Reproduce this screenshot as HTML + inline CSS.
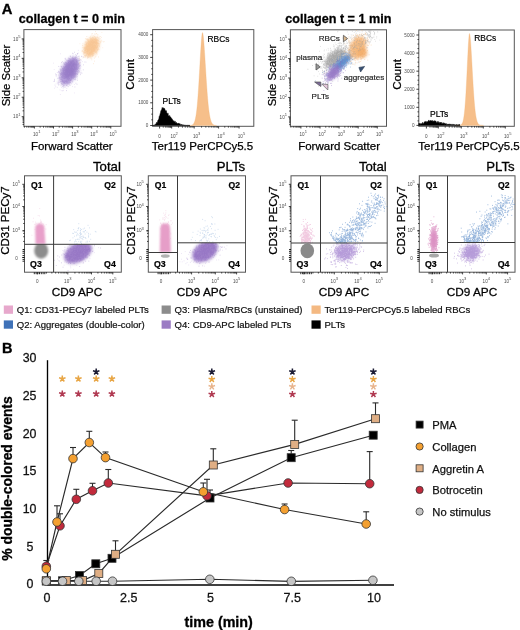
<!DOCTYPE html><html><head><meta charset="utf-8"><style>html,body{margin:0;padding:0;background:#fff;width:520px;height:630px;overflow:hidden}svg{display:block;filter:blur(0.3px);font-family:"Liberation Sans",sans-serif}</style></head><body>
<svg width="520" height="630" viewBox="0 0 520 630">
<defs>
<filter id="b0_4" x="-50%" y="-50%" width="200%" height="200%"><feGaussianBlur stdDeviation="0.4"/></filter>
<filter id="b0_5" x="-50%" y="-50%" width="200%" height="200%"><feGaussianBlur stdDeviation="0.5"/></filter>
<filter id="b0_6" x="-50%" y="-50%" width="200%" height="200%"><feGaussianBlur stdDeviation="0.6"/></filter>
<filter id="b0_7" x="-50%" y="-50%" width="200%" height="200%"><feGaussianBlur stdDeviation="0.7"/></filter>
<filter id="b0_8" x="-50%" y="-50%" width="200%" height="200%"><feGaussianBlur stdDeviation="0.8"/></filter>
<filter id="b0_9" x="-50%" y="-50%" width="200%" height="200%"><feGaussianBlur stdDeviation="0.9"/></filter>
<filter id="b1_0" x="-50%" y="-50%" width="200%" height="200%"><feGaussianBlur stdDeviation="1.0"/></filter>
<filter id="b1_1" x="-50%" y="-50%" width="200%" height="200%"><feGaussianBlur stdDeviation="1.1"/></filter>
<filter id="b1_2" x="-50%" y="-50%" width="200%" height="200%"><feGaussianBlur stdDeviation="1.2"/></filter>
<filter id="b1_3" x="-50%" y="-50%" width="200%" height="200%"><feGaussianBlur stdDeviation="1.3"/></filter>
<filter id="b1_4" x="-50%" y="-50%" width="200%" height="200%"><feGaussianBlur stdDeviation="1.4"/></filter>
<filter id="b1_5" x="-50%" y="-50%" width="200%" height="200%"><feGaussianBlur stdDeviation="1.5"/></filter>
<filter id="b1_6" x="-50%" y="-50%" width="200%" height="200%"><feGaussianBlur stdDeviation="1.6"/></filter>
<filter id="b1_7" x="-50%" y="-50%" width="200%" height="200%"><feGaussianBlur stdDeviation="1.7"/></filter>
<filter id="b1_8" x="-50%" y="-50%" width="200%" height="200%"><feGaussianBlur stdDeviation="1.8"/></filter>
<filter id="b1_9" x="-50%" y="-50%" width="200%" height="200%"><feGaussianBlur stdDeviation="1.9"/></filter>
<filter id="b2_0" x="-50%" y="-50%" width="200%" height="200%"><feGaussianBlur stdDeviation="2.0"/></filter>
<filter id="b2_1" x="-50%" y="-50%" width="200%" height="200%"><feGaussianBlur stdDeviation="2.1"/></filter>
<filter id="b2_2" x="-50%" y="-50%" width="200%" height="200%"><feGaussianBlur stdDeviation="2.2"/></filter>
<filter id="b2_3" x="-50%" y="-50%" width="200%" height="200%"><feGaussianBlur stdDeviation="2.3"/></filter>
<filter id="b2_4" x="-50%" y="-50%" width="200%" height="200%"><feGaussianBlur stdDeviation="2.4"/></filter>
<filter id="b2_5" x="-50%" y="-50%" width="200%" height="200%"><feGaussianBlur stdDeviation="2.5"/></filter>
<filter id="b2_6" x="-50%" y="-50%" width="200%" height="200%"><feGaussianBlur stdDeviation="2.6"/></filter>
<filter id="b2_7" x="-50%" y="-50%" width="200%" height="200%"><feGaussianBlur stdDeviation="2.7"/></filter>
<filter id="b2_8" x="-50%" y="-50%" width="200%" height="200%"><feGaussianBlur stdDeviation="2.8"/></filter>
<filter id="b2_9" x="-50%" y="-50%" width="200%" height="200%"><feGaussianBlur stdDeviation="2.9"/></filter>
<filter id="b3_0" x="-50%" y="-50%" width="200%" height="200%"><feGaussianBlur stdDeviation="3.0"/></filter>
<filter id="b3_1" x="-50%" y="-50%" width="200%" height="200%"><feGaussianBlur stdDeviation="3.1"/></filter>
<filter id="b3_2" x="-50%" y="-50%" width="200%" height="200%"><feGaussianBlur stdDeviation="3.2"/></filter>
<filter id="b3_3" x="-50%" y="-50%" width="200%" height="200%"><feGaussianBlur stdDeviation="3.3"/></filter>
<filter id="b3_4" x="-50%" y="-50%" width="200%" height="200%"><feGaussianBlur stdDeviation="3.4"/></filter>
<filter id="b3_5" x="-50%" y="-50%" width="200%" height="200%"><feGaussianBlur stdDeviation="3.5"/></filter>
<filter id="b3_6" x="-50%" y="-50%" width="200%" height="200%"><feGaussianBlur stdDeviation="3.6"/></filter>
<filter id="b3_7" x="-50%" y="-50%" width="200%" height="200%"><feGaussianBlur stdDeviation="3.7"/></filter>
<filter id="b3_8" x="-50%" y="-50%" width="200%" height="200%"><feGaussianBlur stdDeviation="3.8"/></filter>
<filter id="b3_9" x="-50%" y="-50%" width="200%" height="200%"><feGaussianBlur stdDeviation="3.9"/></filter>
<filter id="b4_0" x="-50%" y="-50%" width="200%" height="200%"><feGaussianBlur stdDeviation="4.0"/></filter>
</defs>
<rect width="520" height="630" fill="#fff"/>
<text x="1.8" y="13.6" font-size="14.8" font-weight="bold" text-anchor="start" fill="#000" stroke="#000" stroke-width="0.33">A</text>
<text x="18.8" y="23" font-size="12.6" font-weight="bold" text-anchor="start" fill="#000" stroke="#000" stroke-width="0.28">collagen t = 0 min</text>
<text x="285.3" y="23" font-size="12.6" font-weight="bold" text-anchor="start" fill="#000" stroke="#000" stroke-width="0.28">collagen t = 1 min</text>
<rect x="23.9" y="29.6" width="97.1" height="96.7" fill="none" stroke="#555" stroke-width="1"/>
<path d="M22.6 124.44h1.3M22.6 122.56h1.3M22.6 121.01h1.3M22.6 119.71h1.3M22.6 118.58h1.3M22.6 117.59h1.3M21.7 116.7h2.2M22.6 110.84h1.3M22.6 107.42h1.3M22.6 104.99h1.3M22.6 103.11h1.3M22.6 101.56h1.3M22.6 100.26h1.3M22.6 99.13h1.3M22.6 98.14h1.3M21.7 97.25h2.2M22.6 91.39h1.3M22.6 87.97h1.3M22.6 85.54h1.3M22.6 83.66h1.3M22.6 82.11h1.3M22.6 80.81h1.3M22.6 79.68h1.3M22.6 78.69h1.3M21.7 77.8h2.2M22.6 71.94h1.3M22.6 68.52h1.3M22.6 66.09h1.3M22.6 64.21h1.3M22.6 62.66h1.3M22.6 61.36h1.3M22.6 60.23h1.3M22.6 59.24h1.3M21.7 58.35h2.2M22.6 52.49h1.3M22.6 49.07h1.3M22.6 46.64h1.3M22.6 44.76h1.3M22.6 43.21h1.3M22.6 41.91h1.3M22.6 40.78h1.3M22.6 39.79h1.3M21.7 38.9h2.2" stroke="#111" stroke-width="0.8"/>
<text x="20.5" y="40.6" font-size="4.6" fill="#4a4a4a" text-anchor="end">10<tspan dy="-2.6" font-size="4.05">5</tspan></text>
<text x="20.5" y="60.05" font-size="4.6" fill="#4a4a4a" text-anchor="end">10<tspan dy="-2.6" font-size="4.05">4</tspan></text>
<text x="20.5" y="79.5" font-size="4.6" fill="#4a4a4a" text-anchor="end">10<tspan dy="-2.6" font-size="4.05">3</tspan></text>
<text x="20.5" y="98.95" font-size="4.6" fill="#4a4a4a" text-anchor="end">10<tspan dy="-2.6" font-size="4.05">2</tspan></text>
<text x="20.5" y="118.4" font-size="4.6" fill="#4a4a4a" text-anchor="end">10<tspan dy="-2.6" font-size="4.05">1</tspan></text>
<path d="M24.41 126.3v1.3M26.8 126.3v1.3M28.65 126.3v1.3M30.16 126.3v1.3M31.44 126.3v1.3M32.55 126.3v1.3M33.53 126.3v1.3M34.4 126.3v2.2M40.15 126.3v1.3M43.51 126.3v1.3M45.9 126.3v1.3M47.75 126.3v1.3M49.26 126.3v1.3M50.54 126.3v1.3M51.65 126.3v1.3M52.63 126.3v1.3M53.5 126.3v2.2M59.25 126.3v1.3M62.61 126.3v1.3M65 126.3v1.3M66.85 126.3v1.3M68.36 126.3v1.3M69.64 126.3v1.3M70.75 126.3v1.3M71.73 126.3v1.3M72.6 126.3v2.2M78.35 126.3v1.3M81.71 126.3v1.3M84.1 126.3v1.3M85.95 126.3v1.3M87.46 126.3v1.3M88.74 126.3v1.3M89.85 126.3v1.3M90.83 126.3v1.3M91.7 126.3v2.2M97.45 126.3v1.3M100.81 126.3v1.3M103.2 126.3v1.3M105.05 126.3v1.3M106.56 126.3v1.3M107.84 126.3v1.3M108.95 126.3v1.3M109.93 126.3v1.3M110.8 126.3v2.2" stroke="#111" stroke-width="0.8"/>
<text x="36.7" y="135.9" font-size="4.6" fill="#4a4a4a" text-anchor="middle">10<tspan dy="-2.6" font-size="4.05">1</tspan></text>
<text x="55.8" y="135.9" font-size="4.6" fill="#4a4a4a" text-anchor="middle">10<tspan dy="-2.6" font-size="4.05">2</tspan></text>
<text x="74.9" y="135.9" font-size="4.6" fill="#4a4a4a" text-anchor="middle">10<tspan dy="-2.6" font-size="4.05">3</tspan></text>
<text x="94" y="135.9" font-size="4.6" fill="#4a4a4a" text-anchor="middle">10<tspan dy="-2.6" font-size="4.05">4</tspan></text>
<text x="113.1" y="135.9" font-size="4.6" fill="#4a4a4a" text-anchor="middle">10<tspan dy="-2.6" font-size="4.05">5</tspan></text>
<text x="10.3" y="75.5" font-size="11.3" text-anchor="middle" fill="#000" stroke="#000" stroke-width="0.25" transform="rotate(-90 10.3 75.5)">Side Scatter</text>
<text x="71.8" y="150.3" font-size="11.5" text-anchor="middle" fill="#000" stroke="#000" stroke-width="0.25">Forward Scatter</text>
<path d="M53.43 63.15h.01M68.19 67.04h.01M74.89 76.68h.01M65.83 79.12h.01M61.71 72.26h.01M60.5 77.64h.01M75.35 73.19h.01M76.15 59.33h.01M67.58 75.54h.01M66.52 76.45h.01M71.84 66.69h.01M75.05 69.73h.01M72.69 71.38h.01M66.49 79.88h.01M64.22 68.75h.01M75.07 65.98h.01M60.22 81.43h.01M72.9 77.75h.01M54.88 85.02h.01M63.17 82.26h.01M61.39 87.54h.01M61.92 69.92h.01M72.46 86.54h.01M77.91 72.08h.01M67.9 68.47h.01M72.5 74.54h.01M60.34 94.53h.01M54.22 69.54h.01M70.53 72.04h.01M69.69 69.83h.01M63.2 84.95h.01M62.08 72.7h.01M63.88 79.15h.01M65.07 77.84h.01M80.02 64.33h.01M67.61 79.06h.01M69.33 71.28h.01M80.94 66.74h.01M64.2 74.91h.01M67.09 71.07h.01M61 65.63h.01M77.54 74.21h.01M68.9 84.34h.01M74.37 72.53h.01M78.76 60.4h.01M63.26 85.17h.01M74.33 63.8h.01M68.78 69.32h.01M65.68 76.27h.01M78.54 53.15h.01M80.32 67.79h.01M66.99 83.12h.01M69.54 70.19h.01M69.16 64.42h.01M65.53 71.17h.01M80.42 68.73h.01M71.71 72.82h.01M72.76 65.17h.01M74.09 57.24h.01M61.06 74.4h.01M70.06 69.01h.01M71.79 77.27h.01M68.12 68.91h.01M63.17 81.12h.01M65.87 75.67h.01M69.18 73.03h.01M65.57 59.08h.01M73.36 60.14h.01M59.47 80.84h.01M70.39 80.27h.01M68.53 63.33h.01M63.62 90.3h.01M75.01 78.84h.01M67.52 71.12h.01M72.04 58.25h.01M73.47 65.27h.01M68.06 73.94h.01M62.97 71.92h.01M70.68 74.36h.01M86.14 62.17h.01M66.35 74.22h.01M67.17 73.24h.01M65.88 65.31h.01M70.55 72.85h.01M62.47 69.77h.01M59.14 78.34h.01M75.78 74.19h.01M63.08 72.8h.01M79.96 63.13h.01M79.9 68.81h.01M70.68 71.84h.01M75.17 66.33h.01M77.66 78.76h.01M73.14 61.07h.01M66.54 69.62h.01M65.37 62.49h.01M64.05 82.7h.01M78.33 71.45h.01M66.84 88.49h.01M55.92 87.02h.01M63.94 71.67h.01M63.06 77.87h.01M71.66 70.23h.01M78.33 50.33h.01M66.91 78.99h.01M68.23 77.32h.01M68.92 68.43h.01M71.46 66.47h.01M69.75 73.08h.01M68.18 72.65h.01M75.07 65.9h.01M81.03 70.84h.01M67.89 81.72h.01M69.43 71.85h.01M61.32 66.62h.01M66.8 81.41h.01M61.02 63.97h.01M58.77 75.31h.01M77.99 64.32h.01M73.84 70.97h.01M69.15 69.84h.01M58.46 72.19h.01M67.14 71.17h.01M57.39 87.32h.01M67.69 82.7h.01M82.25 73.18h.01M61.24 90.65h.01M69.36 61.51h.01M56.06 83.87h.01M72.54 64.06h.01M64.92 78.17h.01M67.22 61.22h.01M70.65 70.1h.01M57.07 82.04h.01M80.47 62.45h.01M81.07 60.6h.01M74.57 74.21h.01M65.96 72.32h.01M71.34 73.68h.01M64.57 79.45h.01M72.39 60.19h.01M65.44 75.06h.01M62.85 68.33h.01M58.88 74.65h.01M70.68 78.54h.01M62.95 82.02h.01M76.08 60.22h.01M73.78 74.8h.01M65.17 58.14h.01M65.68 68.99h.01M67.32 77.66h.01M70.01 74.88h.01M65.18 75.13h.01M74.62 73.41h.01M68.89 74.88h.01M62.19 70.77h.01M58.86 81.15h.01M69.94 80.19h.01M79.04 57.25h.01M57.17 72.45h.01M71.54 83.72h.01M73.94 69.41h.01M82.31 61.59h.01M61.23 83.14h.01M67.12 72.16h.01M61.16 73.96h.01M74.32 92.94h.01M71.85 63.97h.01M77.24 75.04h.01M66.61 68.8h.01M67.01 78.16h.01M63.23 62.88h.01M65.24 74.92h.01M73.74 74.66h.01M58.45 77.94h.01M69.47 84.52h.01M77.02 59.81h.01M62.12 73.04h.01M68.3 67.17h.01M67.08 70.2h.01M67.32 74.85h.01M64.62 74.27h.01M68.17 63.34h.01M66.67 72.98h.01M63.76 69.89h.01M63.22 67.69h.01M74.42 60.31h.01M76.85 67.01h.01M63.62 63.87h.01M67.05 76.07h.01M60.23 81.85h.01M68.83 60.11h.01M77.96 64.37h.01M66.32 71.02h.01M79.28 69.74h.01M69.07 62.1h.01M75.05 64.46h.01M72.42 62.17h.01M63.78 73.28h.01M79.05 58.8h.01M63.27 81.83h.01M76.26 64.71h.01M71.43 66.45h.01M67.96 60.53h.01M77.23 53.87h.01M76.26 57.78h.01M69.22 83.6h.01M57.62 83.99h.01M72.89 63.56h.01M56.54 75.97h.01M72.67 72.68h.01M67.83 60.85h.01M53.36 81.42h.01M59.96 89.82h.01M76.1 71.34h.01M62.16 66.93h.01M63.04 70.59h.01M65.99 68.86h.01M60.14 76.01h.01M64.74 85.52h.01M64.78 70.55h.01M61.67 77.99h.01M65.18 87.18h.01M67.98 64.63h.01M71.37 72.6h.01M66.48 65h.01M59.17 76.97h.01M57.54 72.49h.01M74.32 84.47h.01M64.03 78.2h.01M71.56 69.83h.01M65.91 77.96h.01M71.85 68.19h.01M71.24 68.07h.01M87.81 57.4h.01M58.26 81.01h.01M65.69 59.26h.01M64.11 69.36h.01M62.84 67.91h.01M66.84 85.83h.01M71.54 77.11h.01M68.01 62h.01M62.27 68.39h.01M68.1 69.42h.01M75.1 76.97h.01M60.62 53.82h.01M72.01 72.46h.01M54.54 88.18h.01M71.61 79.73h.01M55.54 86.1h.01" stroke="#c8b4e4" stroke-width="1" stroke-linecap="round" opacity="0.35"/>
<ellipse cx="69.5" cy="71" rx="15" ry="8.3" fill="#ac94d6" opacity="0.9" transform="rotate(-64 69.5 71)" filter="url(#b1_6)"/>
<ellipse cx="70.5" cy="69" rx="10" ry="5.5" fill="#9a7ec8" opacity="0.7" transform="rotate(-64 70.5 69)" filter="url(#b1_8)"/>
<path d="M63.4 70.41h.01M65.34 81.54h.01M64.28 76.61h.01M72.66 60.98h.01M65.62 62.26h.01M64.82 72.07h.01M66.56 76.83h.01M66.63 85.4h.01M71.94 75.48h.01M69.1 71.06h.01M68.51 71.22h.01M66.06 70.1h.01M67.33 79.3h.01M68.35 70.99h.01M71.66 72.38h.01M80.36 65.53h.01M75.52 58.36h.01M63.4 69.17h.01M63.73 74.58h.01M63.78 68.75h.01M62.98 72.89h.01M71.99 78.41h.01M70.16 71.81h.01M60.33 75.23h.01M73.96 68.12h.01M73.92 74.02h.01M68.96 68.65h.01M66.35 70.99h.01M65.84 75.28h.01M67.46 77.91h.01M71.14 73.78h.01M72.16 76.88h.01M74.85 71.66h.01M73.96 73.21h.01M70.16 82.69h.01M72.22 71.77h.01M59.31 77.23h.01M66.98 74.91h.01M69.72 73.56h.01M61.23 84.28h.01M73.24 72.06h.01M68.64 69.32h.01M65.49 70.36h.01M73.56 76.52h.01M70.79 74.74h.01M67.12 77.99h.01M72.11 74.52h.01M71.69 76.68h.01M71.09 71.01h.01M56.26 74.59h.01M67.72 68.17h.01M68.25 69.19h.01M65.32 70.14h.01M68.81 74.33h.01M75.82 69.47h.01M62.2 81.33h.01M66.73 65.81h.01M77.95 73.1h.01M68.73 68.26h.01M66.11 66.15h.01M68.25 75.84h.01M70.25 73.53h.01M68.93 65.41h.01M73.9 69.55h.01M68.34 68.71h.01M61.04 79.51h.01M71.94 67.7h.01M76.25 64.54h.01M70.43 63.03h.01M71.52 70.03h.01M64.03 81.33h.01M83.26 69.85h.01M66.34 70.69h.01M66.4 90.62h.01M70.54 68.36h.01M64.12 80.83h.01M67.96 81.07h.01M70.79 76.93h.01M78.47 64.75h.01M69.52 74.1h.01M68.12 68.07h.01M73.22 58.23h.01M76.66 61.19h.01M71.35 72.77h.01M73.98 75.2h.01M66.93 80.27h.01M71.22 77.63h.01M76.62 70.93h.01M71.42 68.64h.01M64.25 67.52h.01M68.32 62.12h.01M61.53 73.56h.01M75.32 74.31h.01M68.71 64.51h.01M76.07 69.33h.01M75.23 64.86h.01M77.28 71.48h.01M72.27 74.93h.01M70.3 68.37h.01M65.45 77.39h.01M64.43 82.21h.01M72.07 67.41h.01M67.32 70.39h.01M70.39 68.86h.01M69.99 85.41h.01M61.87 70.33h.01M68.5 75.52h.01M63.23 75.16h.01M62.79 86.55h.01M71.57 74.8h.01M72.23 64.85h.01M73.67 69.85h.01M61.52 72.12h.01M73.63 73.14h.01M69.71 64.79h.01M62.77 90.75h.01M69.78 72.18h.01M61.53 62.58h.01M68.89 65.01h.01M75.92 59.94h.01M79.1 66.21h.01M71.61 69.42h.01M71.47 69.44h.01M66.75 63.09h.01M73.13 77.27h.01M76.19 74.6h.01M72.59 64.94h.01M75.11 57.4h.01M62.86 69.09h.01M72.68 72.95h.01M80.35 74.64h.01M76.62 63.27h.01M74.17 73.53h.01M76.38 62.09h.01M62.6 75.7h.01M73.93 74.72h.01M64.19 70.06h.01M71.29 65.31h.01M73.99 64.47h.01M67.87 82.8h.01M68.06 77.93h.01M72.07 69.44h.01M64.46 74.04h.01M59.63 78.89h.01M73.15 64.11h.01M68.44 66.36h.01M66.18 65.27h.01M63.16 71.87h.01M71.03 63.16h.01M61.72 69.21h.01M68.02 61.13h.01M60.33 74.13h.01M67.38 77.09h.01M71.71 70.37h.01M74.77 79.43h.01M66.07 63.69h.01M67.79 68h.01M69.91 78.9h.01M68.92 70.11h.01M67.11 72.77h.01M78.96 67.97h.01M66.14 74.64h.01M63.69 71.83h.01M68.51 60.41h.01M78.13 56.53h.01M77.22 58.09h.01M64.53 68.05h.01M66.5 67.71h.01M76.56 61.65h.01M71.27 72.9h.01M63.86 76.4h.01M72.23 71.36h.01M73.14 69.01h.01M60.04 73.31h.01M62.91 81.52h.01M66.34 81.45h.01M69.52 65.46h.01M58.93 72.17h.01M67.97 71.43h.01M73.04 70.95h.01M77.5 69.74h.01M60.13 69.22h.01M81 72.45h.01M62.32 74.92h.01M71.92 75.2h.01M70.79 80.18h.01M76.93 65.18h.01M69.98 71.46h.01M62.69 73.85h.01M70.71 74.53h.01M66.07 71.18h.01M62.28 61.63h.01M74.93 86.96h.01M68.76 79.3h.01M75.12 76.9h.01M74.38 52.25h.01M78.18 67.26h.01M75.14 74.68h.01M77.71 69.06h.01M76.18 57.09h.01M64.19 70.36h.01M67.63 73.14h.01M65.17 58.77h.01M64.7 64.54h.01M72.05 66.64h.01M64.09 72.6h.01M75.21 57.73h.01M74.71 59.28h.01M78.65 70.74h.01M76.65 68.78h.01M62.67 84.58h.01M76.16 68.93h.01M65.92 70.87h.01M69.65 67.45h.01M75.18 68.08h.01M63.69 71.01h.01M62.89 81.88h.01M65.72 66.09h.01M67.51 76.21h.01M74.58 76.23h.01M64.67 73.69h.01M69.23 73.72h.01M58.52 84.92h.01M69.16 60.68h.01M65.67 67.02h.01M78.65 66.19h.01M84.93 62h.01M71.4 71.74h.01M60.87 81.83h.01M69.22 78.32h.01M64.27 78.52h.01M70.88 75.86h.01M70.86 71h.01M63.97 85.01h.01M72.92 69.81h.01M62.35 80.11h.01M68.95 68.25h.01M62.64 68.57h.01M66.8 72.3h.01M63.89 68.87h.01M67.18 74.37h.01M63.87 73.37h.01M64.35 82.53h.01M71.11 72.03h.01M70.21 55.94h.01M72.94 56.15h.01M70.28 60.35h.01M74.64 67.62h.01M73.72 78.7h.01M77.46 62.84h.01M68 70.74h.01M74.8 74.16h.01M62.83 70.18h.01M75.46 73.14h.01M65.59 72.73h.01M58.73 66.45h.01M75.94 83.19h.01M74.23 76.42h.01M73.1 53.73h.01M69.91 71.78h.01M67.91 72.21h.01M71.64 67.6h.01M66.23 63.5h.01M63.27 77.25h.01M70.59 73.26h.01M73.36 65.22h.01M74.91 71.39h.01M70.2 70.32h.01M83.48 64.85h.01M64.57 74.25h.01M70.75 70.92h.01M60.56 70.98h.01M69.67 58.65h.01M68.1 86.6h.01M63.74 73.78h.01M69.76 75.54h.01M71.45 66.41h.01M67.55 64.99h.01M72.77 60.95h.01M62.38 80.66h.01M70.13 65.04h.01M71.38 74.36h.01M69.77 76.69h.01M69.09 66.3h.01M63.05 75.53h.01M63.74 85.52h.01M67.91 73.31h.01M68.46 82.99h.01M77.39 80.26h.01M73.9 70.05h.01M70.39 68.83h.01M74.07 59.99h.01M65.61 70.77h.01M61.04 79.67h.01M63.23 74.25h.01M64.98 76.47h.01M63.88 78.42h.01M73.74 69.43h.01M65.87 74.61h.01M62.25 83.97h.01M67.19 64.06h.01M75.34 74.78h.01M72.59 69.53h.01M76.6 73.58h.01M74.58 68.21h.01M75.25 73.49h.01M72.63 62.21h.01M73.6 69.46h.01M81 73.34h.01M66.23 65.98h.01M69.15 82.98h.01M75.37 75.24h.01M70.24 73.52h.01M73.07 71.01h.01M69.86 82.51h.01M72.34 58.75h.01M71.42 71.06h.01M62.17 77.53h.01M61.27 81.25h.01M66.19 71.73h.01M68.65 71.34h.01M67.7 76.12h.01M71.55 71.23h.01M61.91 72.65h.01M78.96 71.01h.01M71.59 78.06h.01M72.18 72.63h.01M71.33 63.73h.01M77.61 53.5h.01M68.31 78.83h.01M69.56 74.91h.01M60.24 73.49h.01M74.94 67.11h.01M77.01 84.24h.01M60.76 70.78h.01M73.25 73.08h.01M67.71 78.29h.01M65.92 77.24h.01M73.25 76.8h.01M58.01 82.92h.01M65.38 81.05h.01M73.81 76.55h.01M69.22 69.63h.01M67.27 71.46h.01M64.11 83.18h.01M66.25 73.29h.01M78.12 68.54h.01M67.81 65.54h.01M72.63 73.18h.01M61.73 74.61h.01M74.17 68.01h.01M67.19 74.7h.01M55.63 73.99h.01M66.84 76.4h.01M70.12 59.22h.01M68.5 68.67h.01M79.28 66.1h.01M63.59 72.12h.01M68.47 62.67h.01M73.11 77.78h.01M69.43 72.28h.01M83.66 57.16h.01M73.28 66.44h.01M64.43 72.71h.01M68.96 71.45h.01M75.34 71.13h.01M77.13 64.62h.01M67.9 74.3h.01M63.96 82.83h.01M68.14 72.67h.01M67.31 69.8h.01M77.36 73.92h.01M73.86 62.14h.01M66.15 66.72h.01M70.32 64.62h.01M68.7 79.8h.01M74.84 66.36h.01M75.86 56.61h.01M69.45 64.52h.01M70.43 69.34h.01M63.51 66.79h.01M70.32 56.49h.01M69.55 78.76h.01M67.27 70.84h.01M72.47 68.61h.01M76.67 68.29h.01M70.58 75.18h.01M70.59 68.97h.01M76.85 76.9h.01M72.49 71.45h.01M67.69 71.22h.01M68.59 80.08h.01M71.01 71.91h.01M69.06 63.47h.01M66.6 77.66h.01M68.07 72.31h.01M64.05 62.8h.01M65.31 77.89h.01M69 69.23h.01M64.31 77.32h.01M66.85 60.24h.01M75.73 54.74h.01M75.99 57.29h.01M69.17 72.67h.01M67.53 63.86h.01M72.35 71.38h.01M65.12 68.01h.01M73.72 60.14h.01M70.23 82.36h.01M70.28 62.58h.01M67.36 70.36h.01M78.3 63.54h.01M68.63 69.01h.01M66.14 74.97h.01M71.27 69.55h.01M75.99 68.02h.01M61.07 66.59h.01M67.89 66.14h.01M63.88 72.61h.01M58.28 83.33h.01M69.15 63.32h.01M68.55 64.7h.01M71.15 70.57h.01M66.28 68.86h.01M73.38 64.25h.01M69.55 74.84h.01M64.35 74.39h.01M69.39 72.52h.01M79.74 66.07h.01M66.19 80.96h.01M70.95 61.76h.01M67.15 75.19h.01M62.34 76.69h.01M74.69 63.02h.01M72.51 73.28h.01M62.06 78.22h.01M67.51 73.02h.01M76.85 66.82h.01M71.5 62.03h.01M68.82 74.23h.01M66.89 66.33h.01M68.69 64.65h.01M65.4 74.38h.01M78.88 72.61h.01M67.85 70.46h.01M65.74 73.64h.01M65.76 73.28h.01M69.1 70.24h.01M72.07 72.01h.01M68.36 75.16h.01M75.87 77.66h.01M73.97 63.89h.01M75.67 72.22h.01M73.45 65.54h.01M75.74 64.01h.01M65.99 64.37h.01M76.49 55.46h.01M66.53 76.44h.01M71.24 65.1h.01M60.33 69.18h.01M78.93 60.11h.01M73.63 58.82h.01M61.42 83.37h.01M65.35 77.06h.01M70.82 66.1h.01M73.63 66.43h.01M67.12 63.69h.01M65.75 69.76h.01M72.09 68.47h.01M72.2 66.87h.01M67.82 70.83h.01M70.71 63.02h.01M58.92 84.69h.01M71.36 66.62h.01M70.56 80.14h.01M68.66 62.59h.01M74.5 75.35h.01M69.76 78.55h.01M69.02 67.65h.01M69.46 78.59h.01M60.97 74.45h.01M57.81 78.38h.01M64.54 68.81h.01M69.59 66.9h.01M71.64 63.5h.01M67.09 71.01h.01M73.32 64.12h.01M61.5 66.95h.01M71.06 72.54h.01M66.03 64.52h.01M70.49 62.65h.01M66.82 72.54h.01M64.33 70.51h.01M63.8 69.56h.01M65.97 68.59h.01M66.49 77.05h.01M75.11 65.16h.01M70.31 74.74h.01M67.27 66.05h.01M63.8 75.11h.01M67.2 66.89h.01M72.49 69.19h.01M60.43 70.08h.01M80.82 59.66h.01M68.89 67.61h.01M72.38 57.58h.01M73.93 65.16h.01M71.22 77.37h.01M69.54 74.21h.01M74.91 70h.01M70.21 70.84h.01M74.3 72.93h.01M73.26 75.22h.01M63.18 83.01h.01M74.19 75.17h.01M62.83 86.26h.01M71.05 68.65h.01M63.63 74.2h.01M66.06 75.29h.01M71.71 73.91h.01M65.44 66.75h.01M67.24 81.85h.01M65.07 83.43h.01M67.04 78.7h.01M54.46 80.7h.01M65.93 77.33h.01M77.18 61.47h.01M63.15 76.72h.01M71.98 66.78h.01M56.01 75.87h.01M73.02 70.22h.01M65.95 71.94h.01M72.59 73.01h.01M64.41 63.77h.01M77.89 60.44h.01M69.25 69.25h.01M72.96 71.65h.01M62.81 75.86h.01M69.08 65.93h.01M77.16 76.79h.01M69.1 63.86h.01M66.69 69.99h.01M74.18 58.76h.01M59.12 82.48h.01M73.02 75.19h.01M78.91 68.23h.01M65.69 72.07h.01M60.38 73.16h.01M73.05 74.95h.01M69.15 82.34h.01M72.99 71.71h.01M81.89 56.68h.01M69.99 61.68h.01M65.22 78.17h.01M61.4 74.34h.01M62.82 71.12h.01M76.51 66.04h.01M64.26 75.3h.01M75.84 79.85h.01M72.69 65.17h.01M69.93 63.99h.01M71.28 74.99h.01M72.62 81.85h.01M66.24 82.34h.01M62.61 73.47h.01M63.57 86.72h.01M77.16 68.48h.01M65.57 74.34h.01M68.16 66.33h.01M79.48 60.28h.01M73.88 63.35h.01M61.55 76.73h.01M70.92 64.44h.01M70.45 61.8h.01M68.16 76.58h.01M66.78 77.63h.01M73.48 73.86h.01M66.91 83.1h.01M68.43 58.21h.01M63.13 87.96h.01M69.25 80.11h.01M70.33 73.66h.01M72.64 74.43h.01M67.97 68.87h.01M66.8 67.42h.01M72.31 74.15h.01M69.22 61.37h.01M54.31 81.45h.01M73.37 72.89h.01M64.42 74.48h.01M68.78 69.54h.01M64.95 66.94h.01M61.5 74.71h.01M63.03 73.19h.01M70.74 64.99h.01M72.04 69.33h.01M58.59 71.35h.01M79.05 58.63h.01M72.63 53.26h.01M60.67 78.9h.01M73.05 70.21h.01M77.47 53.95h.01M66.28 62.89h.01M77.19 72.91h.01M65.57 70.82h.01M68.65 75.1h.01M69.56 72.8h.01M73.02 77.31h.01M70.23 65.14h.01M72 75.54h.01M65.25 72.61h.01M69.78 81.17h.01M66.46 69.93h.01M65.19 76.36h.01M76.06 75.71h.01M74.12 64.56h.01M71.12 68.74h.01M79.62 71.73h.01M72.03 69.26h.01M66.61 69.1h.01M71.85 73.21h.01M64.03 70.9h.01M76.26 67.96h.01M70.49 80.53h.01M71.75 60.91h.01M67.24 69.61h.01M67.7 76.37h.01M67.95 74.32h.01M63.58 73.76h.01M72.17 70.97h.01M59.43 72.08h.01M71.62 62.5h.01M65.41 75.53h.01M61 85.82h.01M68.26 76.49h.01M58.26 82.28h.01M71.59 72.35h.01M72.3 63.53h.01M69.18 65.44h.01M59.94 77.5h.01M62.53 73.96h.01M76.71 59.67h.01M66.91 67.08h.01M69.76 71.09h.01M76.98 65.84h.01M81.46 56.37h.01M79.65 65.13h.01M68.84 69.51h.01M66.57 66.61h.01M75.38 68.72h.01M68.65 75.7h.01M70.26 80.21h.01M69.71 70.67h.01M70.9 79.59h.01M72.49 72.97h.01M72.52 71.67h.01M79.1 56.15h.01M68.2 77.47h.01M69.98 72.25h.01M69.81 72.52h.01M74.68 69.88h.01M71.01 63h.01M74.44 77.5h.01M66.4 76.34h.01M67.83 83.87h.01M66.11 77.08h.01M70.33 66.93h.01M77.32 74.43h.01M64.99 77.28h.01M63.45 71.16h.01M66.91 69.47h.01M69.96 67.02h.01M75.68 78.97h.01M69.46 73.07h.01M67.05 84.98h.01M61.93 76.92h.01M76.15 60.74h.01M64.84 86.99h.01M75.19 76.59h.01M67.59 68.24h.01M70.55 74.63h.01M67.99 77h.01M65.44 69.53h.01M69.41 71h.01M68.24 71.07h.01M54.55 79.38h.01M71.28 73.1h.01M68.73 77.76h.01M66.04 73.88h.01M65.19 67.01h.01M77.19 69.41h.01M73.45 65.44h.01M71.71 76.22h.01M77.86 67.37h.01M71.39 62.13h.01M76.3 64.83h.01M73.16 61.19h.01M68.78 71.87h.01M68.6 72.02h.01M72.21 65.44h.01" stroke="#8466ba" stroke-width="1" stroke-linecap="round" opacity="0.3"/>
<path d="M97.92 42.07h.01M94.88 47.75h.01M93.06 48.87h.01M92.54 49.51h.01M97.97 47.69h.01M88.88 52.19h.01M97.07 53.35h.01M87.76 45.55h.01M88.92 49.84h.01M85.96 45.15h.01M88.46 49.94h.01M99.17 36.25h.01M100.77 41.91h.01M90.28 43.15h.01M91.37 47.32h.01M96.39 33.54h.01M89.63 43.75h.01M86.76 45.32h.01M92.59 45.34h.01M85.83 42.02h.01M95.94 38.96h.01M91.53 47.15h.01M95 33.52h.01M85.17 50.29h.01M88.25 40.4h.01M95.71 56.3h.01M91.61 33.91h.01M96.44 51.8h.01M93.6 48.44h.01M92.76 40.93h.01M90.71 37.54h.01M92.27 55.42h.01M97.04 52.21h.01M84 53.43h.01M90.76 45.65h.01M95.18 49.53h.01M91.77 49.66h.01M97.1 54.68h.01M88.25 48.2h.01M91.42 52.36h.01M88.29 41.61h.01M103.73 42h.01M83.24 56.93h.01M82.83 43.61h.01M89.83 49.21h.01M92.38 43.87h.01M96.02 56.09h.01M89.8 47.23h.01M88.49 53.05h.01M95.73 44.02h.01M97.77 49.34h.01M90.8 47.83h.01M96.48 46.75h.01M92.75 49.39h.01M85.95 55.53h.01M93.49 43.66h.01M92.43 45.37h.01M87.6 46.21h.01M98.89 43.48h.01M89.74 37.33h.01M92.81 55.54h.01M92.88 53.32h.01M95.56 37.79h.01M92.65 37.3h.01M88.54 50.9h.01M89.92 54.77h.01M92.49 52.09h.01M91.16 50.44h.01M90.73 58.08h.01M89.48 45.79h.01M88.74 54.91h.01M82.13 51.18h.01M96.99 43.05h.01M90.13 51.27h.01M89.73 46.65h.01M97.68 45.46h.01M96.43 43.52h.01M79.91 43.78h.01M91.78 46.82h.01M83.66 49.14h.01M100.51 38.76h.01M102.75 47.79h.01M86.4 52.49h.01M91.79 47.11h.01M92.59 42.37h.01M94.19 44.85h.01M99.15 37.5h.01M100.27 41.35h.01M86.24 48.33h.01M97.18 50.41h.01M84.33 52.77h.01M93.26 46.05h.01M96.3 48.25h.01M101.9 32.52h.01M88.23 44.7h.01M82.89 57.94h.01M87.84 50.08h.01M91.63 46.25h.01M92.25 56.45h.01M84.15 49.69h.01M92.22 50h.01M94.78 46.13h.01M93.14 48.99h.01M90.73 53.05h.01M99.48 45.19h.01M91.8 51.05h.01M93.31 51.49h.01M89.7 56.1h.01M96.03 54.89h.01M86.19 39.69h.01M91.73 58.81h.01M90.31 46.94h.01M92.49 42.29h.01M86.77 47.42h.01M85.13 42.16h.01M86.88 52.82h.01M92.64 38.08h.01M96.5 41.48h.01M86.61 42.91h.01M91.9 59.89h.01M89.55 53.61h.01M93.35 40.84h.01M93.7 35.69h.01M89.37 43.82h.01M90.79 37.63h.01M87.71 49.55h.01M90.98 48.12h.01M90.83 46.67h.01M87.37 41.92h.01M86.14 55.44h.01M90.81 39.86h.01M95.87 39.57h.01M95.27 57.14h.01M90 56.07h.01M91.32 44.38h.01M83.5 47.83h.01M79.4 58.25h.01M87.44 39.17h.01M94.68 47.43h.01M87.25 48.38h.01M97.76 34.77h.01M89.55 45.04h.01M89.7 51.57h.01M97.08 48.99h.01M85.95 51.82h.01M88.04 50.82h.01M89.56 43.26h.01M93.22 51.85h.01M86.34 47.75h.01M91.98 35.16h.01" stroke="#f9d6b4" stroke-width="1" stroke-linecap="round" opacity="0.4"/>
<ellipse cx="91.5" cy="47" rx="11" ry="7.2" fill="#f9cc9e" opacity="0.95" transform="rotate(-64 91.5 47)" filter="url(#b1_5)"/>
<path d="M90.02 54.77h.01M90.06 54.92h.01M88.89 42.85h.01M96.71 33.82h.01M89.53 52.13h.01M96.24 43.49h.01M90.13 44.8h.01M85.29 50.71h.01M93.9 49.86h.01M94.32 49.8h.01M90.97 50.97h.01M94.29 36.55h.01M88.15 57.03h.01M92.75 45.28h.01M94.86 46.61h.01M86.29 48h.01M92.22 46.43h.01M93.13 42.42h.01M88.48 44.59h.01M93.17 45.26h.01M93.28 43.63h.01M85.35 56.43h.01M96.27 40.28h.01M92.66 33.62h.01M93.7 42.07h.01M95.26 42.63h.01M88.97 54.38h.01M94.5 49.19h.01M85.87 49.22h.01M85.48 47.66h.01M94.56 42.58h.01M90.95 51.65h.01M97.66 50.8h.01M88.78 57.35h.01M88.45 46.48h.01M94.18 47.76h.01M87.22 49.22h.01M85.22 48.34h.01M104.02 41.56h.01M89.58 53.47h.01M91.15 53.26h.01M91.27 51.84h.01M99.93 43.77h.01M97.44 37.03h.01M96.02 47.17h.01M86.63 49.01h.01M86.21 47.04h.01M98.43 43.86h.01M93.81 53.7h.01M96.56 40.58h.01M95.61 40.33h.01M92.18 46.9h.01M90.95 42.78h.01M98.01 45.59h.01M97.26 40.3h.01M90.51 52.95h.01M95.5 41.72h.01M93.8 50.42h.01M91.19 51.55h.01M94.03 47.6h.01M87.41 46.32h.01M90.68 52.64h.01M94.33 58.16h.01M87.64 50.88h.01M94.61 39.63h.01M98.96 38.63h.01M95.99 45.21h.01M96.27 42.07h.01M85.31 47.14h.01M92.85 48.13h.01M88.56 43.84h.01M86.37 51.12h.01M90.79 52.71h.01M90.83 46.08h.01M93.2 49.79h.01M98.56 56.95h.01M94.81 46.25h.01M93.07 49.38h.01M91.23 40.62h.01M89.52 46.07h.01M87.53 46.9h.01M90.18 45.58h.01M87.75 46.22h.01M87.87 49.32h.01M89.89 48.68h.01M90.25 41.8h.01M88.72 41.69h.01M90.44 38.61h.01M88.81 56.05h.01M90.73 49.03h.01M93.64 50.58h.01M95.11 47.71h.01M89.37 48.73h.01M92.31 50.54h.01M88.99 40.98h.01M98.91 49.52h.01M92.34 54.55h.01M94.06 40.08h.01M90.35 40.34h.01M91.28 50.4h.01M87.79 40.1h.01M87.35 49.47h.01M96.5 42.55h.01M91.21 48.19h.01M88.06 50.24h.01M93.51 50.26h.01M86.48 49.24h.01M92.83 46.47h.01M90.4 45.39h.01M89 45.56h.01M91.57 50.44h.01M79.64 63.62h.01M97.54 49.38h.01M85.14 55.5h.01M98.17 48.76h.01M90.88 39.78h.01M94.01 46.55h.01M86.9 47.14h.01M86.97 45.89h.01M91.67 47.9h.01M92.25 50.72h.01M86.2 47.99h.01M92.89 53.33h.01M91.93 39.94h.01M91.86 47.27h.01M94.97 42.84h.01M92.71 49.12h.01M86.18 43.96h.01M96.04 50.25h.01M94.33 45.55h.01M92.19 42.28h.01M88.95 44.29h.01M84.7 47.81h.01M85.46 48.83h.01M97.17 39.61h.01M89.78 47.88h.01M87.34 46.75h.01M93.42 38.97h.01M98.9 43.95h.01M91.78 43.87h.01M88.75 48.1h.01M101.3 37.38h.01M93.86 45.75h.01M92.95 44.36h.01M89.23 46.94h.01M83.35 51.68h.01M84.7 51.85h.01M91.01 44.27h.01M91.77 44.74h.01M92.01 48.72h.01M90.36 53.61h.01M88.71 54.46h.01M91.38 48.95h.01M84.91 52.7h.01M87.08 39.34h.01M92.69 40.53h.01M95.41 31.59h.01M91.62 41.69h.01M89.23 49.52h.01M85.6 49.46h.01M79.78 62.41h.01M89.76 49.79h.01M91.43 48.05h.01M91.83 41.24h.01M94.5 44.72h.01M92.25 43.76h.01M88.9 44.42h.01M93.22 43.79h.01M100.74 42.65h.01M86.87 51.26h.01M93.96 51h.01M92.36 55.92h.01M99.98 41.23h.01M92.11 39.36h.01M99.47 46.29h.01M88.97 53.1h.01M91.14 45.77h.01M90.23 47.82h.01M93.53 47.5h.01M91.2 48.01h.01M92.21 44.17h.01M94.47 50.86h.01M91.35 41.7h.01M88.89 44.25h.01M93.22 49.63h.01M93.38 48.6h.01M93.78 50.81h.01M90.19 41.38h.01M94.15 49.95h.01M93.68 46.26h.01M95.94 51.57h.01M84.1 52.48h.01M94.35 42.85h.01M88.1 51.82h.01M88.28 41.27h.01M90.33 43.86h.01M90.95 56.87h.01M87.79 50.97h.01M88.05 48.46h.01M92.17 52.35h.01M91.67 54.32h.01M96.3 44.81h.01M88.51 47.01h.01M92.25 45.01h.01M93.61 50.66h.01M90.23 44.51h.01M87.4 49.6h.01M93.97 48.37h.01M97.68 46.45h.01M88.09 45.06h.01M82.46 45.39h.01M84.45 50.21h.01M88.81 44.66h.01M91.91 45.09h.01M92.76 49.2h.01M89.2 50.58h.01M90.67 43.27h.01M97.95 34.96h.01M87.83 47.06h.01M92.17 45.27h.01M90.45 44.18h.01M93.5 63.68h.01M94.29 47.61h.01M87.24 49.25h.01M91.79 38.67h.01M89.55 47.6h.01M84.6 48.39h.01M88.74 46.99h.01M89.65 45.08h.01M92.85 51.09h.01M90.07 46.62h.01M85.82 52.52h.01M86.86 46.12h.01M89.77 41.41h.01M96.04 37.17h.01M92.55 43.19h.01M95.62 47.35h.01M92.43 40.21h.01M97.19 43.54h.01M96.3 39.16h.01M94.1 41.64h.01M85.08 44.59h.01M88.18 43.8h.01M94.2 47.22h.01M96.5 47.59h.01M92.61 46.32h.01M91.94 52h.01M85.18 56.79h.01M88.75 49.77h.01M84.59 56.03h.01M94.64 48.12h.01M92.56 47.49h.01M86.74 54.93h.01M92.16 43.11h.01M95.29 43.54h.01M92.72 47.01h.01M92.98 37.52h.01M101.26 40.31h.01M89.38 53.34h.01M94.03 41.89h.01M97.08 47.02h.01M95.64 46.46h.01M93.48 42.25h.01M91.4 51.35h.01M86.8 48.33h.01M87.55 50.13h.01M82.77 47.36h.01M94.99 49.31h.01M82.2 51.35h.01M91.06 53.18h.01M90.35 42.91h.01M88.34 45.89h.01M91.83 44.82h.01M87.76 56.74h.01M91.48 51.79h.01M95.57 52.39h.01M92.67 47.37h.01M92.78 51.21h.01M91.92 41.49h.01M93.54 48.35h.01M92.01 47.14h.01M90.12 46.24h.01M92.91 43.36h.01M90.17 49.24h.01M94.79 41.74h.01M93.84 45.32h.01M90.32 45.48h.01M89.34 45.69h.01M95.04 45.54h.01M88.76 39.45h.01M91.89 41.4h.01M97.15 47.46h.01M85.34 38.63h.01M89.67 45.38h.01M96.62 41.83h.01M86.39 44.67h.01M94.44 61.13h.01M86.82 36.53h.01M96.15 48.61h.01M93.44 55.11h.01M93.82 49.35h.01M88.69 51.04h.01M97.66 37.15h.01M89.96 43.2h.01M90.19 55.96h.01M89.39 42.63h.01M89.7 48.56h.01M99.17 39.01h.01M85.56 50.54h.01M84.97 57.56h.01M92.16 46.92h.01M86.56 46.72h.01M94.05 50.79h.01M87.38 58.09h.01M87.9 42.63h.01M95.39 38.66h.01M84.53 55.28h.01M92.31 40.23h.01M90.36 49.93h.01M94.99 34.33h.01M95.5 46.28h.01M88.89 46.88h.01M97.17 43h.01M92.63 44.33h.01M92.69 51.2h.01M91.56 42.68h.01M88.72 48.77h.01M83.67 54.12h.01M98.16 37.82h.01M93.52 50.13h.01M96.51 53.17h.01M96.26 47.25h.01M88.5 55.08h.01M87.59 53.38h.01M91.48 50.05h.01M90.16 49.53h.01M96.15 48.83h.01M97.09 42.86h.01M87.8 48.1h.01M90.59 43.54h.01M97.13 46.06h.01M89.83 52.82h.01M91.34 45.53h.01M92.85 53.43h.01M92.88 41.16h.01M91.74 44.33h.01M90.13 46.23h.01M82.28 50.7h.01M94.42 47.71h.01M85.96 48.99h.01M91.46 42.66h.01M88.94 46.48h.01M91.76 52.1h.01M93.52 42.32h.01M93.29 43.46h.01M84.94 47.43h.01M94.03 41.13h.01M86.27 46.27h.01M91.69 48.99h.01M92.92 46.93h.01M89.63 50.69h.01M96.68 52.23h.01M92.73 48.58h.01M97.01 40.32h.01M95.55 39.8h.01M90.29 47.99h.01M98.33 40.48h.01M94.76 48.86h.01M88.44 43.18h.01M96.85 44.2h.01M93.77 46.32h.01M100.26 36.49h.01M93.51 46.49h.01M84.81 51.07h.01M91.06 38.8h.01M96.08 51.76h.01M91.54 48.88h.01M79.96 59.68h.01M94.98 42.57h.01M92.37 42.41h.01M87.79 40.3h.01M86.86 38.75h.01M90.68 36.25h.01M92.22 47.63h.01M93.61 42.29h.01M88.95 50.31h.01M91.52 49.17h.01M95.88 42.67h.01M86.02 41.93h.01M87.36 53.14h.01M89.84 43.98h.01M87.29 46.07h.01M87.85 50.23h.01M92.17 44.67h.01M89.71 48.6h.01M83.27 52.6h.01M87.34 51.77h.01M101.93 41.26h.01M84.62 52.92h.01M86.88 43.38h.01" stroke="#f4b478" stroke-width="1" stroke-linecap="round" opacity="0.3"/>
<rect x="152.6" y="29.6" width="101.2" height="96.7" fill="none" stroke="#555" stroke-width="1"/>
<text x="148.4" y="127.1" font-size="4.6" fill="#4a4a4a" text-anchor="end">0</text>
<text x="148.4" y="104.4" font-size="4.6" fill="#4a4a4a" text-anchor="end">1000</text>
<text x="148.4" y="81.7" font-size="4.6" fill="#4a4a4a" text-anchor="end">2000</text>
<text x="148.4" y="59" font-size="4.6" fill="#4a4a4a" text-anchor="end">3000</text>
<text x="148.4" y="36.3" font-size="4.6" fill="#4a4a4a" text-anchor="end">4000</text>
<path d="M150.2 125.5h2.4M151.3 119.83h1.3M151.3 114.15h1.3M151.3 108.47h1.3M150.2 102.8h2.4M151.3 97.12h1.3M151.3 91.45h1.3M151.3 85.78h1.3M150.2 80.1h2.4M151.3 74.42h1.3M151.3 68.75h1.3M151.3 63.07h1.3M150.2 57.4h2.4M151.3 51.73h1.3M151.3 46.05h1.3M151.3 40.38h1.3M150.2 34.7h2.4" stroke="#111" stroke-width="0.8"/>
<path d="M159.6 126.3v2.2M171.7 126.3v2.2M194.2 126.3v2.2M218.6 126.3v2.2M239.1 126.3v2.2M163.24 126.3v1.3M165.37 126.3v1.3M166.88 126.3v1.3M168.06 126.3v1.3M169.02 126.3v1.3M169.83 126.3v1.3M170.53 126.3v1.3M171.15 126.3v1.3M178.47 126.3v1.3M182.44 126.3v1.3M185.25 126.3v1.3M187.43 126.3v1.3M189.21 126.3v1.3M190.71 126.3v1.3M192.02 126.3v1.3M193.17 126.3v1.3M201.55 126.3v1.3M205.84 126.3v1.3M208.89 126.3v1.3M211.25 126.3v1.3M213.19 126.3v1.3M214.82 126.3v1.3M216.24 126.3v1.3M217.48 126.3v1.3M224.77 126.3v1.3M228.38 126.3v1.3M230.94 126.3v1.3M232.93 126.3v1.3M234.55 126.3v1.3M235.92 126.3v1.3M237.11 126.3v1.3M238.16 126.3v1.3" stroke="#111" stroke-width="0.8"/>
<text x="159.6" y="137.9" font-size="4.6" fill="#4a4a4a" text-anchor="middle">0</text>
<text x="170.4" y="137.9" font-size="4.6" fill="#4a4a4a" text-anchor="start">10<tspan dy="-2.6" font-size="4.05">2</tspan></text>
<text x="192.9" y="137.9" font-size="4.6" fill="#4a4a4a" text-anchor="start">10<tspan dy="-2.6" font-size="4.05">3</tspan></text>
<text x="217.3" y="137.9" font-size="4.6" fill="#4a4a4a" text-anchor="start">10<tspan dy="-2.6" font-size="4.05">4</tspan></text>
<text x="237.8" y="137.9" font-size="4.6" fill="#4a4a4a" text-anchor="start">10<tspan dy="-2.6" font-size="4.05">5</tspan></text>
<text x="134.2" y="74.5" font-size="11.5" text-anchor="middle" fill="#000" stroke="#000" stroke-width="0.25" transform="rotate(-90 134.2 74.5)">Count</text>
<text x="202.5" y="150.3" font-size="11.5" text-anchor="middle" fill="#000" stroke="#000" stroke-width="0.25">Ter119 PerCPCy5.5</text>
<path d="M188.5 125.5L188.5 125.49L188.73 125.48L188.97 125.48L189.2 125.47L189.43 125.46L189.67 125.45L189.9 125.44L190.13 125.42L190.37 125.4L190.6 125.38L190.83 125.35L191.07 125.31L191.3 125.26L191.53 125.2L191.77 125.12L192 125.04L192.23 124.93L192.47 124.79L192.7 124.64L192.93 124.45L193.17 124.22L193.4 123.95L193.63 123.63L193.87 123.26L194.1 122.82L194.33 122.3L194.57 121.71L194.8 121.02L195.03 120.22L195.27 119.31L195.5 118.27L195.73 117.09L195.97 115.76L196.2 114.26L196.43 112.59L196.67 110.73L196.9 108.67L197.13 106.42L197.37 103.95L197.6 101.26L197.83 98.36L198.07 95.25L198.3 91.93L198.53 88.42L198.77 84.73L199 80.87L199.23 76.88L199.47 72.79L199.7 68.63L199.93 64.43L200.17 60.26L200.4 56.15L200.63 52.17L200.87 48.37L201.1 44.81L201.33 41.57L201.57 38.7L201.8 36.28L202.03 34.39L202.27 33.12L202.5 32.6L202.73 33.04L202.97 34.11L203.2 35.71L203.43 37.77L203.67 40.21L203.9 43L204.13 46.07L204.37 49.38L204.6 52.88L204.83 56.52L205.07 60.26L205.3 64.05L205.53 67.86L205.77 71.66L206 75.41L206.23 79.08L206.47 82.64L206.7 86.09L206.93 89.4L207.17 92.55L207.4 95.54L207.63 98.36L207.87 101.01L208.1 103.47L208.33 105.76L208.57 107.88L208.8 109.82L209.03 111.6L209.27 113.22L209.5 114.69L209.73 116.01L209.97 117.2L210.2 118.27L210.43 119.22L210.67 120.06L210.9 120.81L211.13 121.47L211.37 122.04L211.6 122.55L211.83 122.99L212.07 123.37L212.3 123.7L212.53 123.98L212.77 124.22L213 124.43L213.23 124.6L213.47 124.75L213.7 124.88L213.93 124.99L214.17 125.08L214.4 125.15L214.63 125.22L214.87 125.27L215.1 125.31L215.33 125.35L215.57 125.38L215.8 125.4L216.03 125.42L216.27 125.44L216.5 125.45L216.5 125.5Z" fill="#f6bf8a" stroke="#f2b070" stroke-width="0.3"/>
<path d="M152.6 125.5L152.6 125.42L153.02 125.41L153.43 125.3L153.85 125.26L154.26 125.25L154.68 124.81L155.09 124.55L155.51 123.89L155.92 124.56L156.34 122.74L156.76 122.29L157.17 122.77L157.59 121.43L158 120.12L158.42 119.7L158.83 118.94L159.25 116.02L159.66 116.14L160.08 114.03L160.5 112.8L160.91 110.51L161.33 110.13L161.74 109.48L162.16 107.55L162.57 108.48L162.99 107.5L163.4 108.75L163.82 107.91L164.24 108.32L164.65 108.6L165.07 109.86L165.48 110.97L165.9 110.63L166.31 110.6L166.73 112.51L167.14 113.75L167.56 113.99L167.98 112.95L168.39 115.58L168.81 116.06L169.22 116.53L169.64 115.35L170.05 117.01L170.47 116.86L170.88 117.34L171.3 118.43L171.72 118.24L172.13 119.29L172.55 119.54L172.96 120.46L173.38 121.52L173.79 120.59L174.21 121.66L174.62 121.96L175.04 120.94L175.46 122.37L175.87 123.21L176.29 122.3L176.7 122.74L177.12 124.02L177.53 123.58L177.95 123.21L178.36 124.03L178.78 122.95L179.2 123.47L179.61 124.07L180.03 123.66L180.44 124.87L180.86 124.73L181.27 124.13L181.69 124.61L182.1 124.97L182.52 124.73L182.94 124.7L183.35 124.86L183.77 125.21L184.18 125.25L184.6 125.11L185.01 125.3L185.43 125.3L185.84 125.15L186.26 125.24L186.68 125.36L187.09 125.2L187.51 125.33L187.92 125.26L188.34 125.33L188.75 125.34L189.17 125.39L189.58 125.37L190 125.43L190 125.5Z" fill="#000" stroke="#000" stroke-width="0.5"/>
<text x="207.5" y="41.5" font-size="8.4" text-anchor="start" fill="#000" stroke="#000" stroke-width="0.18">RBCs</text>
<text x="162.5" y="103.5" font-size="8.5" text-anchor="start" fill="#000" stroke="#000" stroke-width="0.19">PLTs</text>
<rect x="290.4" y="29.8" width="96.1" height="96.5" fill="none" stroke="#555" stroke-width="1"/>
<path d="M289.1 124.64h1.3M289.1 122.76h1.3M289.1 121.21h1.3M289.1 119.91h1.3M289.1 118.78h1.3M289.1 117.79h1.3M288.2 116.9h2.2M289.1 111.04h1.3M289.1 107.62h1.3M289.1 105.19h1.3M289.1 103.31h1.3M289.1 101.76h1.3M289.1 100.46h1.3M289.1 99.33h1.3M289.1 98.34h1.3M288.2 97.45h2.2M289.1 91.59h1.3M289.1 88.17h1.3M289.1 85.74h1.3M289.1 83.86h1.3M289.1 82.31h1.3M289.1 81.01h1.3M289.1 79.88h1.3M289.1 78.89h1.3M288.2 78h2.2M289.1 72.14h1.3M289.1 68.72h1.3M289.1 66.29h1.3M289.1 64.41h1.3M289.1 62.86h1.3M289.1 61.56h1.3M289.1 60.43h1.3M289.1 59.44h1.3M288.2 58.55h2.2M289.1 52.69h1.3M289.1 49.27h1.3M289.1 46.84h1.3M289.1 44.96h1.3M289.1 43.41h1.3M289.1 42.11h1.3M289.1 40.98h1.3M289.1 39.99h1.3M288.2 39.1h2.2" stroke="#111" stroke-width="0.8"/>
<text x="287" y="40.8" font-size="4.6" fill="#4a4a4a" text-anchor="end">10<tspan dy="-2.6" font-size="4.05">5</tspan></text>
<text x="287" y="60.25" font-size="4.6" fill="#4a4a4a" text-anchor="end">10<tspan dy="-2.6" font-size="4.05">4</tspan></text>
<text x="287" y="79.7" font-size="4.6" fill="#4a4a4a" text-anchor="end">10<tspan dy="-2.6" font-size="4.05">3</tspan></text>
<text x="287" y="99.15" font-size="4.6" fill="#4a4a4a" text-anchor="end">10<tspan dy="-2.6" font-size="4.05">2</tspan></text>
<text x="287" y="118.6" font-size="4.6" fill="#4a4a4a" text-anchor="end">10<tspan dy="-2.6" font-size="4.05">1</tspan></text>
<path d="M290.91 126.3v1.3M293.3 126.3v1.3M295.15 126.3v1.3M296.66 126.3v1.3M297.94 126.3v1.3M299.05 126.3v1.3M300.03 126.3v1.3M300.9 126.3v2.2M306.65 126.3v1.3M310.01 126.3v1.3M312.4 126.3v1.3M314.25 126.3v1.3M315.76 126.3v1.3M317.04 126.3v1.3M318.15 126.3v1.3M319.13 126.3v1.3M320 126.3v2.2M325.75 126.3v1.3M329.11 126.3v1.3M331.5 126.3v1.3M333.35 126.3v1.3M334.86 126.3v1.3M336.14 126.3v1.3M337.25 126.3v1.3M338.23 126.3v1.3M339.1 126.3v2.2M344.85 126.3v1.3M348.21 126.3v1.3M350.6 126.3v1.3M352.45 126.3v1.3M353.96 126.3v1.3M355.24 126.3v1.3M356.35 126.3v1.3M357.33 126.3v1.3M358.2 126.3v2.2M363.95 126.3v1.3M367.31 126.3v1.3M369.7 126.3v1.3M371.55 126.3v1.3M373.06 126.3v1.3M374.34 126.3v1.3M375.45 126.3v1.3M376.43 126.3v1.3M377.3 126.3v2.2" stroke="#111" stroke-width="0.8"/>
<text x="303.2" y="135.9" font-size="4.6" fill="#4a4a4a" text-anchor="middle">10<tspan dy="-2.6" font-size="4.05">1</tspan></text>
<text x="322.3" y="135.9" font-size="4.6" fill="#4a4a4a" text-anchor="middle">10<tspan dy="-2.6" font-size="4.05">2</tspan></text>
<text x="341.4" y="135.9" font-size="4.6" fill="#4a4a4a" text-anchor="middle">10<tspan dy="-2.6" font-size="4.05">3</tspan></text>
<text x="360.5" y="135.9" font-size="4.6" fill="#4a4a4a" text-anchor="middle">10<tspan dy="-2.6" font-size="4.05">4</tspan></text>
<text x="379.6" y="135.9" font-size="4.6" fill="#4a4a4a" text-anchor="middle">10<tspan dy="-2.6" font-size="4.05">5</tspan></text>
<text x="276.2" y="75.5" font-size="11.3" text-anchor="middle" fill="#000" stroke="#000" stroke-width="0.25" transform="rotate(-90 276.2 75.5)">Side Scatter</text>
<text x="339.1" y="150.3" font-size="11.5" text-anchor="middle" fill="#000" stroke="#000" stroke-width="0.25">Forward Scatter</text>
<path d="M342.73 51.38h.01M345.77 46.06h.01M332.87 72.57h.01M376.71 37.97h.01M332.42 40.84h.01M350.66 37.26h.01M318.63 86.39h.01M345.28 46.52h.01M334.53 46.09h.01M354.16 42.88h.01M345.76 48.45h.01M329.28 61.42h.01M355.62 37.44h.01M352.97 41.02h.01M351.03 41.24h.01M359.95 41.28h.01M356.25 33.99h.01M343.46 48.63h.01M326.19 63.41h.01M332.07 71.7h.01M364.69 37.93h.01M354.04 41.96h.01M348.68 51.89h.01M340.93 56.79h.01M350.11 55.67h.01M347.52 52.53h.01M348.22 63.42h.01M341.43 64.73h.01M346.28 45.32h.01M340.69 61.21h.01M329.78 66.48h.01M334.87 57.07h.01M348.28 34.32h.01M347.26 31.96h.01M343.58 54.21h.01M349.01 53.71h.01M344.38 57.62h.01M324.61 54.49h.01M366.91 42.1h.01M347.69 43.15h.01M336.67 60.21h.01M339.7 47.01h.01M354.28 37.5h.01M332.78 41.13h.01M322.46 59.47h.01M324.52 49.99h.01M348.23 51.36h.01M349.86 46.75h.01M347.67 56.03h.01M359.98 41.46h.01M355.56 36.11h.01M350.82 48.53h.01M343.68 47.56h.01M344.24 56.01h.01M353.74 45.97h.01M353.06 34.92h.01M345.82 49.38h.01M351.27 45.6h.01M339.33 51.7h.01M329.95 69.71h.01M338.97 69.93h.01M353.67 39.96h.01M349.48 43.39h.01M345.2 48.7h.01M354.7 38.54h.01M359.57 41.18h.01M339.39 59.63h.01M339.36 47.88h.01M345.13 46.59h.01M327.63 54.99h.01M354.64 49.24h.01M352.18 30.91h.01M337.21 53.3h.01M379.83 40.12h.01M341.33 53.33h.01M344.3 54.71h.01M341.18 51.68h.01M330.45 50.93h.01M350.46 45.45h.01M347.02 52.03h.01M354.61 45.53h.01M357.57 51.24h.01M346.64 58.22h.01M319.23 56.07h.01M339.6 45.56h.01M326.65 50h.01M362.37 45.95h.01M347.22 53.69h.01M370.34 36.44h.01M351.06 37.46h.01M351.17 34.82h.01M348.42 48.01h.01M348.23 48.37h.01M350.07 38.45h.01M357.97 41.13h.01M338.26 60.99h.01M352.58 46.11h.01M334.69 39.29h.01M340.46 51.25h.01M336.43 58.15h.01M324.47 63.73h.01M359.08 35.19h.01M342.84 45.55h.01M352.1 50.81h.01M369.49 30.4h.01M328.91 53.94h.01M356.45 35.54h.01M354.06 44.37h.01M346.02 40.27h.01M346 38.03h.01M343.29 48.41h.01M371.49 39.97h.01M354.08 44.6h.01M355.94 54.42h.01M361.17 36.2h.01M355.71 38.88h.01M345.2 37.48h.01M346.93 43.37h.01M374.74 39.51h.01M353.27 46.44h.01M346.99 54.95h.01M336.59 62.83h.01M340.39 53.52h.01M330.09 59.83h.01M346.99 49.5h.01M351.37 50.98h.01M319.54 73.96h.01M347.4 52.49h.01M354.4 44.03h.01M343.95 43.98h.01M331.12 58.52h.01M357.97 31.5h.01M340.04 62.8h.01M319.52 51.23h.01M329.62 60.08h.01M355.13 63.29h.01M356.73 37.8h.01M355.76 31.52h.01M347.76 47.68h.01M334.6 69.58h.01M335.54 55.97h.01M335.64 62.76h.01M343.07 52.4h.01M319.65 66.49h.01M360.09 66.2h.01M353.97 43.63h.01M340.71 48.58h.01M349.07 42.47h.01M334.08 61.91h.01M327.29 67.47h.01M339.81 60.92h.01M361.12 38.66h.01M352.64 31.31h.01M341.18 57.71h.01M359.81 35.69h.01M339.43 51.81h.01M349 41.78h.01M335.82 50.71h.01M355.51 41.47h.01M328.37 50.08h.01M332.69 60.07h.01M326.1 65.87h.01M343.64 41.12h.01M341.6 47.11h.01M340.27 46.08h.01M343.42 59.3h.01M337.85 52.54h.01M328.15 48.41h.01M359.83 34.58h.01M367.69 39.8h.01M346.82 42.97h.01M322.29 68.97h.01M333.33 51.62h.01M361.57 54.28h.01M349.17 54.85h.01M370.68 39.95h.01M320.96 56.98h.01M349.34 36.83h.01M341.25 62.52h.01M361.89 35.08h.01M342.88 49.36h.01M360.25 41.05h.01M330.92 49.85h.01M329.45 69.02h.01M330.2 61.72h.01M338.94 58.99h.01M328.38 57.03h.01M363.29 40.27h.01M359.9 32.1h.01M352.77 52.41h.01M336.01 67.06h.01M347.34 56.27h.01M338.04 60.03h.01M367.21 38.28h.01M337.57 31.77h.01M355.15 49.48h.01M338.46 52.67h.01M318.47 71.57h.01M333.45 56.51h.01M324.05 54.01h.01M347.64 43.15h.01M349.13 52.62h.01M340.37 66.21h.01M337.11 50.63h.01M338.41 68.05h.01M328.9 54.74h.01M350.88 63.83h.01M335.85 57.6h.01M335.45 49.61h.01M356.36 49.87h.01M375.5 41.21h.01M314.98 60.71h.01M351.47 58.79h.01M344.34 48.01h.01M350.28 59.08h.01M340.85 49.86h.01M333.64 44.86h.01M360.62 42.26h.01M342.76 59.98h.01M352.33 62.89h.01M352.43 59.51h.01M349.44 52.71h.01M341.69 50.48h.01M356.14 36.67h.01M343.61 48.46h.01M343.75 43.59h.01M343.13 49.02h.01M320.6 46.46h.01M334.65 59.67h.01M330.81 60.83h.01M358.64 62.14h.01M338.71 61.65h.01M328.71 58.46h.01M350.62 50.62h.01M346.75 37.74h.01M318.81 65.1h.01M351.62 57.58h.01M346.15 54.37h.01M354.22 32.35h.01M345.67 48.94h.01M341 61.56h.01M332.25 63.35h.01M340 46.29h.01M353.6 37.62h.01M331.08 61.72h.01M347.6 56.14h.01M346.61 41.38h.01M337.97 65.65h.01M340.35 45.37h.01M358.47 49.05h.01M347.13 50.49h.01M332.68 67.45h.01M357.99 55.35h.01M349.41 52.67h.01M354.31 49.62h.01M356.2 33.09h.01M355.58 35.56h.01M353.24 49.28h.01M355.77 55.21h.01M336.28 69.18h.01M353.18 64.18h.01M349.29 49.41h.01M340.5 55.32h.01M350.64 54.53h.01M334.03 58.74h.01M365.28 33.6h.01M344.05 59.54h.01M345.74 39.9h.01M344.07 55.28h.01M355.55 51.49h.01M341.6 43.52h.01M345.64 56.99h.01M339.84 39.91h.01M329.7 58.04h.01M359.13 49.43h.01M331.96 53.03h.01M352.45 44.77h.01M344.67 46h.01M346.1 51.88h.01M360.57 41.68h.01M327.87 53.54h.01M355.64 46.79h.01M338.57 47.96h.01M343.28 42.43h.01M345.99 49.29h.01M354.61 36.44h.01M327.82 83.78h.01M342.63 38.04h.01M328.16 69.72h.01M365.43 42.82h.01M310.04 59.73h.01M324.09 50.95h.01M325 70.62h.01M364.88 30.19h.01M329.39 65.61h.01M351.44 55.09h.01M336.22 53.55h.01M316.3 62.97h.01M328.72 38.47h.01M354.76 44.19h.01M338.53 46.81h.01M358.96 41.88h.01M341.15 55.07h.01M339.13 42.29h.01M347.27 63.54h.01M354.27 52.38h.01M374.09 34.8h.01M344.75 39.68h.01M345.85 45.72h.01M334.36 53.46h.01M333.09 55.62h.01M331.97 64.04h.01M333.76 60.82h.01M345.27 53.04h.01M337.11 51.67h.01M376.77 36.65h.01M314.11 75.8h.01M338.04 31.12h.01M351.79 39.01h.01M329.74 61.41h.01M340.53 62.07h.01M349.5 43.81h.01M365.75 31.57h.01M329.81 55.98h.01M326.71 70.2h.01M356.1 37.35h.01M362.81 30.72h.01M337.31 49.41h.01M317.74 76.24h.01M362.15 31.86h.01M335.12 42.83h.01M362.74 41.67h.01" stroke="#b8b8b8" stroke-width="1" stroke-linecap="round" opacity="0.45"/>
<ellipse cx="335" cy="58" rx="12" ry="6" fill="#a4a4a4" opacity="0.7" transform="rotate(-40 335 58)" filter="url(#b1_8)"/>
<path d="M331.22 63.31h.01M334.49 52.4h.01M337.74 56.03h.01M338.86 45.75h.01M340.88 50.38h.01M329.65 59.67h.01M335.25 60.63h.01M326.46 65.9h.01M346.01 47.64h.01M340.09 57.89h.01M345 50.39h.01M334.08 61.36h.01M322.73 72.07h.01M345.28 48.81h.01M334.78 56.43h.01M336.65 58.1h.01M334.2 56.27h.01M340.33 55.32h.01M341.41 58.17h.01M326.11 69.68h.01M341.4 50.41h.01M327.94 56.99h.01M331.52 60.39h.01M346.47 47.48h.01M344.07 55.92h.01M331.57 58.64h.01M321.55 67.96h.01M337.88 59.17h.01M337.37 53.28h.01M333.92 57.84h.01M330.69 70.31h.01M333.25 66.99h.01M327.84 67.04h.01M337.05 57.43h.01M338.04 50.15h.01M343.38 53.63h.01M329.98 62.27h.01M337.07 57.17h.01M337.37 53.06h.01M331.32 60.78h.01M333.38 58.15h.01M350.33 46.53h.01M339.96 61.04h.01M341.89 53.85h.01M327.63 55.3h.01M332.68 54.65h.01M318.99 62.93h.01M332.67 55.57h.01M344.53 52.67h.01M350.38 46.94h.01M341.59 49.1h.01M340.3 54.7h.01M333.3 55.23h.01M327.1 56.98h.01M330.16 54.48h.01M336.9 51.68h.01M333.11 66.74h.01M337.87 48.35h.01M331.28 67.35h.01M326.02 72.2h.01M327.43 63.15h.01M323.27 67.33h.01M323.84 63.91h.01M342.61 51.22h.01M335.18 61.02h.01M336.4 56.61h.01M345.41 54.2h.01M346.6 54.19h.01M332.27 61.81h.01M344.87 51.16h.01M337.36 55.43h.01M335.78 58.88h.01M335.06 51.88h.01M326.08 67.33h.01M329.97 63.02h.01M331.91 55.83h.01M344.59 60.9h.01M329.81 57.02h.01M331.76 55.92h.01M342.26 53.08h.01M339.63 43.75h.01M338.12 50.98h.01M339.7 45.84h.01M329.6 57.22h.01M332.41 59.21h.01M337.88 56.97h.01M335.62 62.96h.01M333.44 63.24h.01M349.29 51.9h.01M334.99 60.8h.01M327 61.99h.01M341.08 58.43h.01M346.27 45.72h.01M333.84 55.49h.01M347.28 55.39h.01M333.86 62.78h.01M332.04 61.35h.01M332.04 64.13h.01M336.13 61.35h.01M344.02 43.04h.01M326.65 64.23h.01M343.12 44.75h.01M328.22 64.04h.01M331.52 57.13h.01M344.11 57.15h.01M340.54 55.77h.01M334.72 53.71h.01M323.44 67.32h.01M334.24 52.03h.01M327.91 63.87h.01M353.97 44.64h.01M334.06 59.87h.01M331.2 50.83h.01M326.09 63.44h.01M332.86 62.16h.01M326.74 66.23h.01M344.6 55.7h.01M329.75 55.41h.01M340.08 56.18h.01M328.46 59.79h.01M331.9 61.32h.01M344.78 51.62h.01M329.92 65.55h.01M320.95 66.48h.01M338.13 56.04h.01M323.98 60.85h.01M328.2 56.05h.01M342.56 54.25h.01M329.07 62.39h.01M336.75 47.78h.01M327.97 59.16h.01M345.18 49.26h.01M347.98 54.92h.01M334.29 63.75h.01M335.43 61.5h.01M324.53 57.17h.01M335.98 56.37h.01M344 52.64h.01M325.89 67.4h.01M342.24 53.79h.01M325.12 64.77h.01M333.44 68.18h.01M326.32 72.69h.01M349.12 45.36h.01M332.74 54.48h.01M341.82 62.7h.01M328.77 60.04h.01M345.28 55.31h.01M325.26 75.84h.01M332.61 54.78h.01M350.81 45.94h.01M331.32 58.97h.01M336.29 59.3h.01M340.31 54.91h.01M334.26 68.48h.01M336.52 59.5h.01M341.45 52.23h.01M339.08 60.15h.01M336.71 54.84h.01M331.5 58.72h.01M342.78 62.85h.01M333.12 54.98h.01M343.62 47.91h.01M339.96 53.76h.01M330.45 55.99h.01M312.56 65.51h.01M342.5 56.91h.01M338.04 51.05h.01M327.14 61.47h.01M320.11 68.24h.01M324.45 61.42h.01M338.47 49.17h.01M327.92 64.47h.01M337.85 67.82h.01M338.26 58.8h.01M345.21 53.03h.01M330.85 53.31h.01M334.09 58.33h.01M328.02 57.37h.01M348.08 50.75h.01M341.61 50.95h.01M334.29 58.49h.01M324.99 65.63h.01M327.9 60.6h.01M334.93 49.81h.01M331.36 63.77h.01M337.44 48.42h.01M334.3 52.11h.01M336.1 55.21h.01M337.54 51.88h.01M338.96 55.74h.01M331.55 65.86h.01M333.24 60.47h.01M351.49 44.89h.01M326.58 64.88h.01M333.78 63.19h.01M337.45 46h.01M334.69 59.87h.01M326.85 59.66h.01M322.56 61.7h.01M338.56 54.73h.01M340.88 50.73h.01M346 51.51h.01M338.05 60.88h.01M336.07 44.65h.01M327.54 63.57h.01M341.04 62.85h.01M332.41 64.4h.01M339.77 61.25h.01M340.29 53.79h.01M338.53 47.23h.01M325.13 60.1h.01M345.42 52.67h.01M334.04 63.5h.01M325.9 61.51h.01M332.98 57.98h.01M325.44 67.08h.01M330.38 52.43h.01M335.95 55.07h.01M337.63 63.94h.01M344.16 61.41h.01M332.4 59.31h.01M339.59 63.41h.01M323.57 64.55h.01M333.06 55.09h.01M323.23 55.88h.01M334.21 63.35h.01M333.24 57.22h.01M342.18 63.88h.01M324.35 68.36h.01M324.56 67.44h.01M328.12 54.03h.01M341.98 59.67h.01M336.4 54.63h.01M340.59 52.16h.01M338.15 43.53h.01M340.66 57.79h.01M337.26 60.97h.01M326.18 61.93h.01M328.57 63.58h.01M332.64 61.73h.01M339.17 59.23h.01M336.64 56.87h.01M339.31 63.08h.01M333.18 57.97h.01M337.64 52.32h.01M335.09 55.19h.01M330.38 48.33h.01M334.91 53.57h.01M333.68 64.07h.01M328.43 64.6h.01M336.14 52.48h.01M338.63 56.49h.01M328.15 52.92h.01M331.26 59.36h.01M351.92 46.26h.01M331.42 64.36h.01M331.37 56.72h.01M339.04 59.09h.01M331.71 70.24h.01M334.57 55.85h.01M349.16 49.7h.01M337.29 47.66h.01M334.17 48.16h.01M340.52 56.29h.01M335.74 57.32h.01M341.98 52.9h.01M332.29 56.95h.01M331.19 59.38h.01M337.65 59.73h.01M345.53 57.86h.01M336.59 55.26h.01M335.27 48.88h.01M324.19 73.46h.01M344.64 52.79h.01M352.76 46.39h.01M344.54 50.68h.01M338.65 66.8h.01M329.21 62.98h.01M338.1 57.81h.01M323.3 57.87h.01M338.38 51.87h.01M329.48 58.78h.01M341.41 52.19h.01M345.15 51.03h.01M318.93 67.3h.01M341.34 61.46h.01M327.31 58.62h.01M323.99 64.62h.01M331.23 62.14h.01M330.14 55.27h.01M343.46 53.61h.01M326.01 68.58h.01M341.36 50.87h.01M353.69 52.02h.01M339.2 54.64h.01M339.36 55.55h.01M332.31 54.98h.01M322.46 59.51h.01M336.93 52.81h.01M336.69 54.64h.01M338.74 52.21h.01M354.56 45.34h.01M333.75 46.32h.01M334.89 51.9h.01M340.94 43.21h.01M329.05 69.74h.01M325.54 62.72h.01M330.96 58.44h.01M327.52 58.25h.01M341.97 56.59h.01M331.62 58.42h.01M347.44 48.46h.01M340.12 42.81h.01M343.19 56.98h.01M333.22 61.29h.01M340.54 55.97h.01M343.64 56.95h.01M327.02 63.42h.01M336.85 55.32h.01M341.59 55.96h.01M337.46 57.9h.01M345.07 48.01h.01M343.36 50.96h.01M327.88 61.08h.01M337.57 59.32h.01M331.52 65.55h.01M338.88 54.51h.01M333.73 68.63h.01M337.28 47.79h.01M336.95 54.89h.01M345.97 57.49h.01M332.79 57.4h.01M320.71 61.36h.01M350.64 51.92h.01M335.09 60.52h.01M341.29 46.22h.01M339.84 57.74h.01M336.89 50.81h.01M344.04 43.15h.01M336.83 55.42h.01M343.29 48.28h.01M321.81 63.07h.01M339.94 51.69h.01M330.62 56.17h.01M334.11 58.81h.01M334.88 57.73h.01M339.19 58.14h.01M345.13 46.87h.01M318.67 64.49h.01M331.78 53.55h.01M329.3 61.24h.01M346.87 55.83h.01M334.15 62.91h.01M336.37 53.24h.01M334.57 63.05h.01M336.49 50.43h.01M344.49 55.1h.01M331.15 58.98h.01M337.2 59.93h.01M326.69 67.99h.01M336.27 55.24h.01M341.63 53.91h.01M328.3 57.79h.01M342.41 51.15h.01M323.38 73.18h.01M332.68 81.16h.01M327.12 68.05h.01M331.76 60.93h.01M332.4 54.64h.01M337.07 61.57h.01M330.15 53.16h.01M337.8 51.21h.01M332.55 61.69h.01M323.06 61.46h.01M330.28 69.79h.01M352.26 48.99h.01M317.2 69.72h.01M332.23 57.17h.01M341.53 45.37h.01M334.6 50.76h.01M330.3 64.02h.01M336.5 59.76h.01M341.74 53.94h.01M343.9 51.69h.01M327.24 61.34h.01M341.05 54.57h.01M332.83 51.87h.01M342.52 51.49h.01M348.27 54.35h.01M335.93 63.91h.01M323.69 64.82h.01M336.75 54.54h.01M350.69 51.82h.01M344.22 59.39h.01M332.61 51.93h.01M350.34 42.66h.01M328.32 64.6h.01M344.25 56.38h.01M328.79 58.58h.01M336.88 59.55h.01M334.73 56.42h.01M351.46 56.4h.01M329.54 64.6h.01M330.85 60.54h.01M323.04 66.05h.01M340.97 58.29h.01M333.48 62.6h.01M335 52.09h.01M328.04 64.74h.01M328.95 55.82h.01M340.1 49.53h.01M330.34 54.89h.01M335.77 50.16h.01M336.75 52.69h.01M329.92 56.89h.01M325.49 68.51h.01M343.73 54.61h.01M335.44 56.14h.01M338.77 48.73h.01M323.08 71.98h.01M318.25 61.21h.01M315.13 64.32h.01M330.72 65.17h.01M343.76 53.85h.01M341.3 57.59h.01M334.09 57.4h.01M332.53 53.22h.01M338.81 51.89h.01M334.27 61.36h.01M335.64 53.21h.01M334.04 54.89h.01M316.21 66.22h.01M329.23 56.51h.01M346.43 52.6h.01M333.33 61.55h.01M330.9 55.12h.01M327.91 58.05h.01M330.09 58.94h.01M344.05 53.05h.01M330.02 55.82h.01M327.4 63.26h.01M307.9 69.26h.01M327.69 57.31h.01M322.41 70.54h.01M324.63 71.18h.01M337.38 49.7h.01M337.77 51.38h.01M323.73 71.41h.01M339.75 51.74h.01M336.65 53.54h.01M330.82 63.99h.01M340.45 54.22h.01M326.54 70.7h.01M328.63 67.28h.01M323.47 64.42h.01M326.92 63.93h.01M340.79 52.6h.01M322.19 61.41h.01M324.44 61.53h.01M330.84 66.36h.01M332.14 51.85h.01M335.11 62.89h.01M341.57 53.76h.01M329.63 61.56h.01M327.39 66.98h.01M332.64 62.25h.01M338.25 61.39h.01M327.42 62.04h.01M336.19 55.58h.01M346.74 46.63h.01M335.69 67.06h.01M337.58 60.57h.01M341.77 47.26h.01M329.5 60.65h.01M327.16 60.67h.01M327.31 64.31h.01M338.1 56.3h.01M344.26 62.03h.01M329.06 53.21h.01M337.73 60.88h.01M344.69 51.95h.01M338.94 50.8h.01M324.72 65.63h.01M333.41 56.52h.01M335.61 57.55h.01M342.31 56.94h.01M329.28 54.64h.01M333.67 65.79h.01M330.61 59.53h.01M326.34 72.94h.01M335.6 59.45h.01M333.78 65.28h.01M339.38 57.09h.01M330.43 67.33h.01M331.84 60.75h.01M325.8 61.17h.01M329.07 66.3h.01M341.34 56.21h.01M336.88 67.22h.01" stroke="#8a8a8a" stroke-width="1" stroke-linecap="round" opacity="0.4"/>
<ellipse cx="342" cy="63" rx="12" ry="3.8" fill="#6b94d0" opacity="0.9" transform="rotate(-42 342 63)" filter="url(#b1_3)"/>
<path d="M328.22 75.2h.01M339.68 63.57h.01M348.85 56.76h.01M331.24 68.42h.01M341.64 66.13h.01M359.16 53.97h.01M354.46 58.2h.01M338.27 71.17h.01M349.53 52.59h.01M352.56 59.21h.01M345.65 57.02h.01M344.24 60.79h.01M346.84 65.6h.01M333.95 66.21h.01M339.9 68.06h.01M347.23 59.35h.01M342.45 62.02h.01M352.55 50.2h.01M340.35 66.08h.01M324.84 76.7h.01M341.52 67.37h.01M345.95 64.05h.01M341.78 58h.01M341.31 61.72h.01M335.7 67.47h.01M349.61 51.7h.01M335.27 64.85h.01M346.74 59.07h.01M339.5 64.47h.01M330.7 66.95h.01M350.27 53.52h.01M325.98 79.38h.01M333.86 65.79h.01M342.99 58.63h.01M342.41 68.61h.01M349.32 61.37h.01M338.12 60.38h.01M336.27 63.07h.01M357.01 50.91h.01M338.13 61.99h.01M340.31 63.57h.01M333.75 68.73h.01M337.89 68.81h.01M341.46 53.96h.01M341.5 55.16h.01M339.57 60.57h.01M339.07 69.46h.01M346.16 58.67h.01M327.26 69.84h.01M340.5 66.21h.01M341.5 66.11h.01M335.75 67.7h.01M342.27 61.51h.01M338.23 68.05h.01M338.77 70.47h.01M354.23 52.56h.01M347.85 59.75h.01M349.83 55.77h.01M341.53 61.99h.01M346.64 55.37h.01M347.61 58.91h.01M349.46 55.15h.01M357.3 48.31h.01M342.14 66.37h.01M344.57 62.53h.01M343.21 65.19h.01M315.46 80.96h.01M333.64 72.64h.01M340.96 61.72h.01M344.66 57.56h.01M336.49 64.75h.01M351.81 58.73h.01M352.09 57.03h.01M337.85 64.04h.01M349.35 52.09h.01M353.7 52.51h.01M344.21 59.28h.01M338.51 72.39h.01M349.05 51.14h.01M337.45 60.2h.01M338.97 64.76h.01M342.78 62.34h.01M338.64 66.53h.01M350.57 58.12h.01M351.07 62.64h.01M349.5 54.95h.01M344.86 58.37h.01M333.39 64.12h.01M341.39 64.47h.01M349.45 59.5h.01M338.79 64.91h.01M363.74 47.87h.01M340.44 64.52h.01M340.92 69.68h.01M350.31 56.77h.01M345.02 56.3h.01M340.62 61.84h.01M337.59 61.2h.01M341.6 56.82h.01M348.09 58.52h.01M348.73 60.22h.01M343.64 68.88h.01M344.79 60.28h.01M347.2 57.42h.01M345.04 56.09h.01M323.21 83.64h.01M336.77 69.17h.01M335.7 66.43h.01M341.75 65.82h.01M344.25 63.09h.01M344.66 53.56h.01M347.52 60.83h.01M341.41 64.05h.01M341.42 62.05h.01M352.98 51.54h.01M341.18 70.33h.01M346.91 64.36h.01M355.89 57.37h.01M342.16 58.53h.01M327.11 73.94h.01M346.2 62.63h.01M337.15 62.82h.01M339.89 62.18h.01M345.65 52.92h.01M348.61 64.03h.01M342.23 66.8h.01M348.83 58.58h.01M345.32 60.83h.01M341.92 61.5h.01M343.27 60.36h.01M344.85 62.76h.01M338.4 63.56h.01M341.23 68.32h.01M341.25 61.82h.01M333.98 66.93h.01M336.01 73.28h.01M350.43 54.87h.01M341.44 65.6h.01M341.06 62.28h.01M336.88 59.13h.01M343.18 64h.01M339.63 60.06h.01M344.46 64.86h.01M333.71 64.62h.01M344.74 53.51h.01M337.95 67.81h.01M349.72 57.65h.01M329.37 74.78h.01M332.63 66.87h.01M350.3 58.87h.01M338.26 60.84h.01M336.64 66.07h.01M343.03 59.1h.01M334.3 68.51h.01M344.11 64.31h.01M326 75.02h.01M340.03 66.9h.01M338.95 68.36h.01M342.4 56.19h.01M345.67 55.3h.01M335.57 67.35h.01M351.65 52.08h.01M338.62 67.21h.01M324.63 71.36h.01M327.43 78.83h.01M353.69 55.28h.01M341.1 63.18h.01M335.08 64.02h.01M337.01 67.52h.01M333.69 68.46h.01M352.11 56.04h.01M341.28 63.33h.01M355.34 53.73h.01M339.86 63.3h.01M328.98 80.16h.01M343.33 53.12h.01M337.63 63.1h.01M341.33 65.45h.01M349.65 50.42h.01M341.62 66.12h.01M347.49 53.47h.01M342.14 63.22h.01M335.26 65.63h.01M344.57 59.03h.01M338.31 66.98h.01M350.02 55.39h.01M347.71 56.43h.01M346.45 67.1h.01M346.1 59.34h.01M343.96 57.58h.01M341.89 66.59h.01M349.52 59.32h.01M342.77 66.91h.01M349.47 63.01h.01M333.88 66.77h.01M344.67 64.59h.01M346.92 62.87h.01M336.73 67.75h.01M339.69 66.01h.01M332.82 59.95h.01M345.81 57.41h.01M340.56 71.04h.01M341.61 56.62h.01M351.22 52.68h.01M344.95 61.42h.01M332.33 73.87h.01M345.93 65.61h.01M345.7 53.03h.01M340.21 64.78h.01M351.07 58.07h.01M343.72 56.5h.01M344.79 60.34h.01M343.83 68.45h.01M341.09 68.78h.01M341.35 65.62h.01M337.58 57.13h.01M345.31 59.53h.01M345.6 61.22h.01M339.47 64.11h.01M342.38 62.41h.01M350.44 67.02h.01M330.8 72.27h.01M335.12 65.54h.01M337.19 68.25h.01M340.12 63.5h.01M339.66 63.94h.01M340.2 64.3h.01M337.7 69.79h.01M347.03 59.36h.01M341.7 58.75h.01M330.86 72.53h.01M343.07 63.82h.01M333.69 68.72h.01M355.64 55.05h.01M340.51 67.27h.01M337.61 63.22h.01M343.26 63.07h.01M344.48 68.24h.01M344.64 66.5h.01M352.35 53.47h.01M345.3 63.41h.01M346.43 56.47h.01M346.94 53.1h.01M336.63 69.92h.01M353.87 53.24h.01M347.68 59.82h.01M348.47 57.08h.01M336.95 68.77h.01M346.62 56.9h.01M345.77 61.39h.01M340.09 67.86h.01M357.28 49.02h.01M347.44 61.17h.01M337.2 60.65h.01M341.95 60.09h.01M350.92 60.41h.01M352.98 59.75h.01M346.49 59.91h.01M350.07 55.34h.01M349.58 51.39h.01M334.55 71.08h.01M340.34 67.43h.01M333.07 65.46h.01M343.83 63.46h.01M352.7 55.21h.01M347.33 59.87h.01M333.03 66.83h.01M341.18 65.78h.01M346.21 53.57h.01M341.37 69.18h.01M341.74 63.74h.01M341.99 58.62h.01M332.47 76.65h.01M349.51 60.59h.01M343.2 59.46h.01M350.07 64.04h.01M333.71 66.68h.01M337.58 68.16h.01M340.36 68.93h.01M339.56 56.65h.01M344.48 64.54h.01M342.87 61.98h.01M354.09 52.06h.01M348.85 52.78h.01M337.95 67.9h.01M335.68 64.51h.01M351.79 50.53h.01M339.17 63.86h.01M349.06 52.02h.01M355.77 56.52h.01M336.02 63.38h.01M338.92 62.93h.01M342.1 61.72h.01M336.36 68.09h.01M337.08 70.42h.01M340.98 67h.01M347.27 57.11h.01M338.42 64.78h.01M340.82 64.19h.01M340.56 67.39h.01M334.31 72.55h.01M351.09 52.87h.01M322.61 72.7h.01M341.77 71.28h.01M347.65 61.49h.01M333.29 71.83h.01M346.82 59.95h.01M349.53 54.25h.01M334.51 65.97h.01M342.91 60.93h.01M334.29 69.11h.01M344.35 58.53h.01M339.99 59.32h.01M342.99 60.93h.01M352.35 55.85h.01M344.35 59.02h.01M351.17 54.82h.01M342.49 54.76h.01M333.72 69.68h.01M343.65 61.06h.01M343.11 57.38h.01M329.22 67.99h.01M351.82 55.71h.01M341.07 60.79h.01M345.51 61.68h.01M335.35 67.41h.01M343.78 63.74h.01M343.5 60.37h.01M337.12 61.71h.01M342.51 62.22h.01M327.34 74.97h.01M352.47 56.05h.01M333.83 68.66h.01M326.8 75.21h.01M337.31 70.46h.01M338.73 70.34h.01M347.19 61.19h.01M337.96 70.55h.01M344.88 62.12h.01M337.15 70.27h.01M358.53 51.42h.01M346.53 60.44h.01M355.32 51.24h.01M335.6 69.3h.01M351.07 63.9h.01M335.75 68.68h.01M345.54 58.92h.01M345.97 58.05h.01M331.39 72.43h.01M334.97 70.25h.01M332.19 67.57h.01M328.34 67.83h.01M337.77 67.92h.01M332.68 65.34h.01M332.92 72.15h.01M343.02 62.61h.01M347.91 62.02h.01M336.44 74.3h.01M339.06 67.03h.01M341.11 61.71h.01M338.34 61.87h.01M335.92 65.49h.01M347.58 58.12h.01M343.88 53.51h.01M346.77 58.99h.01M340.67 64.15h.01M356.58 52.3h.01M353.1 51.75h.01M339.58 65.56h.01M339.9 62.12h.01M349.16 54.81h.01M333.41 64.06h.01M344.97 60.79h.01M345.28 65.88h.01M337.67 67.51h.01M341.21 65.09h.01M329.72 70.36h.01M341.12 69.19h.01M327.28 73.36h.01M358.82 50.88h.01M352.34 54.1h.01M348.48 53.55h.01M346.01 63.26h.01M348.77 56.97h.01M350.9 55.66h.01M349.7 57.77h.01M348.16 57.38h.01M335.24 67.66h.01M345.79 61.34h.01M337.71 65.33h.01M334.27 70.21h.01M333.16 68.45h.01M342.11 57.29h.01M347.82 55.22h.01M331.96 70.17h.01M353.74 52.49h.01M354.08 56.59h.01M336.32 61.75h.01M339.17 66.03h.01M337.39 58.81h.01M346.63 54.89h.01M338.51 64.23h.01M330.4 64.96h.01M340.84 57.05h.01M328.49 75.74h.01M343.1 62.3h.01M349.55 55.77h.01M342.55 59.48h.01M351.26 62.78h.01M345.01 59.69h.01M345.26 56.82h.01M346.12 65.61h.01M337.61 69.27h.01M339.8 63.58h.01M343.74 65.92h.01M350.71 55.74h.01M354.08 54.55h.01M345.25 60.96h.01M335.04 65.39h.01M338.94 69.42h.01M341.05 64.46h.01M349.4 52.54h.01M342.81 59.4h.01M343.42 65.32h.01M336.19 66.84h.01M347.99 57.78h.01M345.16 62.62h.01M341.9 63.57h.01M339.83 59.2h.01M354.47 54.17h.01M342.69 65.92h.01M354.92 54.64h.01M353.34 58.88h.01M343.03 63.44h.01M349.37 59.29h.01M344.15 67.05h.01M335.91 67.38h.01M343.46 68.23h.01M339.18 72.07h.01M346.89 61.55h.01M345.55 66.74h.01M347.39 61.35h.01M345.88 56.19h.01M323.26 84.16h.01M344.69 61.8h.01M330.72 74.71h.01M343.4 62.32h.01M338.68 71.11h.01M343.73 63.52h.01M349.83 53.33h.01M331.49 74.3h.01M344.64 63.37h.01M340.12 61.96h.01M328.53 73.49h.01M345.62 58.3h.01M341.09 61.53h.01M339.25 66.79h.01M339.08 69.46h.01M367.03 47.59h.01M341.6 67.86h.01M331.87 75.97h.01M337.92 70.98h.01M342.05 67.99h.01M338.72 64.53h.01M342.77 64.92h.01M335.6 69.98h.01M345.38 59.47h.01M337.91 64.97h.01M331.95 70.14h.01M336.04 67.35h.01M337.11 62.75h.01M348.65 58.98h.01M345.2 60.04h.01M339.94 65.26h.01M342.77 63.59h.01M344.8 63.21h.01M354.53 49.49h.01M337.67 66.5h.01M342.11 56.84h.01M342.7 54.01h.01M331.99 64.7h.01M346.14 65.06h.01M339.67 58.22h.01M339.74 66.81h.01M348.56 62.66h.01M348.02 55.85h.01M352.61 59.58h.01M344.18 68h.01M345.04 63.82h.01M362.17 53.78h.01M335.79 70.94h.01M342.12 60.15h.01M348.93 58.73h.01M342.18 61.18h.01M343.95 56.34h.01M340.77 59.31h.01M351.38 63.28h.01M349.57 54.16h.01M340.48 64.3h.01M342.09 60.44h.01" stroke="#4a7ec4" stroke-width="1" stroke-linecap="round" opacity="0.45"/>
<ellipse cx="333.5" cy="73" rx="8" ry="4.6" fill="#a488d0" opacity="0.95" transform="rotate(-48 333.5 73)" filter="url(#b1_5)"/>
<path d="M330.07 68.74h.01M338.06 78.96h.01M332.27 75.13h.01M327.89 77.65h.01M329.44 80.67h.01M328.72 74.61h.01M338.45 75h.01M338.19 60.36h.01M334.64 65.42h.01M340.5 64.48h.01M333.64 69.1h.01M336.5 76.29h.01M324.39 75.37h.01M331.78 71.31h.01M325.46 82.95h.01M333.64 75.41h.01M342.42 67.75h.01M335.64 72.13h.01M343.26 72.53h.01M330.85 73.55h.01M328.4 79.36h.01M333.62 76.81h.01M331.17 73.94h.01M337.65 66.84h.01M340.34 63.04h.01M329.01 74.76h.01M329.39 72.02h.01M331.61 72.29h.01M328.43 71.07h.01M329.41 79.17h.01M330.11 69h.01M339.85 75.6h.01M339.08 74.71h.01M331.28 80.54h.01M332.55 72.86h.01M325.13 79.3h.01M340.07 71.33h.01M329.84 77.73h.01M333.73 75.21h.01M330 73.25h.01M333.69 77.66h.01M327.36 75.8h.01M326.66 80.89h.01M336.36 61.36h.01M332.98 70.24h.01M335.76 72.66h.01M340.86 62.45h.01M332.04 72.26h.01M337.59 71.98h.01M333.42 72.51h.01M341.21 70.12h.01M329.79 65.37h.01M336.11 72.57h.01M333.68 74.97h.01M330.97 68.21h.01M335.1 64.79h.01M327.25 83.88h.01M330.46 71.05h.01M330.32 73.25h.01M333.72 75.36h.01M324.79 80.85h.01M337.57 70.5h.01M328.06 74.66h.01M333.3 74.39h.01M334.05 77.3h.01M327.57 80.88h.01M326.52 70.05h.01M327.65 82.34h.01M329.86 77.07h.01M330.09 72.21h.01M336.79 75.73h.01M329.6 68.78h.01M337.39 77.35h.01M340.59 61.86h.01M338.98 74.15h.01M328.5 78.09h.01M327.9 72.63h.01M331.09 75.87h.01M333.58 74.24h.01M332.37 76.58h.01M332.58 78.81h.01M338 63.47h.01M334.85 73.59h.01M333.9 75.81h.01M331.85 73.28h.01M330.42 71.71h.01M336.83 64.49h.01M337.2 72.2h.01M339.91 69.43h.01M319.02 84.87h.01M331.65 68.42h.01M340.69 70.65h.01M337.75 60.62h.01M334 72.94h.01M324.71 78.67h.01M331.72 66.36h.01M331.4 75.66h.01M325.86 80.31h.01M334.43 78.55h.01M343.13 72.86h.01M337.89 66.96h.01M338.83 71.69h.01M331.78 79.62h.01M342.38 60.38h.01M326.77 76.09h.01M337.01 76.5h.01M326.85 78.38h.01M338.74 66.79h.01M334.62 70.11h.01M336.77 68.47h.01M332.45 71.02h.01M335.02 74.61h.01M337.19 74.61h.01M325.06 80.33h.01M334.25 65.33h.01M337.31 68.74h.01M328.43 71.28h.01M331.96 71.4h.01M337.64 73.99h.01M345.33 70.65h.01M336.15 71.57h.01M331.18 70.24h.01M333.33 76.63h.01M322.18 74.61h.01M329.5 73.87h.01M337.43 75.62h.01M334.29 75.4h.01M330.58 69.41h.01M332.6 65.82h.01M337.31 72.57h.01M334.54 71.35h.01M334.78 68.49h.01M335.27 72.73h.01M332.06 71.59h.01M330.89 66.49h.01M328.53 82.1h.01M337.05 65.71h.01M326 76.29h.01M333.76 66.1h.01M334.2 73.15h.01M336.1 66.01h.01M335.18 73.84h.01M329.14 76.31h.01M340.43 70.18h.01M333.39 71.02h.01M332.49 70.74h.01M329.23 68.1h.01M334.99 65.85h.01M338.55 70.55h.01M341.72 78.14h.01M324.38 76.9h.01M329.49 72.24h.01M334.8 72.9h.01M341.91 65.66h.01M333.52 69.49h.01M333.39 73.23h.01M334.58 63.89h.01M332.43 72.51h.01M335.6 74.69h.01M338.08 75.42h.01M327.17 78.96h.01M336.82 67.82h.01M336.37 71.71h.01M335.07 76.26h.01M330.15 78.77h.01M332.67 70.09h.01M340.05 67.16h.01M333.31 77.56h.01M327.64 75.85h.01M332.12 67.92h.01M328.39 80.84h.01M325.54 83.32h.01M334.1 76.68h.01M331.04 75.9h.01M330.96 72.5h.01M330.35 74.16h.01M332.5 68.96h.01M330.47 71.6h.01M329.87 74.11h.01M330.62 73.64h.01M338.78 72.19h.01M334.55 65.74h.01M337.12 68.5h.01M335.01 68.27h.01M323.89 90.51h.01M330.21 77.66h.01M331.47 73.24h.01M336.37 73.45h.01M327.28 79.99h.01M338.2 65.28h.01M338.47 74.55h.01M332.81 76.91h.01M338.37 75.58h.01M334.97 76.64h.01M332.41 77.67h.01M335.97 70.66h.01M329.24 72.34h.01M329.64 80.44h.01M331.25 75.62h.01M334.77 74.58h.01M329.28 77.43h.01M337.07 65.54h.01M326.88 75.35h.01M342.35 66.28h.01M340.29 71.39h.01M329.18 76.21h.01M335.24 73.02h.01M341.66 70.3h.01M330.91 71.7h.01M328.05 77.22h.01M331.45 69.74h.01M344.43 66.26h.01M328.29 79.83h.01M334.79 69.17h.01M329.79 69.05h.01M332.76 72.76h.01M334.46 76.48h.01M331.68 73.41h.01M336.83 67.09h.01M337.58 71.32h.01M326.76 74.44h.01M340.06 65.77h.01M329.88 79.67h.01M334.5 68h.01M332.46 70.03h.01M339.08 67.79h.01M334.88 70.81h.01M337.37 67.4h.01M334.08 73.15h.01M338.12 68.74h.01M332.89 69.1h.01M340.75 61.6h.01M331.96 76.66h.01M341.14 69.66h.01M338.76 73.41h.01M332.41 70.01h.01M334.01 77.45h.01M337.29 72.22h.01M327.72 79.11h.01M329.36 79.74h.01M338.52 71.19h.01M331.68 83.33h.01M336.99 63.95h.01M334.03 75.1h.01M334.39 71.19h.01M333.53 71.82h.01M338.11 73.16h.01M334.53 75.58h.01M329.85 72.08h.01M332.55 72.56h.01M338.47 68.4h.01M334.94 64.54h.01M340.87 68.75h.01M335.02 70.81h.01M333.3 73.83h.01M327.77 80.8h.01M340.57 73.56h.01M337.19 68.92h.01M331.27 73.63h.01M341.07 72.68h.01M337.72 65.78h.01M332.87 71.06h.01M334.71 64.94h.01M337.51 73.51h.01M327.41 80.91h.01M332.95 75.7h.01M332.48 74.77h.01M335.54 69.95h.01M328.42 74.78h.01M330.14 72.9h.01M330.89 77.8h.01M333.87 73.03h.01M337.86 75.74h.01M335.86 66.64h.01M335.79 68.01h.01M332 69.7h.01M337.95 74.44h.01M331.28 69.5h.01M336.01 73.73h.01M343.33 68.75h.01M323.43 83.39h.01M334.74 74.92h.01M329.99 66.7h.01M337.37 66.74h.01M325.45 73.96h.01M335.54 71.41h.01M337.23 68.77h.01M330.15 72.96h.01M328.3 83.11h.01M333.14 74.96h.01M327.69 76.85h.01M335.15 68.61h.01M326.87 73.28h.01M340.46 64.27h.01M339.3 76.46h.01M328.84 74.69h.01M332.71 75.74h.01M328.07 76.31h.01M337.2 72.56h.01M340.77 66.88h.01M332.34 73.07h.01M333.27 64.7h.01M328.76 75.72h.01M337.81 73.77h.01M342.43 61.81h.01M329.58 80.2h.01M337.57 66.09h.01M334.08 63.42h.01M327.2 81.89h.01M328.74 79.68h.01M328.47 75.73h.01M336.77 67.5h.01M332.71 75.13h.01M331.69 72.1h.01M337.4 70.18h.01M333.75 71.65h.01M329.12 66.61h.01M332.12 73.73h.01M336.86 66.33h.01M328.66 74.31h.01M341.42 65.99h.01M331.24 73.08h.01M331.81 77.31h.01M338.91 72.04h.01M335.9 70.9h.01M322.16 78.17h.01M332.92 70.08h.01M330.47 80.57h.01M329.81 75.77h.01M335.01 67.4h.01M330.07 76.27h.01M336.35 72.1h.01M332.83 74.87h.01M343.02 65.37h.01M331.42 71.31h.01M328.38 77.29h.01M328.71 77.02h.01M330.05 76.63h.01M329.32 67.63h.01M333.17 72.15h.01M334.47 65.48h.01M337.67 74.84h.01M337.9 75.37h.01M338.98 74.76h.01M335.11 74.94h.01M333.76 70.32h.01M339.12 71.2h.01M336.4 68.74h.01M332.97 76.39h.01M324.5 78.64h.01M329.09 75.03h.01M335.94 72.4h.01M327.89 87.52h.01M331.75 74.74h.01M340.81 75.44h.01M337.93 81.03h.01M326.21 74.95h.01M340.69 64.81h.01M337.03 64.5h.01M332.34 73.55h.01M337.76 65.66h.01M338.76 66.76h.01M331.43 79.77h.01M346.67 62.73h.01M330.55 77.43h.01M332.65 73.88h.01M329.58 77.84h.01M334.31 72.63h.01M329.76 79.79h.01M333.68 72.75h.01M339.22 68.95h.01M331.47 68.99h.01M334.49 75.58h.01M344 69.53h.01M330.52 77.11h.01M334.25 65.42h.01M335.64 76.94h.01M333.77 71.07h.01M326.78 66.26h.01M333.68 71.7h.01M334.88 74.26h.01M331.44 77.04h.01M334.31 77.91h.01M336.9 72.09h.01M333.53 73.5h.01M324.35 73.75h.01M328.21 73.54h.01M331.3 76.23h.01M335.03 74.44h.01M331.95 69.8h.01M332.58 71.07h.01M332.13 76.68h.01M329.22 68.65h.01M323.57 74.76h.01M321.52 85.15h.01M334.01 73.57h.01M325.87 79.15h.01M324.43 72.16h.01M328.84 78.23h.01M333.02 67.19h.01M330.3 79.59h.01M334.48 71.37h.01M332.27 75.56h.01M330.15 79.7h.01M326.04 78.74h.01M337.39 72.53h.01M338.06 73.76h.01M337.62 70.24h.01M344.06 67.51h.01M333.19 70.32h.01M336.86 73.55h.01M333.71 73.99h.01M331.67 70.31h.01M331.97 74.27h.01M328.72 75.74h.01M340.26 62.82h.01M326.28 81.37h.01M337.06 74.01h.01M334.57 70.25h.01M334.43 72.5h.01M326.22 74.08h.01M333.01 73.99h.01M334.39 77.42h.01M331.12 79.43h.01M334.45 74.14h.01M330.64 73.63h.01M329 73.33h.01M336.02 69.7h.01M326.1 74.83h.01M332.36 68.37h.01M333.26 77.68h.01M333.04 69.11h.01M337.99 76.46h.01M331.08 68.87h.01M330.56 78.25h.01M327.6 73.95h.01M330.45 77.16h.01M331.71 70h.01M336.56 69.75h.01M337.42 67.85h.01M330.39 74.26h.01M335 73.7h.01M330.52 83.4h.01M323.17 81.62h.01M332.06 78.74h.01M330.98 76.15h.01M327.15 79.86h.01M331.48 85.58h.01M330.46 66.04h.01M328.61 75.15h.01" stroke="#8a6abb" stroke-width="1" stroke-linecap="round" opacity="0.45"/>
<ellipse cx="358" cy="47.5" rx="11.5" ry="8" fill="#f6c08c" opacity="0.9" transform="rotate(-70 358 47.5)" filter="url(#b1_6)"/>
<ellipse cx="362.5" cy="53" rx="5" ry="5" fill="#f2aa66" opacity="0.8" transform="rotate(0 362.5 53)" filter="url(#b1_5)"/>
<path d="M347.92 57.27h.01M359.74 50.53h.01M364.17 51.52h.01M359.56 45.6h.01M363.24 36.25h.01M361.67 39.34h.01M353.14 49.07h.01M357.34 43.81h.01M355.34 34.3h.01M358.58 46.52h.01M360.45 46.94h.01M355.82 43.08h.01M349.9 55.74h.01M353.55 51.96h.01M358.33 45.22h.01M359.13 43.97h.01M354.92 53.25h.01M357.1 49.65h.01M351.46 46.12h.01M345.1 44.01h.01M361.93 43.9h.01M364.1 49.03h.01M351.67 44.06h.01M351.24 55.58h.01M356.37 54.78h.01M362.53 46.87h.01M356.63 58.87h.01M363.84 47.73h.01M355.73 51.66h.01M357.44 53.4h.01M360.89 43.88h.01M354.01 51.16h.01M360.81 54.97h.01M358.68 52.85h.01M361.99 48.64h.01M357.05 62.93h.01M352.82 45.88h.01M358.69 49.66h.01M348.23 37.04h.01M352.17 48.25h.01M354.9 64.77h.01M358.67 38.08h.01M355.69 54.86h.01M350.2 45.25h.01M361.09 58.89h.01M357.54 55.58h.01M356.21 50.68h.01M361.38 42.55h.01M360.95 42.5h.01M362.33 53.66h.01M359.64 44.55h.01M350.11 47.56h.01M356.63 46.35h.01M363.53 48.54h.01M361.48 44.36h.01M354.17 50.84h.01M359.87 49.34h.01M358.52 46.26h.01M360.39 47.89h.01M348.59 50.17h.01M357.62 34.81h.01M359.33 51.59h.01M358.3 42.2h.01M359.52 46.75h.01M369.03 42.68h.01M350.92 61.29h.01M363.43 34.5h.01M354.52 48.02h.01M351.8 54.57h.01M357.46 46.56h.01M356.44 30.44h.01M349.4 40.84h.01M360.57 57.76h.01M355.92 50.38h.01M365.61 40.6h.01M354.68 56.9h.01M357.71 48.95h.01M359.74 50.53h.01M365.8 34.52h.01M351.48 47.51h.01M365.93 40.89h.01M351.59 50.4h.01M356.46 53.11h.01M371.13 45.07h.01M359.31 43.6h.01M360.72 61.5h.01M357.47 42.8h.01M361.72 44.32h.01M356.25 51.63h.01M359.84 46.77h.01M354.35 44.41h.01M352.28 49.25h.01M357.57 51.9h.01M349 49.42h.01M353.12 47.97h.01M357.15 57.26h.01M354.67 46.84h.01M350.01 55.89h.01M352.78 45.28h.01M357.93 48.34h.01M353.41 53.73h.01M360.17 42.22h.01M361.25 34.6h.01M368.78 41.87h.01M352.31 55.78h.01M351.88 36.1h.01M358.51 46.31h.01M357.36 47.9h.01M356.75 51.7h.01M350.39 45.03h.01M365.76 40.3h.01M358.63 43.95h.01M356.3 50.19h.01M348.92 49.4h.01M358.57 51.04h.01M358.58 43.63h.01M367.85 37.54h.01M353.14 53.8h.01M352.04 45.6h.01M357.13 50.28h.01M351.67 51.02h.01M360.25 45.63h.01M354.03 42.23h.01M353.54 56.61h.01M354.02 53.96h.01M360.16 39.72h.01M355.97 44.67h.01M355.15 42.86h.01M356.03 50.74h.01M354.03 49.12h.01M359.24 44.82h.01M355.1 50.37h.01M344.99 51.22h.01M357.21 47.46h.01M365.71 43.88h.01M356.36 54.77h.01M362.61 41.63h.01M361.14 43.72h.01M353.37 52.44h.01M351.65 45.39h.01M360.92 49.13h.01M363.59 45.11h.01M361.54 44.12h.01M356.24 56.73h.01M356.01 56.98h.01M359.8 40.81h.01M358.94 47.26h.01M358.52 44.87h.01M359.69 45.91h.01M356.98 36.09h.01M351.87 54.42h.01M362.54 41.37h.01M354.06 52.36h.01M348.66 38.99h.01M361.2 39.03h.01M344.24 52.94h.01M366.76 47.97h.01M359.96 50.51h.01M359.72 50.52h.01M354.7 46.24h.01M350.09 52.63h.01M354.28 53.5h.01M359.13 43.32h.01M356.14 40.85h.01M356.83 51.51h.01M357.03 58.12h.01M365.58 33.45h.01M355.59 38.78h.01M348.96 41.81h.01M355.07 54.27h.01M353.26 50.32h.01M360.01 46.7h.01M362.34 56.4h.01M368.4 39.74h.01M359.07 47.14h.01M363.24 46.77h.01M362.19 56.85h.01M355.57 53.54h.01M356.83 53.13h.01M361.86 47.13h.01M356.74 49.25h.01M354.68 48.67h.01M355.03 44.35h.01M358.09 46.13h.01M358.35 36.98h.01M360.51 50.11h.01M353.7 53.63h.01M363.83 49.96h.01M366.22 40h.01M350.89 49.23h.01M362.32 48.97h.01M354.97 49.27h.01M364.42 47.12h.01M360.37 46.73h.01M355.45 52.77h.01M359.92 50.12h.01M357.38 40.62h.01M361.57 41.02h.01M361.4 42.22h.01M358.97 41.78h.01M358.46 50.36h.01M352.42 48.39h.01M362.17 42.46h.01M349.61 53.29h.01M360.13 48.95h.01M355.25 60.35h.01M359.75 51.16h.01M353.54 51.3h.01M367.81 60.14h.01M358 43.5h.01M356.53 52.6h.01M353.51 48.8h.01M363.16 51.51h.01M353.87 51.63h.01M365.24 39.97h.01M352.42 49.33h.01M359.43 46.82h.01M352.98 55.48h.01M360.53 52.13h.01M355.64 49.25h.01M353.23 48.25h.01M358.22 52.1h.01M352.88 44.83h.01M357.23 36.06h.01M360.65 49.68h.01M349.33 45.6h.01M360.01 51.33h.01M361.93 30.61h.01M357.56 35.78h.01M360.04 44.41h.01M362.05 44.06h.01M353.52 51.3h.01M356.59 48.34h.01M361.62 47.51h.01M361.21 48.03h.01M355.48 53.08h.01M352.59 51.47h.01M354.89 42.83h.01M355.91 44.69h.01M355.67 62.3h.01M360.41 47.94h.01M362.02 39.9h.01M362.16 53.96h.01M357.03 45.62h.01M352.71 56.44h.01M358.06 41.67h.01M363.28 57.8h.01M346.04 52.53h.01M358.25 50.14h.01M365.23 33.04h.01M356.6 51.68h.01M364.76 59.41h.01M363.85 46.49h.01M361.6 47.37h.01M357.85 35.56h.01M356.93 56.61h.01M352.47 57.36h.01M357.24 49.76h.01M359.54 45.52h.01M356.59 44.61h.01M363.04 41.64h.01M361.24 59.82h.01M360.28 54.58h.01M358.43 48.84h.01M351.58 39.26h.01M363.56 46.27h.01M361.42 52.05h.01M354.62 53.95h.01M357.88 41.24h.01M362.87 42.56h.01M360.81 50.05h.01M357.08 35.53h.01M351.11 54.05h.01M356.65 51.2h.01M350.09 49.79h.01M356.78 50.66h.01M358.07 54.14h.01M351.01 49.15h.01M361.67 49.46h.01M354.43 49.71h.01M361.75 44.27h.01M358.58 48.54h.01M355.94 46.98h.01M359.12 37.37h.01M351.39 43.01h.01M355.3 45.61h.01M354.57 46.61h.01M364.99 49.81h.01M363.55 45.55h.01M350.21 50.74h.01M363.97 41.53h.01M362.52 37.89h.01M358.99 39.66h.01M358.7 51.56h.01M357.51 59.16h.01M354.46 49.62h.01M357.1 46.27h.01M360.54 42.6h.01M353.31 47.34h.01M357.97 49.92h.01M361.13 37.76h.01M353.46 50.95h.01M356.85 39.52h.01M361.32 42.32h.01M358.49 57.6h.01M359.96 46.4h.01M352.99 49.96h.01M358.85 54.95h.01M354.29 59.87h.01M356.74 58.69h.01M363.8 46.8h.01M353.19 48.8h.01M357.96 45.71h.01M352.9 53.62h.01M353.47 48.41h.01M365.74 52.52h.01M358.26 59.08h.01M346.56 55.69h.01M360.75 45.5h.01M355.92 45.88h.01M360.58 55.46h.01M358.03 48.47h.01M358.74 43.15h.01M362.82 36.11h.01M357.46 54h.01M359.5 43.76h.01M361.96 33.7h.01M357.5 47.05h.01M363.52 39.02h.01M347.1 62.62h.01M361.31 38.35h.01M357.39 47.57h.01M351.47 59.04h.01M362.86 43.79h.01M354.95 38.95h.01M359.22 39.34h.01M357.15 38.65h.01M360.15 48.72h.01M354.2 51.79h.01M357.05 50.74h.01M359.47 48.5h.01M352.15 42.62h.01M358.7 51.49h.01M354.89 46.23h.01M358.91 41.65h.01M358.22 45.42h.01M366.72 34.14h.01M366.1 34.91h.01M362.67 57.8h.01M357.34 51.62h.01M352.85 55.41h.01M353.08 54.43h.01M361.96 45.17h.01M362.35 56.55h.01M356.91 54.97h.01M354.87 48.55h.01M360.97 42.94h.01M358.17 50.38h.01M357.23 50.05h.01M356.96 40.62h.01M348.35 40.75h.01M356.74 43.92h.01M364.59 43.18h.01M356.45 54.55h.01M349.13 42.91h.01M356.46 51.79h.01M352.56 38.23h.01M368.23 45.47h.01M356.28 54.73h.01M356.01 37.2h.01M358.54 56.47h.01M357.39 38.93h.01M360.78 47.23h.01M355.97 53.36h.01M350.33 53.11h.01M360.01 50.68h.01M352.23 45.8h.01M361.9 54.34h.01M359.51 44.14h.01M350.3 55.17h.01M350.28 44.96h.01M364.74 50.17h.01M359.64 62.03h.01M353.36 43.76h.01M361.89 58.39h.01M352.75 64.11h.01M355.55 51.33h.01M357.02 49.04h.01M358.93 41.43h.01M362.81 53.04h.01M362.03 38.39h.01M353.56 35.56h.01M369.32 43.83h.01M364.76 40.48h.01M354.17 43.76h.01M355.11 50.76h.01M355.65 42.11h.01M360.41 41.5h.01M360.15 46.75h.01M358.35 49.65h.01M351.71 56.94h.01M356.15 42.09h.01M362.33 46.72h.01M354.43 55.98h.01M367.64 50.5h.01M356.23 41.78h.01M360.99 49.61h.01M359.98 42.69h.01M356.51 41.64h.01M360.18 59.36h.01M357.74 49.84h.01M355.31 43.18h.01M358.75 41.26h.01M365.54 40.11h.01M348.24 58.27h.01M363.58 50.24h.01M362.5 44.11h.01M359.65 39.33h.01M367.63 38.83h.01M363.09 56.45h.01M359.57 51.04h.01M356.16 54.8h.01M367.65 45.22h.01M361.1 58.59h.01M356.82 38.59h.01M359.27 41.3h.01M358.17 44.2h.01M351.06 61.17h.01M350.01 49.8h.01M363.51 44.22h.01M354.93 57.03h.01M357.78 49.41h.01M363.63 50.54h.01M357.64 41.05h.01M358.35 45.78h.01M359.73 46.34h.01M355.06 49.9h.01M357.47 47.5h.01M360.85 49.75h.01M359.61 42.96h.01M363.13 50.92h.01M357.19 39.83h.01M354.76 59.05h.01M354.73 37.71h.01M357.02 48.63h.01M357.62 39.29h.01M363.89 49.26h.01M363.1 43.3h.01M363.62 38.78h.01M364.43 54.15h.01M364.23 49.41h.01M360.57 49.92h.01M355.49 45.29h.01M347.96 56h.01M357.39 48.78h.01M355.83 48.78h.01M353.32 51.82h.01M356.23 48.53h.01M347.25 55.18h.01M367.56 40.93h.01M354.14 43.04h.01M359.53 34.43h.01M358.28 54.27h.01M348.25 52.78h.01M362.5 47.31h.01M357.96 60.01h.01M357.13 45.76h.01M351.67 50.62h.01M355.11 49.16h.01M350.65 43.2h.01M363.93 49.57h.01M362.55 35.71h.01M356.28 42.47h.01M351 54.71h.01M362.68 42.24h.01M361.15 58.76h.01M352.7 45.19h.01M352.52 54.94h.01M348.46 50.38h.01M363.9 40.24h.01M357.27 51.59h.01M366.02 55.42h.01M356.06 51.2h.01M355.32 49.09h.01M358.3 37.27h.01M358.76 56.73h.01M348.04 53.25h.01M362.49 45.14h.01M355.19 58.49h.01M354.89 49.34h.01M356.73 38.99h.01M362.41 49.38h.01M364.72 53.77h.01M354.32 51.68h.01M358 54.54h.01M363.95 54.31h.01M355.58 45.92h.01M359.77 39.29h.01M354.97 39.6h.01M355.93 51.22h.01M355.82 52.41h.01M357.75 42.61h.01M350.44 58.43h.01M350.08 48.18h.01M351.37 47.81h.01M351.08 53.5h.01M358.28 55.27h.01M356.53 44.76h.01M350.32 57.24h.01M358.53 54.79h.01M358.76 52.92h.01M354.84 46.13h.01M351.95 55.77h.01M363.27 41.82h.01M358.71 50.42h.01M353.67 48.24h.01M358.04 50.59h.01M356.15 52.2h.01M360.32 55.98h.01M356.85 39.07h.01M362.13 47.95h.01M359.45 49.28h.01M355.88 39.86h.01M360.7 54.17h.01M363.25 45.24h.01M352.23 45.71h.01M364.27 56.79h.01M354.71 41.2h.01M350.36 56.19h.01M357.99 43.2h.01M359.07 54.88h.01M361.31 46.2h.01M360.69 38.84h.01M365.06 46.41h.01M358.16 52.5h.01M363.78 50.34h.01M369.11 54.77h.01M355.9 55.88h.01M344.11 51.11h.01M355.97 46.99h.01M354.44 42.82h.01M354.06 59.57h.01M358.07 48.62h.01M353.71 42.79h.01M353.08 45.49h.01M354.31 54.1h.01M359.4 41.01h.01" stroke="#f0a860" stroke-width="1" stroke-linecap="round" opacity="0.4"/>
<path d="M346.45 61.83h.01M367.42 34.2h.01M362.05 41.63h.01M360.82 40.95h.01M365.63 41.59h.01M353.64 47.59h.01M362.49 43.18h.01M366.75 32.6h.01M369.08 34.4h.01M364.38 38.08h.01M359.85 43.66h.01M356.67 47.89h.01M370.63 32.59h.01M365.12 37.95h.01M354.71 40.5h.01M349.48 59.21h.01M354.72 46.64h.01M348.26 54.7h.01M368.79 31.7h.01M365.41 42.83h.01M354.97 45.2h.01M361.17 44.97h.01M373.86 37.12h.01M355.27 53.77h.01M362.41 44.22h.01M350.98 47.94h.01M352.85 56.63h.01M365.72 43.32h.01M374.49 32.92h.01M362.47 41.87h.01M358.31 43.52h.01M365.69 42.91h.01M371.87 37.55h.01M349.69 49.93h.01M351 56.9h.01M365.83 41.95h.01M373.74 31.45h.01M366.02 42.72h.01M374.45 33.93h.01M359.65 48.15h.01M362.57 35.65h.01M374.56 32.97h.01M369.24 35.03h.01M356.44 42.85h.01M369.75 37.29h.01M354.51 43.77h.01M353.98 53.86h.01M369.26 41.96h.01M370.74 31.21h.01M369.91 38.05h.01M354.2 51.77h.01M369.48 37.34h.01M363.93 34.44h.01M360.11 46.54h.01M344.94 59.71h.01M370.7 36.5h.01M368.26 35.86h.01M367.83 40.87h.01M350.5 54.75h.01M353.04 53.91h.01M372.02 37.84h.01M368.06 36.81h.01M367.61 40.68h.01M360.8 44.26h.01M365.92 40.39h.01M357.15 44.75h.01M361.49 45.88h.01M358.55 50.72h.01M363.7 40.08h.01M360.79 46.66h.01M369.65 36.27h.01M364.8 34.68h.01M357.09 48.51h.01M377.74 31.92h.01M353.15 48.94h.01M361.5 35.17h.01M370.12 34.87h.01M369.74 31.7h.01M350.5 61.57h.01M369.03 34.93h.01M370.65 33.47h.01M370.89 30.62h.01M346.92 58.27h.01M356.12 45.66h.01M359.49 40.88h.01M358.8 45.09h.01M369.84 30.92h.01M360.04 49.61h.01M368.31 30.97h.01M365.88 37.96h.01M350.37 50.9h.01M352.19 46.2h.01M362.23 48.85h.01M358.38 37.01h.01M372.12 38.09h.01M357.84 40.42h.01M368.68 35.84h.01M355.66 57.91h.01M336.09 59.2h.01M356.83 41.6h.01M368.05 41.56h.01M359.88 44.99h.01M353.8 48.08h.01M364.99 39.02h.01M361.6 43.06h.01M360.05 50.32h.01M355.3 47.26h.01M364.29 44.86h.01M370.54 41.88h.01M369.48 32.23h.01M370.32 35.08h.01M354.39 47.42h.01M367.5 33.97h.01M367.21 35.28h.01M364.22 37.3h.01" stroke="#9a9a9a" stroke-width="1" stroke-linecap="round" opacity="0.5"/>
<text x="318.7" y="40.8" font-size="8.1" text-anchor="start" fill="#222" stroke="#222" stroke-width="0.18">RBCs</text>
<path d="M343.4 35.3L347.6 38.6L343.4 41.8Z" fill="#d9b890" stroke="#555" stroke-width="0.8"/>
<text x="296.2" y="60.4" font-size="8.1" text-anchor="start" fill="#222" stroke="#222" stroke-width="0.18">plasma</text>
<path d="M316 63.7L320.2 66.9L316 70Z" fill="#999" stroke="#555" stroke-width="0.8"/>
<text x="343.8" y="80.4" font-size="8.1" text-anchor="start" fill="#222" stroke="#222" stroke-width="0.18">aggregates</text>
<path d="M358.9 67.5L364.6 66.4L360.6 72Z" fill="#3a5274" stroke="#2a3a50" stroke-width="0.6"/>
<path d="M314.6 82L320.8 82L320.8 86.5Z" fill="#7b6a98" stroke="#555" stroke-width="0.7"/>
<path d="M321.8 84L328 84.5L327.8 90Z" fill="#e6c8dc" stroke="#666" stroke-width="0.7"/>
<text x="311.6" y="99.4" font-size="8.1" text-anchor="start" fill="#222" stroke="#222" stroke-width="0.18">PLTs</text>
<rect x="418.8" y="30" width="95.5" height="96.3" fill="none" stroke="#555" stroke-width="1"/>
<text x="414.6" y="127" font-size="4.6" fill="#4a4a4a" text-anchor="end">0</text>
<text x="414.6" y="108.92" font-size="4.6" fill="#4a4a4a" text-anchor="end">1000</text>
<text x="414.6" y="90.84" font-size="4.6" fill="#4a4a4a" text-anchor="end">2000</text>
<text x="414.6" y="72.76" font-size="4.6" fill="#4a4a4a" text-anchor="end">3000</text>
<text x="414.6" y="54.68" font-size="4.6" fill="#4a4a4a" text-anchor="end">4000</text>
<text x="414.6" y="36.6" font-size="4.6" fill="#4a4a4a" text-anchor="end">5000</text>
<path d="M416.4 125.4h2.4M417.5 120.88h1.3M417.5 116.36h1.3M417.5 111.84h1.3M416.4 107.32h2.4M417.5 102.8h1.3M417.5 98.28h1.3M417.5 93.76h1.3M416.4 89.24h2.4M417.5 84.72h1.3M417.5 80.2h1.3M417.5 75.68h1.3M416.4 71.16h2.4M417.5 66.64h1.3M417.5 62.12h1.3M417.5 57.6h1.3M416.4 53.08h2.4M417.5 48.56h1.3M417.5 44.04h1.3M417.5 39.52h1.3M416.4 35h2.4" stroke="#111" stroke-width="0.8"/>
<path d="M426.4 126.3v2.2M438.3 126.3v2.2M461.3 126.3v2.2M483.3 126.3v2.2M505.3 126.3v2.2M429.98 126.3v1.3M432.08 126.3v1.3M433.56 126.3v1.3M434.72 126.3v1.3M435.66 126.3v1.3M436.46 126.3v1.3M437.15 126.3v1.3M437.76 126.3v1.3M445.22 126.3v1.3M449.27 126.3v1.3M452.15 126.3v1.3M454.38 126.3v1.3M456.2 126.3v1.3M457.74 126.3v1.3M459.07 126.3v1.3M460.25 126.3v1.3M467.92 126.3v1.3M471.8 126.3v1.3M474.55 126.3v1.3M476.68 126.3v1.3M478.42 126.3v1.3M479.89 126.3v1.3M481.17 126.3v1.3M482.29 126.3v1.3M489.92 126.3v1.3M493.8 126.3v1.3M496.55 126.3v1.3M498.68 126.3v1.3M500.42 126.3v1.3M501.89 126.3v1.3M503.17 126.3v1.3M504.29 126.3v1.3" stroke="#111" stroke-width="0.8"/>
<text x="426.4" y="137.9" font-size="4.6" fill="#4a4a4a" text-anchor="middle">0</text>
<text x="437" y="137.9" font-size="4.6" fill="#4a4a4a" text-anchor="start">10<tspan dy="-2.6" font-size="4.05">2</tspan></text>
<text x="460" y="137.9" font-size="4.6" fill="#4a4a4a" text-anchor="start">10<tspan dy="-2.6" font-size="4.05">3</tspan></text>
<text x="482" y="137.9" font-size="4.6" fill="#4a4a4a" text-anchor="start">10<tspan dy="-2.6" font-size="4.05">4</tspan></text>
<text x="504" y="137.9" font-size="4.6" fill="#4a4a4a" text-anchor="start">10<tspan dy="-2.6" font-size="4.05">5</tspan></text>
<text x="400.8" y="74.5" font-size="11.5" text-anchor="middle" fill="#000" stroke="#000" stroke-width="0.25" transform="rotate(-90 400.8 74.5)">Count</text>
<text x="469" y="150.3" font-size="11.5" text-anchor="middle" fill="#000" stroke="#000" stroke-width="0.25">Ter119 PerCPCy5.5</text>
<path d="M455.5 125.4L455.5 125.4L455.73 125.4L455.97 125.4L456.2 125.4L456.43 125.4L456.67 125.4L456.9 125.4L457.13 125.4L457.37 125.39L457.6 125.39L457.83 125.39L458.07 125.38L458.3 125.38L458.53 125.37L458.77 125.36L459 125.34L459.23 125.32L459.47 125.3L459.7 125.26L459.93 125.22L460.17 125.16L460.4 125.09L460.63 125L460.87 124.88L461.1 124.73L461.33 124.55L461.57 124.32L461.8 124.03L462.03 123.69L462.27 123.26L462.5 122.75L462.73 122.13L462.97 121.39L463.2 120.51L463.43 119.47L463.67 118.25L463.9 116.83L464.13 115.19L464.37 113.31L464.6 111.17L464.83 108.76L465.07 106.05L465.3 103.04L465.53 99.73L465.77 96.11L466 92.2L466.23 88L466.47 83.56L466.7 78.9L466.93 74.07L467.17 69.14L467.4 64.16L467.63 59.22L467.87 54.41L468.1 49.83L468.33 45.58L468.57 41.77L468.8 38.52L469.03 35.96L469.27 34.21L469.5 33.5L469.73 34.05L469.97 35.39L470.2 37.37L470.43 39.9L470.67 42.9L470.9 46.28L471.13 49.98L471.37 53.93L471.6 58.05L471.83 62.28L472.07 66.56L472.3 70.85L472.53 75.08L472.77 79.23L473 83.25L473.23 87.1L473.47 90.78L473.7 94.26L473.93 97.52L474.17 100.56L474.4 103.37L474.63 105.95L474.87 108.31L475.1 110.45L475.33 112.39L475.57 114.12L475.8 115.67L476.03 117.04L476.27 118.25L476.5 119.31L476.73 120.24L476.97 121.04L477.2 121.73L477.43 122.33L477.67 122.84L477.9 123.28L478.13 123.65L478.37 123.96L478.6 124.22L478.83 124.43L479.07 124.61L479.3 124.76L479.53 124.89L479.77 124.99L480 125.07L480.23 125.14L480.47 125.19L480.7 125.24L480.93 125.27L481.17 125.3L481.4 125.32L481.63 125.34L481.87 125.35L482.1 125.36L482.33 125.37L482.57 125.38L482.8 125.38L483.03 125.39L483.27 125.39L483.5 125.39L483.5 125.4Z" fill="#f6bf8a" stroke="#f2b070" stroke-width="0.3"/>
<path d="M418.8 125.4L418.8 123.41L419.26 124L419.72 123.29L420.17 124.6L420.63 123.6L421.09 123.29L421.55 123.71L422 124.23L422.46 122.62L422.92 122.55L423.38 123.21L423.84 123.67L424.29 121.87L424.75 121.84L425.21 121.53L425.67 121.39L426.12 122.44L426.58 121.47L427.04 121.66L427.5 121.67L427.96 121.48L428.41 120.78L428.87 119.95L429.33 121.01L429.79 121.18L430.24 120.55L430.7 120.52L431.16 121.11L431.62 120.61L432.08 120.64L432.53 120.5L432.99 121.85L433.45 120.87L433.91 121.47L434.36 120.56L434.82 121.23L435.28 120.92L435.74 121.03L436.2 122.45L436.65 122.87L437.11 121.48L437.57 123.15L438.03 121.3L438.48 121.98L438.94 122.68L439.4 122.25L439.86 123.55L440.32 122.54L440.77 122.03L441.23 124.16L441.69 122.19L442.15 123.66L442.6 123.56L443.06 122.58L443.52 122.97L443.98 123.82L444.44 122.87L444.89 124.53L445.35 123.59L445.81 123.9L446.27 123.43L446.72 124.7L447.18 124.33L447.64 124.19L448.1 124.72L448.56 124.1L449.01 123.93L449.47 123.93L449.93 124.75L450.39 124.43L450.84 124.02L451.3 124.89L451.76 124.36L452.22 124.75L452.68 124.27L453.13 124.54L453.59 124.35L454.05 125L454.51 124.61L454.96 124.76L455.42 124.99L455.88 124.8L456.34 124.6L456.8 124.71L457.25 124.72L457.71 124.92L458.17 124.8L458.63 124.84L459.08 124.58L459.54 124.61L460 124.87L460 125.4Z" fill="#000" stroke="#000" stroke-width="0.5"/>
<text x="474.3" y="40.6" font-size="8.4" text-anchor="start" fill="#000" stroke="#000" stroke-width="0.18">RBCs</text>
<text x="430" y="117" font-size="8.5" text-anchor="start" fill="#000" stroke="#000" stroke-width="0.19">PLTs</text>
<rect x="24.5" y="175.8" width="96.8" height="96.4" fill="none" stroke="#555" stroke-width="1"/>
<text x="120.9" y="171.4" font-size="13.2" text-anchor="end" fill="#000" stroke="#000" stroke-width="0.29">Total</text>
<text x="31" y="188.4" font-size="8.6" font-weight="bold" text-anchor="start" fill="#000" stroke="#000" stroke-width="0.19">Q1</text>
<text x="115.8" y="188.4" font-size="8.6" font-weight="bold" text-anchor="end" fill="#000" stroke="#000" stroke-width="0.19">Q2</text>
<text x="30.1" y="267.4" font-size="8.8" font-weight="bold" text-anchor="start" fill="#000" stroke="#000" stroke-width="0.19">Q3</text>
<text x="115.8" y="267.4" font-size="8.8" font-weight="bold" text-anchor="end" fill="#000" stroke="#000" stroke-width="0.19">Q4</text>
<path d="M22.3 184.3h2.2M22.3 206.5h2.2M22.3 230.8h2.2M22.3 257.5h2.2M23.2 223.48h1.3M23.2 219.21h1.3M23.2 216.17h1.3M23.2 213.82h1.3M23.2 211.89h1.3M23.2 210.26h1.3M23.2 208.85h1.3M23.2 207.61h1.3M23.2 199.82h1.3M23.2 195.91h1.3M23.2 193.13h1.3M23.2 190.98h1.3M23.2 189.23h1.3M23.2 187.74h1.3M23.2 186.45h1.3M23.2 185.32h1.3M23.2 249.46h1.3M23.2 241.42h1.3M23.2 236.72h1.3M23.2 233.39h1.3M23.2 230.8h1.3" stroke="#111" stroke-width="0.8"/>
<text x="20" y="185.9" font-size="4.6" fill="#4a4a4a" text-anchor="end">10<tspan dy="-2.6" font-size="4.05">5</tspan></text>
<text x="20" y="208.1" font-size="4.6" fill="#4a4a4a" text-anchor="end">10<tspan dy="-2.6" font-size="4.05">4</tspan></text>
<text x="20" y="232.4" font-size="4.6" fill="#4a4a4a" text-anchor="end">10<tspan dy="-2.6" font-size="4.05">3</tspan></text>
<text x="17.9" y="259.6" font-size="4.6" fill="#4a4a4a" text-anchor="end">0</text>
<path d="M37.3 272.2v2.2M67.8 272.2v2.2M91.5 272.2v2.2M112.8 272.2v2.2M74.93 272.2v1.3M79.11 272.2v1.3M82.07 272.2v1.3M84.37 272.2v1.3M86.24 272.2v1.3M87.83 272.2v1.3M89.2 272.2v1.3M90.42 272.2v1.3M97.91 272.2v1.3M101.66 272.2v1.3M104.32 272.2v1.3M106.39 272.2v1.3M108.07 272.2v1.3M109.5 272.2v1.3M110.74 272.2v1.3M111.83 272.2v1.3M46.48 272.2v1.3M51.85 272.2v1.3M55.66 272.2v1.3M58.62 272.2v1.3M61.03 272.2v1.3M63.08 272.2v1.3M64.84 272.2v1.3M66.4 272.2v1.3" stroke="#111" stroke-width="0.8"/>
<text x="37.3" y="282.8" font-size="4.6" fill="#4a4a4a" text-anchor="middle">0</text>
<text x="67.8" y="282.8" font-size="4.6" fill="#4a4a4a" text-anchor="middle">10<tspan dy="-2.6" font-size="4.05">3</tspan></text>
<text x="91.5" y="282.8" font-size="4.6" fill="#4a4a4a" text-anchor="middle">10<tspan dy="-2.6" font-size="4.05">4</tspan></text>
<text x="112.8" y="282.8" font-size="4.6" fill="#4a4a4a" text-anchor="middle">10<tspan dy="-2.6" font-size="4.05">5</tspan></text>
<text x="9.4" y="220.6" font-size="11.5" text-anchor="middle" fill="#000" stroke="#000" stroke-width="0.25" transform="rotate(-90 9.4 220.6)">CD31 PECy7</text>
<text x="77" y="296.4" font-size="11.8" text-anchor="middle" fill="#000" stroke="#000" stroke-width="0.26">CD9 APC</text>
<path d="M22.5 249.6h2M22.5 251.4h2M22.5 253.2h2M22.5 255.6h2M22.5 257.5h2M22.5 259.4h2M22.5 261.2h2M34.3 272.2v2M36.1 272.2v2M37.9 272.2v2M39.5 272.2v2M41.3 272.2v2M43.1 272.2v2M44.8 272.2v2" stroke="#111" stroke-width="0.9"/>
<path d="M39.27 227.7h.01M39.93 230.09h.01M43.22 224.67h.01M38.58 228.57h.01M38.67 231.31h.01M42.19 229.54h.01M40.93 228.52h.01M43.66 230.81h.01M40.64 222.39h.01M41.73 223.93h.01M38.01 226.99h.01M36.87 234.74h.01M39.55 224.83h.01M31.95 235.26h.01M40.75 226.76h.01M42.37 227.56h.01M39.8 231.26h.01M38.94 232.65h.01M42.7 231.87h.01M39.46 215.92h.01M42.4 229.38h.01M45.88 229.04h.01M41.66 222.28h.01M42.27 225.41h.01M41 221.71h.01M40.3 234.95h.01M40.37 234.15h.01M39.77 208.54h.01M42.69 228.08h.01M34.95 229.52h.01M38.81 226.91h.01M41.47 222.1h.01M37.16 234.73h.01M39.28 226.2h.01M37.59 228h.01M40.84 223.94h.01M42.06 226.84h.01M43.75 230.91h.01M41.02 232.86h.01M37.52 241.94h.01M40.3 222.18h.01M41.21 236.34h.01M43.63 230.17h.01M33.43 218.23h.01M40.64 230.26h.01M34.34 224.31h.01M41.63 229.06h.01M40.86 223.8h.01M41.01 227.67h.01M42.12 230.78h.01M40.68 220.04h.01M37.73 229.38h.01M40.59 235.58h.01M43.02 229.74h.01M39.25 224.73h.01M39.66 234.27h.01M36.1 223.3h.01M42.9 223.42h.01M38.13 215.6h.01M37.45 231.55h.01M38.3 224.03h.01M37.11 237.48h.01M38.86 230.26h.01M43.23 227.24h.01M41.85 225.49h.01M43.66 228.16h.01M43.84 228.37h.01M37.01 231.38h.01M40.96 230.41h.01M43.87 226.08h.01M46.16 224.62h.01M35.53 224.16h.01M35.5 222.11h.01M40.92 221h.01M38.62 238.23h.01M36.73 230.85h.01M40.67 228.78h.01M37.32 231.56h.01M33.08 221.82h.01M39.51 223.53h.01" stroke="#eab0d0" stroke-width="1" stroke-linecap="round" opacity="0.4"/>
<path d="M35.5 244.3L45.5 244.3L44.2 226L42 223.8L37.5 223.8L35.2 226.5Z" fill="#e8a0ca" opacity="1" filter="url(#b1_1)"/>
<clipPath id="c1"><rect x="25" y="244.6" width="28" height="27.4"/></clipPath>
<g clip-path="url(#c1)">
<ellipse cx="41.2" cy="250.5" rx="7" ry="8.3" fill="#8c8c8c" opacity="1" transform="rotate(0 41.2 250.5)" filter="url(#b0_9)"/>
</g>
<path d="M87.32 241.96h.01M83.16 231.68h.01M88.64 235.07h.01M87.13 241.14h.01M78.22 234.88h.01M77.99 239.07h.01M70.44 240.29h.01M81.79 241.24h.01M85.31 230.52h.01M81.43 229.49h.01M95.27 231.42h.01M82.88 239.58h.01M69.54 240.65h.01M88.63 236.25h.01M86.98 232.1h.01M80.37 233.43h.01M84.02 231.97h.01M72.97 237.84h.01M79.75 237.81h.01M77.27 239.4h.01M77.1 243.41h.01M74.61 241.85h.01M77.77 230.48h.01M76.96 234.85h.01M81.58 243.45h.01M89.61 227.88h.01M75.89 239.53h.01M79.93 235.95h.01M75.34 240.88h.01M78.4 228.77h.01M79.76 233.36h.01M80.53 237.22h.01M78.81 223.67h.01M76.12 241.41h.01M81.46 243.12h.01M73.71 229.59h.01M96 231.94h.01M74.84 243.82h.01M80.54 232.27h.01M73.34 233.53h.01M85.88 238.43h.01M85.14 233.99h.01M83.43 237.29h.01M81.66 233.92h.01M80.3 232.12h.01M80.46 241.33h.01M77.32 233.73h.01M74.63 231.97h.01M74.57 236.21h.01M75.74 232.27h.01M88.44 237.1h.01M78.17 228.55h.01M80.31 230.18h.01M88.52 233.39h.01M89.31 241.33h.01M86.01 242.13h.01M82.25 238.42h.01M76.26 243.85h.01M78.81 227.59h.01M84.48 228.13h.01M85.39 230.47h.01M80.11 235.75h.01M80.5 228.69h.01M83.18 228.94h.01M88.02 225.35h.01M90.25 234.2h.01M82.94 236.77h.01M80.6 234.47h.01M81.12 234.35h.01M83 235.96h.01M76.56 235.81h.01M84.25 231.79h.01M72.72 233.27h.01M78.78 241.63h.01M85.5 237.62h.01M79.09 239.64h.01M81.09 238.6h.01M90.74 239.3h.01M81.55 236.68h.01M76.71 232.17h.01M80.49 230.54h.01M84.06 237.43h.01M80.39 242.5h.01" stroke="#9ab8dc" stroke-width="0.9" stroke-linecap="round" opacity="0.55"/>
<path d="M89.93 258.67h.01M84.16 247.49h.01M80.08 251.68h.01M73.67 269.43h.01M68.01 246.21h.01M66.38 262.35h.01M71.37 246.49h.01M66.97 255.69h.01M79.37 252.02h.01M76.68 251.96h.01M64.82 262.08h.01M82.29 246.12h.01M84.3 249.11h.01M65.3 253.32h.01M78.92 250.44h.01M78.49 257.2h.01M82.17 255.32h.01M85.78 246.31h.01M79.44 250.66h.01M80.83 259.13h.01M82.98 251.19h.01M82.08 254.16h.01M73.66 257.56h.01M74.97 252.63h.01M70.76 248.8h.01M80.59 252.39h.01M79.27 250.72h.01M83.64 262.71h.01M77.62 250.86h.01M85.39 261.31h.01M94.32 252.64h.01M86.19 244.82h.01M72.28 251.57h.01M85.57 257.31h.01M75.98 253.7h.01M78.52 254.09h.01M76.29 252.77h.01M70.83 249.92h.01M67.58 257.06h.01M57.71 259.06h.01M76.14 244.83h.01M86.88 246.41h.01M76.86 265.28h.01M87 258.37h.01M75.72 254.31h.01M81.26 252.36h.01M74.13 258.85h.01M80.76 260.37h.01M78.82 254.92h.01M59.61 261h.01M79.33 250.15h.01M80.84 258.9h.01M81.94 247.16h.01M82.52 255.9h.01M81.27 251.02h.01M76.01 255.42h.01M74.05 263.48h.01M75.59 255.21h.01M71.91 248.53h.01M92.5 244.72h.01M71.91 249.59h.01M76.42 256.13h.01M77.68 245.52h.01M82.03 248.84h.01M69.49 249h.01M70.2 255.6h.01M88.32 251.2h.01M70.69 266.11h.01M64.91 259.79h.01M70.13 252.48h.01M85.74 261.31h.01M83.85 252.32h.01M77.82 257.37h.01M68.19 262.92h.01M84.36 258.94h.01M86.03 255.16h.01M80.56 256.22h.01M77.07 258.8h.01M80.7 246.41h.01M76.61 250.36h.01M69.94 257.39h.01M79.67 253.03h.01M68.96 258.75h.01M86.84 250.26h.01M82.32 251.08h.01M69.99 255.33h.01M75.85 244.37h.01M90.46 251.51h.01M64.07 265.18h.01M75.23 249.45h.01M92.54 248.17h.01M68.01 261.68h.01M77.63 254.09h.01M62.84 250.51h.01M74.87 247.58h.01M58.82 260.68h.01M70.8 267.8h.01M72.26 251.29h.01M78.79 250.76h.01M78.52 246.07h.01M80.57 248.81h.01M88.37 249.6h.01M73.06 260.46h.01M77.6 253.87h.01M98.62 247.65h.01M87.67 253.98h.01M85.77 247.86h.01M78.66 260.06h.01" stroke="#c8b4e4" stroke-width="1" stroke-linecap="round" opacity="0.4"/>
<clipPath id="c2"><rect x="54" y="244.3" width="67" height="27.7"/></clipPath>
<g clip-path="url(#c2)">
<ellipse cx="78" cy="252.5" rx="15" ry="9.5" fill="#9b7cc8" opacity="0.95" transform="rotate(-30 78 252.5)" filter="url(#b1_4)"/>
</g>
<path d="M73.29 253.38h.01M76.6 253.79h.01M77.14 254.04h.01M70.82 257.03h.01M70.62 249.03h.01M69.45 256.58h.01M85.32 255.9h.01M66.21 256.94h.01M86.09 250.52h.01M67.09 257.28h.01M76.75 248.68h.01M66.69 253.92h.01M75.33 251.63h.01M87.8 253.18h.01M87.37 250.93h.01M79.91 256.18h.01M78.68 251.09h.01M78.23 248.45h.01M83.22 251.34h.01M73.64 249.96h.01M83.26 255.76h.01M82.57 252.29h.01M73.46 254.61h.01M75.12 252.79h.01M68.9 255.14h.01M76.88 252.23h.01M83.61 248.71h.01M68.09 253.25h.01M79.68 256.28h.01M85.59 249.09h.01M59.34 257.01h.01M77.41 254.45h.01M89.26 248.93h.01M68.04 270.64h.01M85.27 252.6h.01M73.28 257.1h.01M78.37 259.17h.01M77.51 247.33h.01M68.53 263.12h.01M78.33 249.17h.01M72.7 252.04h.01M75.83 259.03h.01M83.34 250.28h.01M77.28 245.15h.01M82.47 250.98h.01M76.77 250.18h.01M72.97 253.69h.01M90.21 249.92h.01M79.96 252.12h.01M81.87 244.89h.01M73.81 247.7h.01M70.66 263.57h.01M81.84 249.45h.01M81.04 248.72h.01M81.09 252.93h.01M71.04 256.27h.01M71.38 257.2h.01M78.38 255.78h.01M79.64 252.95h.01M72.32 259.97h.01M68.69 251.48h.01M82.03 250.2h.01M84.17 246.83h.01M74.84 254.58h.01M73.63 254.54h.01M72.12 252.37h.01M83.53 253.87h.01M76.6 250.21h.01M94.48 245.75h.01M88 251.42h.01M68.38 256.42h.01M77.97 252.91h.01M73.77 250.41h.01M75.57 252.62h.01M72.78 260.91h.01M77.47 256.65h.01M71.52 256.75h.01M79.84 249.79h.01M74.94 245.73h.01M69.74 258.64h.01M68.15 260.29h.01M77.45 257.96h.01M86.92 257.38h.01M82.29 251.71h.01M79.92 256.04h.01M54.28 260.29h.01M77.68 258.6h.01M75.34 258.23h.01M79.06 258.6h.01M71.79 259.31h.01M76.42 255.5h.01M77.17 260.29h.01M84.24 251.96h.01M79.37 257.01h.01M76.2 249.35h.01M74.94 248.22h.01M80.43 253.11h.01M75.88 254.16h.01M79.47 254.55h.01M86.35 250.76h.01M81.98 246.13h.01M81.01 252.3h.01M89.41 251.46h.01M78.94 249.99h.01M71.24 254.79h.01M64.4 254.47h.01M75.52 257.91h.01M82.14 259.84h.01M77.85 245.49h.01M86.95 251.04h.01M76.51 257.78h.01M71.79 253.1h.01M82.47 247.88h.01M73.44 251.02h.01M80.83 251.56h.01M88.66 249.51h.01M80.62 251.44h.01M79.79 255.66h.01M65.18 260.8h.01M85.65 255.3h.01M81.69 256.24h.01M73.69 251.26h.01M74.05 263.64h.01M78.66 254.38h.01M77.87 253.12h.01M89.63 255.38h.01M64.91 247.29h.01M80.07 254.79h.01M85.48 246.83h.01M69.89 252.28h.01M83.85 256.66h.01M87.31 249.5h.01M76.24 246.96h.01M67.27 255.26h.01M78 256.69h.01M85.7 257.01h.01M64.79 249.89h.01M69.44 258.63h.01M78.99 249.91h.01M68.28 249.18h.01M82.37 249.06h.01M67.13 250.58h.01M65.17 257.11h.01M76.8 261.32h.01M89.15 248.6h.01M74.4 258.47h.01M79.58 254.56h.01M80.69 252.68h.01M74.26 259.53h.01M78.68 250.23h.01M83.08 253.84h.01M65.77 255.82h.01M65.97 257.18h.01M63.04 267.21h.01M80.45 258.82h.01M75.5 250.83h.01M81.24 246.46h.01M89.28 248.92h.01M77.28 254.26h.01M75.11 250.73h.01M82.57 252.86h.01M89.5 248.65h.01M73.16 255.69h.01M88.86 261.11h.01M79.72 258.38h.01M77.95 256.64h.01M85.89 253.12h.01M79.71 266.52h.01M73.81 260.48h.01M81.1 247.06h.01M78.89 253.61h.01M76.8 253.56h.01M76.24 250.63h.01M82.15 251.42h.01M76.5 254.64h.01M83.21 249.21h.01M79.98 248.89h.01M89.81 249.89h.01M85.74 252.22h.01M77.06 253.09h.01M79.73 252.9h.01M69.28 245.48h.01M100.59 247.99h.01M73.12 246.54h.01M80.08 246.92h.01M88.62 249.65h.01M68.18 255.1h.01M72.1 253.84h.01M70.89 245.27h.01M70.95 254.36h.01M70.6 257.86h.01M76.51 256.82h.01M86.15 246.35h.01M83.57 250.41h.01M79.57 253.83h.01M77.08 249.62h.01M65.94 255.66h.01M87.23 257.16h.01M79.28 247.45h.01M74.07 261.05h.01M79.89 251.79h.01M80.38 258.63h.01M73.62 251.8h.01M73.11 257.98h.01M74.73 256.09h.01M71.77 254.96h.01M82.08 251.75h.01M79.08 247.99h.01M80.32 250.78h.01M76.33 251.45h.01M77.43 256.73h.01M63.23 253.96h.01M85.36 246.38h.01M80.48 250.59h.01M76.86 248.58h.01M78.03 259.28h.01M77.88 254.66h.01M72.56 259.96h.01M67.71 254.57h.01M76.8 251.18h.01M69.87 262.35h.01M86.46 249.51h.01M56.26 265.53h.01M67.22 256.2h.01M80.38 251.61h.01M77.41 247.38h.01M79.63 252.73h.01M78.47 246.05h.01M87.13 254.38h.01M86.18 252.77h.01M66.18 255.41h.01M70.38 256.63h.01M89.53 250.6h.01M94.37 244.87h.01M85.75 256.83h.01M69.71 256.67h.01M79.02 254.99h.01M76.4 248.31h.01M80.09 252.16h.01M88.9 254.05h.01M85.75 250.63h.01M61.59 262.83h.01M74.38 252.69h.01M71.96 249.43h.01M89.37 249.94h.01M75.08 250.44h.01M70.34 258.8h.01M67.62 253.4h.01M83 259.28h.01M88.5 247.17h.01M83.16 262.99h.01M75.88 254.85h.01M76.84 256.34h.01M90.12 250.61h.01M81.91 254.73h.01M77.41 253.98h.01M79.65 261.3h.01M74.2 255.09h.01M76.56 251.01h.01M75.73 257.29h.01M81.52 253h.01M76.38 247.4h.01M80.36 259.5h.01M76.62 252.09h.01M73.07 246.37h.01M92.86 251.13h.01M81.8 258.2h.01M77.39 259.33h.01M77.76 255.49h.01M80.78 246.36h.01M79.24 256.63h.01M81.61 260h.01M78.61 256.37h.01M83.09 257.82h.01M79.27 247.83h.01M83.61 254.54h.01M69.92 262.02h.01M68.22 250.54h.01M57.78 255.87h.01M82.06 246.51h.01M85.84 248.44h.01M87.91 249.16h.01M78.89 250.88h.01M85.77 247.73h.01M77.97 251.99h.01M77.87 253.08h.01M69.76 260.32h.01M74.49 257.14h.01M74.5 254.3h.01M85 249.85h.01M77.19 257.13h.01M79.75 248.95h.01M83.91 257.6h.01M73.39 255.1h.01M67.9 259.81h.01M71.88 252.18h.01M68.36 256.35h.01M76.78 254.12h.01M77.58 252.9h.01M75.9 250.58h.01M74.77 248.44h.01M81.68 250.65h.01M72.75 256.39h.01M85.44 251.1h.01M70.39 263.39h.01M78.16 250.86h.01M73 254.72h.01M63.98 251.14h.01M79.72 244.94h.01M76.38 258.82h.01M84.78 251.58h.01M81.99 246.94h.01M76.99 249.87h.01M78.24 251.97h.01M81.96 252.76h.01M71.62 254.46h.01M83.65 258.81h.01M79.67 246.14h.01M82 255.44h.01M78.15 248.97h.01M79.77 256.82h.01M75.49 248.97h.01M74.03 258.66h.01M68.2 255.96h.01M83.89 244.91h.01M73.99 254.12h.01M80.95 253.34h.01M69.64 259.5h.01M83.01 257.85h.01M74.93 258.6h.01M70.96 254.57h.01M67.74 248.2h.01M83.68 247.31h.01M87.2 250.5h.01M61.83 255h.01M77.45 246.79h.01M84.45 249.6h.01M69.89 255.77h.01M86.41 255.92h.01M75.76 255.54h.01M73.19 258.12h.01M80.1 260.43h.01M74.34 252.1h.01M69.46 257.51h.01M76.08 255.03h.01M75.94 259.13h.01M87.03 254.46h.01M77.89 252.46h.01M75 250.35h.01M77.58 245.61h.01M79.32 252.46h.01M82.57 257h.01M92.4 251.54h.01M70.44 248.62h.01M75.66 255.66h.01M73.4 248.73h.01M83.88 253.26h.01M82.79 253.89h.01M84.86 249.52h.01M71.66 260.55h.01M80.24 251.58h.01M78.58 255.2h.01" stroke="#8866bd" stroke-width="1" stroke-linecap="round" opacity="0.35"/>
<line x1="53.6" y1="175.8" x2="53.6" y2="272.2" stroke="#3a3a3a" stroke-width="1"/>
<line x1="24.5" y1="244.3" x2="53.6" y2="244.3" stroke="#3a3a3a" stroke-width="1"/>
<line x1="53.6" y1="244.3" x2="121.3" y2="244.3" stroke="#3a3a3a" stroke-width="1"/>
<rect x="148.3" y="175.8" width="97.2" height="96.4" fill="none" stroke="#555" stroke-width="1"/>
<text x="245.1" y="171.4" font-size="13.2" text-anchor="end" fill="#000" stroke="#000" stroke-width="0.29">PLTs</text>
<text x="154.8" y="188.4" font-size="8.6" font-weight="bold" text-anchor="start" fill="#000" stroke="#000" stroke-width="0.19">Q1</text>
<text x="240" y="188.4" font-size="8.6" font-weight="bold" text-anchor="end" fill="#000" stroke="#000" stroke-width="0.19">Q2</text>
<text x="153.9" y="267.4" font-size="8.8" font-weight="bold" text-anchor="start" fill="#000" stroke="#000" stroke-width="0.19">Q3</text>
<text x="240" y="267.4" font-size="8.8" font-weight="bold" text-anchor="end" fill="#000" stroke="#000" stroke-width="0.19">Q4</text>
<path d="M146.1 184.3h2.2M146.1 206.5h2.2M146.1 230.8h2.2M146.1 257.5h2.2M147 223.48h1.3M147 219.21h1.3M147 216.17h1.3M147 213.82h1.3M147 211.89h1.3M147 210.26h1.3M147 208.85h1.3M147 207.61h1.3M147 199.82h1.3M147 195.91h1.3M147 193.13h1.3M147 190.98h1.3M147 189.23h1.3M147 187.74h1.3M147 186.45h1.3M147 185.32h1.3M147 249.46h1.3M147 241.42h1.3M147 236.72h1.3M147 233.39h1.3M147 230.8h1.3" stroke="#111" stroke-width="0.8"/>
<text x="143.8" y="185.9" font-size="4.6" fill="#4a4a4a" text-anchor="end">10<tspan dy="-2.6" font-size="4.05">5</tspan></text>
<text x="143.8" y="208.1" font-size="4.6" fill="#4a4a4a" text-anchor="end">10<tspan dy="-2.6" font-size="4.05">4</tspan></text>
<text x="143.8" y="232.4" font-size="4.6" fill="#4a4a4a" text-anchor="end">10<tspan dy="-2.6" font-size="4.05">3</tspan></text>
<text x="141.7" y="259.6" font-size="4.6" fill="#4a4a4a" text-anchor="end">0</text>
<path d="M161.1 272.2v2.2M191.6 272.2v2.2M215.3 272.2v2.2M236.6 272.2v2.2M198.73 272.2v1.3M202.91 272.2v1.3M205.87 272.2v1.3M208.17 272.2v1.3M210.04 272.2v1.3M211.63 272.2v1.3M213 272.2v1.3M214.22 272.2v1.3M221.71 272.2v1.3M225.46 272.2v1.3M228.12 272.2v1.3M230.19 272.2v1.3M231.87 272.2v1.3M233.3 272.2v1.3M234.54 272.2v1.3M235.63 272.2v1.3M170.28 272.2v1.3M175.65 272.2v1.3M179.46 272.2v1.3M182.42 272.2v1.3M184.83 272.2v1.3M186.88 272.2v1.3M188.64 272.2v1.3M190.2 272.2v1.3" stroke="#111" stroke-width="0.8"/>
<text x="161.1" y="282.8" font-size="4.6" fill="#4a4a4a" text-anchor="middle">0</text>
<text x="191.6" y="282.8" font-size="4.6" fill="#4a4a4a" text-anchor="middle">10<tspan dy="-2.6" font-size="4.05">3</tspan></text>
<text x="215.3" y="282.8" font-size="4.6" fill="#4a4a4a" text-anchor="middle">10<tspan dy="-2.6" font-size="4.05">4</tspan></text>
<text x="236.6" y="282.8" font-size="4.6" fill="#4a4a4a" text-anchor="middle">10<tspan dy="-2.6" font-size="4.05">5</tspan></text>
<text x="135.4" y="220.6" font-size="11.5" text-anchor="middle" fill="#000" stroke="#000" stroke-width="0.25" transform="rotate(-90 135.4 220.6)">CD31 PECy7</text>
<text x="202" y="296.4" font-size="11.8" text-anchor="middle" fill="#000" stroke="#000" stroke-width="0.26">CD9 APC</text>
<path d="M146.3 249.6h2M146.3 251.4h2M146.3 253.2h2M146.3 255.6h2M146.3 257.5h2M146.3 259.4h2M146.3 261.2h2M158.1 272.2v2M159.9 272.2v2M161.7 272.2v2M163.3 272.2v2M165.1 272.2v2M166.9 272.2v2M168.6 272.2v2" stroke="#111" stroke-width="0.9"/>
<path d="M165.22 214.82h.01M164.65 219.89h.01M166.58 232.16h.01M166.01 233.17h.01M161.05 229.22h.01M165.63 229.15h.01M164.29 227.05h.01M169.49 231.77h.01M172.48 222.98h.01M161.92 227.28h.01M162.38 225.01h.01M162.75 227.49h.01M163.31 223.23h.01M163.21 235.9h.01M165.44 216.48h.01M168.54 225.1h.01M161.37 224.38h.01M160.66 223.24h.01M159.75 219.95h.01M168.59 222.36h.01M169.26 225.85h.01M160.67 228.77h.01M160.39 239h.01M165.67 226h.01M168.56 229.68h.01M168.32 229.69h.01M165.86 210.67h.01M167.33 240.5h.01M166.26 227.09h.01M163.62 219h.01M171.01 220.76h.01M165.28 218.8h.01M161.95 236.35h.01M163.88 234.2h.01M160.66 223.14h.01M165.33 229.54h.01M168.57 215.49h.01M161.49 225.86h.01M168.67 226.08h.01M171.56 224.37h.01M166.42 229.35h.01M161.81 226.61h.01M162.72 232.16h.01M164.28 227.7h.01M161.44 230.82h.01M161.53 225.64h.01M164.5 237.34h.01M164.74 237.87h.01M167.1 224.21h.01M161.68 225.84h.01M170.9 234.16h.01M168.47 229h.01M167.96 234.75h.01M163.33 213.13h.01M170.51 238.35h.01M164.26 215.42h.01M170.73 233.17h.01M168.5 224.46h.01M162.59 229.24h.01M163.92 230.06h.01M170.9 220.85h.01M168.29 221.69h.01M164.82 229.42h.01M165.9 233.75h.01M165.88 212.88h.01M162.97 217.56h.01M164.68 226.4h.01M163.3 229.47h.01M164 225.33h.01M166.69 226.81h.01M162.41 219.01h.01M167.47 234.14h.01M165.62 227.23h.01M167.58 232.87h.01M167.96 218.23h.01M169.03 214.76h.01M167.17 228.02h.01M167.41 223.6h.01M164.75 217.53h.01M167 229.47h.01M162.58 233.91h.01M164.55 220.09h.01M167.54 223.83h.01M165.13 228.82h.01M166.63 217.14h.01M162.11 225.71h.01M169.4 239.83h.01M163.55 224.94h.01M166.47 227.78h.01M165.22 214.2h.01" stroke="#eab0d0" stroke-width="1" stroke-linecap="round" opacity="0.4"/>
<path d="M159.8 252.5L170.8 252.5L170 227L168 223.5L162.5 223.5L160.3 227Z" fill="#e69ec8" opacity="1" filter="url(#b1_1)"/>
<clipPath id="c3"><rect x="149" y="252.5" width="28" height="19.5"/></clipPath>
<g clip-path="url(#c3)">
<ellipse cx="165.3" cy="256" rx="4.5" ry="1.8" fill="#a0a0a0" opacity="0.8" transform="rotate(0 165.3 256)" filter="url(#b0_6)"/>
</g>
<path d="M215.41 234h.01M202.47 232.94h.01M204.94 242.62h.01M192.29 237.33h.01M204.65 234.71h.01M203.01 242.43h.01M211.66 233.88h.01M211.56 223.86h.01M191.23 239.65h.01M202.39 242.74h.01M204.74 228.09h.01M215.09 230.32h.01M206.88 230.68h.01M208.47 232.37h.01M216.24 239.65h.01M214.38 236.67h.01M218.05 229.38h.01M206.03 226.31h.01M201.02 240.58h.01M204.37 236.18h.01M207.59 232.57h.01M206.29 242.18h.01M200.32 229.06h.01M204.85 237.35h.01M203.35 237.47h.01M208.29 228.11h.01M209.7 241.64h.01M197.16 234.38h.01M202.98 237.19h.01M207.18 233.97h.01M211.71 216.68h.01M203.95 227.71h.01M211.9 223.77h.01M211.71 234.37h.01M210.52 234.22h.01M202.85 238.55h.01M193.01 232.31h.01M201.56 239.48h.01M214.88 223.97h.01M207.34 241.35h.01M219.53 236.42h.01M212.4 233.32h.01M203.12 230.76h.01M204.18 236.47h.01M202.06 230.43h.01M213.41 233.58h.01M200.12 232.3h.01M204.37 234.55h.01M212.2 224.38h.01M195.4 240.56h.01M206.05 237.14h.01M207.61 229.76h.01M200.64 240.27h.01M200.38 233.21h.01M205.67 230.9h.01M206.32 240.21h.01M217.23 237.76h.01M205.08 220.71h.01M204.05 230.17h.01M204.06 234.85h.01M211.55 236.76h.01M205.6 231.9h.01M201.25 240.69h.01M210.35 226.44h.01M209.58 234.79h.01M207.4 226.03h.01M202.66 219.41h.01M212.53 217.68h.01M215.37 237.42h.01M199.37 241.03h.01M204.26 230.54h.01M212.85 241.83h.01M210.96 236.54h.01M208.75 238.86h.01M208.13 230.12h.01M206.01 238.14h.01M209.42 234.58h.01M198.09 231.16h.01M208.97 235.48h.01M211.52 228.69h.01M207.82 240.59h.01M214.14 235.41h.01M199.99 235.62h.01M202.89 233.42h.01M205.96 235.6h.01" stroke="#9ab8dc" stroke-width="0.9" stroke-linecap="round" opacity="0.55"/>
<path d="M201.27 254.53h.01M203.11 252.27h.01M209.12 249.38h.01M208.67 252.05h.01M213.23 246.37h.01M203.69 246.82h.01M193.3 249.49h.01M185.19 251.55h.01M214.59 255.18h.01M204.6 258.91h.01M198 247.74h.01M201.55 252.84h.01M193.39 262.28h.01M206.1 262.59h.01M182.18 261.84h.01M201.93 255.58h.01M200.82 262.73h.01M206.09 247.16h.01M202.81 253.65h.01M203.85 248.53h.01M216.5 260.01h.01M201.08 260.66h.01M203.35 254.89h.01M199.03 249.71h.01M226.93 245.72h.01M207.01 255.67h.01M187.43 259.36h.01M209.72 247.02h.01M196.74 256.88h.01M206.97 258.12h.01M214.26 251.12h.01M202.46 259.56h.01M200.75 251.17h.01M193.39 256.2h.01M199.59 263.72h.01M188.73 265h.01M211.46 243.61h.01M196.83 260.65h.01M209.93 255.27h.01M209.25 254.84h.01M199.69 256.39h.01M203.48 250.06h.01M204.96 255.27h.01M205.47 263.57h.01M205.39 253.35h.01M203.06 249.29h.01M197.36 259.26h.01M190.63 252.72h.01M198.41 257.92h.01M204.67 250.8h.01M218.4 251.2h.01M216.65 246.55h.01M210.08 256.61h.01M218.75 259.88h.01M204.91 251.2h.01M211.02 243.58h.01M206.89 254.54h.01M207.45 250.59h.01M202.66 254.87h.01M202.76 249.89h.01M221.38 246.8h.01M195.09 258.76h.01M199.09 254.42h.01M213.2 250.05h.01M222.5 250.26h.01M200.36 251.43h.01M179.91 261.75h.01M212.76 255.69h.01M207.73 246.96h.01M191.25 261.2h.01M203.92 256.32h.01M206.08 256.82h.01M185.9 263.65h.01M206.76 244.2h.01M210.94 255.81h.01M205.19 249.59h.01M194.46 255.21h.01M204.49 266.11h.01M201.9 260.16h.01M205.32 245.38h.01M195.17 255.05h.01M215.59 244.82h.01M205.39 247.39h.01M181.41 253.52h.01M220.37 248.98h.01M207.97 255.96h.01M200.72 256.63h.01M204.15 250.4h.01M190.32 262.43h.01M207.82 255.14h.01M181.61 259.18h.01M195.24 256h.01M213.81 243.78h.01M216.65 250.42h.01M202.43 255.76h.01M192.92 250.96h.01M210.23 245.46h.01M209.07 261.84h.01M203.38 247.08h.01M209.94 250.69h.01M193.92 254.79h.01M214.41 255.32h.01M187.11 262.45h.01M215.02 243.87h.01M188.34 254.41h.01M198.62 254.6h.01M201.35 260.1h.01M212.23 252.79h.01M206.68 242.85h.01M211.76 258.9h.01M208.09 249.12h.01M205.19 245.48h.01M204.16 253.85h.01M187.1 258.76h.01M184.02 260.83h.01" stroke="#c8b4e4" stroke-width="1" stroke-linecap="round" opacity="0.4"/>
<clipPath id="c4"><rect x="178" y="242.8" width="67" height="29.2"/></clipPath>
<g clip-path="url(#c4)">
<ellipse cx="205" cy="251.5" rx="14" ry="9.2" fill="#9b7cc8" opacity="0.95" transform="rotate(-32 205 251.5)" filter="url(#b1_4)"/>
</g>
<path d="M203.56 256.34h.01M206.68 253.94h.01M202.89 253.48h.01M194.54 256.68h.01M210.25 251.27h.01M202.78 253.61h.01M212.61 245.85h.01M205.69 243.82h.01M208.69 247.5h.01M208.14 252.58h.01M212.48 244.29h.01M204.42 253.58h.01M199.18 254.31h.01M205.33 245.85h.01M186.8 258.1h.01M201.62 249.68h.01M206.26 249.13h.01M202.45 251.66h.01M215.94 250.4h.01M207.38 244.3h.01M204.76 255.14h.01M211.27 245.14h.01M201.17 253.21h.01M209.02 262.18h.01M213.62 253.66h.01M210.64 250.97h.01M220.31 246.79h.01M204.56 252.34h.01M196.31 261.86h.01M208.23 246.25h.01M211.66 243.58h.01M203.51 249.95h.01M218.86 251h.01M220.17 250.07h.01M200.11 251.36h.01M205.38 257.26h.01M197.56 255.28h.01M211.45 253.02h.01M209.27 247.14h.01M211.55 252.34h.01M197.79 255.4h.01M200.26 252.94h.01M196.78 256.49h.01M196.1 257.86h.01M196 254.08h.01M192.72 252.04h.01M208.45 258.14h.01M207.28 248.01h.01M204.1 248.86h.01M212.27 254.02h.01M199.97 246.14h.01M205.17 249.71h.01M199.42 245.41h.01M204.97 257.26h.01M206.66 252.36h.01M199.52 256.6h.01M215.19 252.16h.01M199.89 263.27h.01M210.83 253.23h.01M195.91 254.17h.01M208.47 243.9h.01M196.52 247.67h.01M207.07 259.62h.01M198.25 254.74h.01M205.54 251.85h.01M208.57 250.31h.01M225.95 248.95h.01M195.92 254.25h.01M215.95 250.84h.01M202.75 254.51h.01M206.92 249.52h.01M211.07 252.52h.01M206.43 246.74h.01M203.31 250.18h.01M206.07 252.03h.01M206.75 250.92h.01M215.55 250.79h.01M195.05 254.24h.01M202.98 253.65h.01M198.63 256.96h.01M199.77 254.93h.01M202.32 256.75h.01M211.71 246.01h.01M221.52 247.5h.01M212.21 243.32h.01M194.99 250.27h.01M205.96 250.72h.01M201.43 259.92h.01M207.11 247.52h.01M211.89 243.95h.01M208.37 247.62h.01M211.3 248.45h.01M204.29 251.06h.01M194.31 259.83h.01M189.47 252.26h.01M208.51 257.16h.01M210.47 251.15h.01M206.69 257.64h.01M207.11 252.56h.01M210.61 255.71h.01M209.06 257.65h.01M199.02 255.5h.01M209.87 252.42h.01M207.22 248.57h.01M195.46 252.2h.01M205.05 250.38h.01M190.55 250.42h.01M194.73 261h.01M203.64 251.25h.01M202.31 251.8h.01M212.38 254.3h.01M214.47 245.8h.01M203.83 248.81h.01M201.87 253.17h.01M212.74 252.25h.01M196.5 253.8h.01M203.93 246.78h.01M205.83 255.83h.01M204.46 252.18h.01M209.13 248.82h.01M198.99 266.17h.01M203.45 246.16h.01M201.11 255h.01M202.14 244.04h.01M207.29 248.53h.01M204.71 254.78h.01M205.97 256.8h.01M195.59 250.77h.01M210.9 252.2h.01M203.33 256.66h.01M208.01 249h.01M202.68 265.83h.01M213.93 245.95h.01M197.3 251.74h.01M213.64 248.35h.01M198.49 245.87h.01M212.58 254.94h.01M207.04 255.41h.01M208.79 247.07h.01M207.06 253.44h.01M214.59 248.33h.01M214.22 255.86h.01M208.3 246.25h.01M196.57 246.17h.01M212.83 245.09h.01M202.35 244.99h.01M196.18 256.13h.01M209.47 250.87h.01M203.31 250.27h.01M205.4 257.5h.01M205.42 250.21h.01M207.57 251.13h.01M196.22 261.98h.01M205.63 244.32h.01M197.38 251.47h.01M220.02 255.18h.01M215.37 244.22h.01M203.1 247.27h.01M195.34 256.23h.01M205.35 248.31h.01M203.78 245.87h.01M209.02 246.87h.01M203.74 252.2h.01M198.31 255.63h.01M205.99 253.71h.01M195.89 248.16h.01M203.14 256.8h.01M200.58 251.97h.01M208.16 255.9h.01M198.76 257.01h.01M199.57 247.55h.01M206.03 253.68h.01M200.24 249.21h.01M204.67 253.08h.01M216.03 251.04h.01M213.19 257.43h.01M197.29 255.98h.01M204.62 255.4h.01M210.84 249.44h.01M203.49 256.59h.01M204.51 249.8h.01M209.49 250.23h.01M205.6 253.59h.01M202.97 248.86h.01M202.3 257.51h.01M210.37 253.92h.01M200.11 254.94h.01M215.61 243.71h.01M204.64 249.89h.01M204.56 252.52h.01M213.15 252.58h.01M208.59 257.1h.01M205.03 249.05h.01M203.1 247.86h.01M199.32 250.94h.01M202.29 258.35h.01M201.86 254.64h.01M213.18 247.97h.01M202.91 255.34h.01M204.01 254.1h.01M202.58 252.4h.01M207.4 244.6h.01M200.26 255.12h.01M209.85 250.54h.01M205.46 249.31h.01M202.78 250.75h.01M211.87 254.35h.01M196.78 254.23h.01M211.18 248.82h.01M206.19 249.12h.01M197.52 251.73h.01M209.51 245.91h.01M210.74 243.67h.01M198.73 259.85h.01M201.26 247.89h.01M201.45 251.6h.01M210.93 251.22h.01M213.56 245.59h.01M195.17 260.24h.01M207.67 254.19h.01M200.96 245.43h.01M210.7 245.82h.01M203.11 247.72h.01M201.01 261.01h.01M204.14 251.45h.01M200.46 256.94h.01M204.83 260.44h.01M205.02 249.66h.01M202.85 253.25h.01M208.24 251.61h.01M195.76 255.91h.01M222.61 247.02h.01M215.15 249.41h.01M212.28 252.16h.01M197.85 256.24h.01M191.69 258.06h.01M199.53 253.1h.01M203.33 250.67h.01M214.37 247.54h.01M204.29 256.17h.01M212.9 246.53h.01M211.87 244.66h.01M205.77 251.23h.01M213.5 247.37h.01M208.35 251.11h.01M205.79 260.31h.01M196.47 252.42h.01M205.69 252.96h.01M213.25 249.92h.01M197.55 256.58h.01M195.27 256.39h.01M206.55 245.26h.01M187.72 259.25h.01M218.29 246.85h.01M206.28 258.2h.01M208.52 245.93h.01M217.97 245.84h.01M197.99 258.57h.01M201.55 258.86h.01M219.76 243.54h.01M204.89 253.86h.01M206.88 254.94h.01M204.28 245.97h.01M212.11 247.31h.01M201.7 243.43h.01M201.65 249.37h.01M201.81 245.59h.01M208.6 251.86h.01M215.83 249.84h.01M205.7 249.5h.01M216.31 243.72h.01M199.84 253.53h.01M208.21 248.15h.01M216.56 244.98h.01M214.21 247.55h.01M206.54 248.17h.01M198.41 251.58h.01M200.06 251.92h.01M206.48 254.68h.01M206.5 248.41h.01M207.41 257.42h.01M196.19 255.76h.01M204.25 258.97h.01M205.98 244.77h.01M209.05 245.41h.01M198.19 258.2h.01M204.5 254.31h.01M195.06 256.9h.01M206.85 260.77h.01M206.63 251.95h.01M202.18 250.34h.01M205.81 259.45h.01M200.2 258.87h.01M195.25 259.69h.01M201.57 245.27h.01M204.74 253.51h.01M213.48 243.81h.01M196.55 258.77h.01M210.32 252.83h.01M194.19 259.35h.01M211.59 251.85h.01M196.17 257.83h.01M207.99 247.94h.01M204.02 248.68h.01M204.41 245.38h.01M203.63 257.37h.01M207.57 250.41h.01M204.45 251.79h.01M201.77 246.92h.01M213.34 252.42h.01M198.32 261.62h.01M202.56 245.49h.01M199.77 251.09h.01M209.06 249.99h.01M210.99 245.78h.01M205.51 246.8h.01M212.24 244.33h.01M199.01 253.99h.01M201.83 250.64h.01M200.05 255.64h.01M205.4 250.04h.01M204.42 247.96h.01M204.43 251.95h.01M194.42 249.63h.01M208.41 256.68h.01M198.94 246.41h.01M209.05 248.51h.01M204.71 253.37h.01M213.58 248.21h.01M207.57 251.18h.01M197.18 262.77h.01M201.95 247.65h.01M196.73 256.28h.01M211.79 247.96h.01M213.15 243.85h.01M204.05 249.03h.01M211.2 254.12h.01M195.16 253.98h.01M190.82 257.89h.01M201.57 252.2h.01M203.53 251.29h.01M196.75 257.43h.01M205.65 250h.01M208.32 251.27h.01M209.79 249.15h.01M216.08 246.96h.01M213.61 253.01h.01M201.42 249.4h.01M209.97 256.71h.01M208.2 247.17h.01M200.73 257.48h.01M214 246.63h.01M210.37 246.58h.01M199.73 244.79h.01M205.37 259.37h.01M208.89 245.02h.01M213.7 251.38h.01M216.67 244.53h.01M215.86 254.27h.01M210.68 256.4h.01M211.46 250.98h.01M200.6 255.46h.01M211.66 251.13h.01M193.23 252.13h.01M208.54 250.09h.01M209.3 249.49h.01M195.04 255.27h.01M217.82 244.7h.01M195.28 250.12h.01M213.99 250.37h.01M205.31 257.74h.01M204.55 245.17h.01M201.93 254.08h.01M224.26 247.2h.01M212.83 248.65h.01" stroke="#8866bd" stroke-width="1" stroke-linecap="round" opacity="0.35"/>
<line x1="177.5" y1="175.8" x2="177.5" y2="272.2" stroke="#3a3a3a" stroke-width="1"/>
<line x1="148.3" y1="252.5" x2="177.5" y2="252.5" stroke="#3a3a3a" stroke-width="1"/>
<line x1="177.5" y1="242.8" x2="245.5" y2="242.8" stroke="#3a3a3a" stroke-width="1"/>
<rect x="291" y="175.8" width="96.2" height="96.4" fill="none" stroke="#555" stroke-width="1"/>
<text x="386.8" y="171.4" font-size="13.2" text-anchor="end" fill="#000" stroke="#000" stroke-width="0.29">Total</text>
<text x="297.5" y="188.4" font-size="8.6" font-weight="bold" text-anchor="start" fill="#000" stroke="#000" stroke-width="0.19">Q1</text>
<text x="381.7" y="188.4" font-size="8.6" font-weight="bold" text-anchor="end" fill="#000" stroke="#000" stroke-width="0.19">Q2</text>
<text x="296.6" y="267.4" font-size="8.8" font-weight="bold" text-anchor="start" fill="#000" stroke="#000" stroke-width="0.19">Q3</text>
<text x="381.7" y="267.4" font-size="8.8" font-weight="bold" text-anchor="end" fill="#000" stroke="#000" stroke-width="0.19">Q4</text>
<path d="M288.8 184.3h2.2M288.8 206.5h2.2M288.8 230.8h2.2M288.8 257.5h2.2M289.7 223.48h1.3M289.7 219.21h1.3M289.7 216.17h1.3M289.7 213.82h1.3M289.7 211.89h1.3M289.7 210.26h1.3M289.7 208.85h1.3M289.7 207.61h1.3M289.7 199.82h1.3M289.7 195.91h1.3M289.7 193.13h1.3M289.7 190.98h1.3M289.7 189.23h1.3M289.7 187.74h1.3M289.7 186.45h1.3M289.7 185.32h1.3M289.7 249.46h1.3M289.7 241.42h1.3M289.7 236.72h1.3M289.7 233.39h1.3M289.7 230.8h1.3" stroke="#111" stroke-width="0.8"/>
<text x="286.5" y="185.9" font-size="4.6" fill="#4a4a4a" text-anchor="end">10<tspan dy="-2.6" font-size="4.05">5</tspan></text>
<text x="286.5" y="208.1" font-size="4.6" fill="#4a4a4a" text-anchor="end">10<tspan dy="-2.6" font-size="4.05">4</tspan></text>
<text x="286.5" y="232.4" font-size="4.6" fill="#4a4a4a" text-anchor="end">10<tspan dy="-2.6" font-size="4.05">3</tspan></text>
<text x="284.4" y="259.6" font-size="4.6" fill="#4a4a4a" text-anchor="end">0</text>
<path d="M303.8 272.2v2.2M334.3 272.2v2.2M358 272.2v2.2M379.3 272.2v2.2M341.43 272.2v1.3M345.61 272.2v1.3M348.57 272.2v1.3M350.87 272.2v1.3M352.74 272.2v1.3M354.33 272.2v1.3M355.7 272.2v1.3M356.92 272.2v1.3M364.41 272.2v1.3M368.16 272.2v1.3M370.82 272.2v1.3M372.89 272.2v1.3M374.57 272.2v1.3M376 272.2v1.3M377.24 272.2v1.3M378.33 272.2v1.3M312.98 272.2v1.3M318.35 272.2v1.3M322.16 272.2v1.3M325.12 272.2v1.3M327.53 272.2v1.3M329.58 272.2v1.3M331.34 272.2v1.3M332.9 272.2v1.3" stroke="#111" stroke-width="0.8"/>
<text x="303.8" y="282.8" font-size="4.6" fill="#4a4a4a" text-anchor="middle">0</text>
<text x="334.3" y="282.8" font-size="4.6" fill="#4a4a4a" text-anchor="middle">10<tspan dy="-2.6" font-size="4.05">3</tspan></text>
<text x="358" y="282.8" font-size="4.6" fill="#4a4a4a" text-anchor="middle">10<tspan dy="-2.6" font-size="4.05">4</tspan></text>
<text x="379.3" y="282.8" font-size="4.6" fill="#4a4a4a" text-anchor="middle">10<tspan dy="-2.6" font-size="4.05">5</tspan></text>
<text x="277" y="220.6" font-size="11.5" text-anchor="middle" fill="#000" stroke="#000" stroke-width="0.25" transform="rotate(-90 277 220.6)">CD31 PECy7</text>
<text x="344" y="296.4" font-size="11.8" text-anchor="middle" fill="#000" stroke="#000" stroke-width="0.26">CD9 APC</text>
<path d="M289 249.6h2M289 251.4h2M289 253.2h2M289 255.6h2M289 257.5h2M289 259.4h2M289 261.2h2M300.8 272.2v2M302.6 272.2v2M304.4 272.2v2M306 272.2v2M307.8 272.2v2M309.6 272.2v2M311.3 272.2v2" stroke="#111" stroke-width="0.9"/>
<path d="M311.53 232.34h.01M304.23 226h.01M305.83 237.62h.01M308.57 242.88h.01M306.2 239.7h.01M302.08 235.87h.01M305.35 238.13h.01M312.41 242.3h.01M306.13 224.27h.01M308.08 238.89h.01M305.56 239.04h.01M306.13 230.7h.01M307.4 237.79h.01M307.83 239.18h.01M312.72 231.74h.01M306 233.04h.01M304.65 231.22h.01M302.83 233.6h.01M302 239.02h.01M308.36 237.92h.01M310.44 238.71h.01M308.91 236.01h.01M305.68 232.28h.01M303.27 236.96h.01M306.58 240.38h.01M309.66 238.17h.01M304.43 237.01h.01M305.45 230.08h.01M306.36 237.82h.01M305.73 241.1h.01M304.76 238.57h.01M301.71 240.99h.01M301.92 239.39h.01M312.97 234.88h.01M311.31 238.38h.01M307.62 236.93h.01M311.77 230.4h.01M305.03 230.53h.01M312.99 235.41h.01M303.52 242.47h.01M305.35 228.31h.01M304.85 239.22h.01M308.7 235.28h.01M305.37 239.12h.01M307.17 239.8h.01M306.98 238.43h.01M303.28 221.54h.01M304.09 229.06h.01M304.29 237.1h.01M307.8 235.69h.01M307.89 236.59h.01M305.18 235.54h.01M307.85 240.46h.01M304.82 236.29h.01M302.79 240.01h.01M304.55 241.56h.01M307.1 228.04h.01M306.77 234.16h.01M309.48 239.86h.01M301.79 242.82h.01M305.9 236.76h.01M307.62 234.26h.01M303.82 232.43h.01M307.21 228.44h.01M305.37 234.93h.01M309.66 224.87h.01M302.63 230.45h.01M309.32 232.56h.01M305.36 229.32h.01M304.04 240.29h.01M304.45 241.18h.01M304.15 230.27h.01M301.29 239.97h.01M309.99 228.17h.01M308.86 233.75h.01M310.4 240.37h.01M303.77 225.85h.01M304.77 235h.01M306.05 239.37h.01M307.37 234.63h.01M305.07 239.68h.01M306.94 236.54h.01M311.58 234.51h.01M303.38 239.96h.01M307.26 232h.01M309.54 240.78h.01M304.34 242.22h.01M306.54 235.36h.01M311.1 230.01h.01M309.45 237.16h.01M307.34 233.91h.01M305.88 233.8h.01M309.22 242.01h.01M307.26 226.92h.01M307.5 226.94h.01M305.09 230.13h.01M307.77 225.34h.01M310.51 233h.01M306.66 239.09h.01M310.19 232.75h.01M305.7 235.49h.01M309.9 242.84h.01M303.56 237.97h.01M308.39 240.22h.01M308.15 242.68h.01M303.89 231.7h.01M305.3 232.23h.01M302.38 241.03h.01M303.95 237.24h.01M308.73 238h.01M310.41 242.96h.01M305.74 238.07h.01M307.14 238.28h.01M305.08 232.64h.01M305.76 236.13h.01M307.19 241.88h.01M310.66 229.64h.01M304.83 228.24h.01M306.88 233.07h.01M303.65 236.02h.01M304.88 234.19h.01M306.81 234.84h.01M306.73 230.36h.01M302.67 230.39h.01M300.09 236.42h.01M309.33 239.95h.01M304.91 240.43h.01M310.68 241.45h.01M308.1 237.01h.01M305.78 240.86h.01M306.58 239.34h.01M303.94 226.96h.01M308.32 234.17h.01M309.6 242.47h.01M305.07 234.24h.01M304.95 231.21h.01M307.24 236.27h.01M301.96 239.21h.01M301.16 234.3h.01M312.42 228.62h.01M310.52 240.94h.01M301.79 224.39h.01M307.17 237.87h.01M307.71 228.37h.01M306.76 242.31h.01M307.37 235.54h.01M303.97 242.09h.01M306.09 233.9h.01M303.35 239.74h.01M305.56 242.28h.01M307.58 227.99h.01M304.35 235.79h.01M305.33 239.49h.01M307.19 241.73h.01M307.64 241.05h.01M302.51 237.76h.01M304.12 241.43h.01M305.32 232.31h.01M310.26 233.99h.01M305.27 235.02h.01M304.49 240.87h.01M308.26 235.99h.01M309.6 242.81h.01M307.91 240.56h.01M307.12 234.99h.01M306.17 229.15h.01M305.3 242.36h.01M305.11 230.27h.01M306.77 226.88h.01M308.22 241.8h.01M306.37 232.96h.01M304.31 237.25h.01M303.39 234.34h.01M301.19 238.23h.01M303.17 236.85h.01M302.93 232.75h.01M303.51 229.45h.01M308.96 235.42h.01M309.31 239.35h.01M306.27 232.15h.01M308.1 234.34h.01M308.19 241.09h.01M306.84 237.4h.01M303.62 233.09h.01M305.24 242.58h.01M303.21 219.45h.01M305.79 237.01h.01M306.78 235.77h.01M310.66 242.8h.01M310.47 237.59h.01M308.41 239.74h.01M314.27 236.14h.01M310.79 238.57h.01M307.67 240h.01M309.45 238.45h.01M307.04 234.05h.01M303.75 234.16h.01M309.14 240h.01M306.89 241.29h.01M308.77 238.92h.01M305.89 231.6h.01M301.54 234.38h.01M307.91 232.22h.01M309.77 242.47h.01M302.92 239.85h.01M305.66 241.6h.01M305.81 240.58h.01M301.75 241.03h.01M311.42 233.37h.01M309.33 235.24h.01M304.78 233.07h.01M301.43 237.17h.01M307.52 231.03h.01M312.06 237.26h.01M308.82 231.72h.01M309.73 234.73h.01M303.87 233.22h.01M307.15 238.44h.01M308.1 225.28h.01M300.61 235.48h.01M301.33 235.12h.01M307.84 239.08h.01M306.89 240.98h.01M305.63 219.33h.01M312.12 238.41h.01M307.52 238.33h.01M302.83 242.57h.01M304.25 240.23h.01M307.41 241.16h.01M306.02 232.71h.01M306.42 235.37h.01M304.2 228.45h.01M307.97 232.2h.01M305.73 232.51h.01M308.58 234.77h.01M306.1 241.81h.01M306.44 229.68h.01M304.9 240.63h.01M306.88 237.3h.01M313.94 235.93h.01M304.57 240.8h.01M306.75 241.27h.01M305.15 230.98h.01M305.11 236.61h.01M305.04 233.51h.01M305.27 232.56h.01M303.88 240.55h.01M303.19 237.65h.01M311.51 239.62h.01M302.73 237.19h.01M303.46 233.78h.01M307 241.2h.01M310.46 224.47h.01M301.72 242.63h.01M302.13 241.5h.01M306.81 225.2h.01M307.4 222.5h.01M302.5 237.76h.01M301.42 239.22h.01M308.55 230.57h.01M306.33 236.87h.01M306.15 235.36h.01M306.36 229.09h.01M308.17 233.54h.01M306.12 223.65h.01M307.11 230.46h.01M303.9 235.14h.01M304.77 238.21h.01M307.76 234.42h.01M305.78 230.09h.01M304.35 232.42h.01M308.29 231.14h.01M307.98 236.55h.01M306.43 233.02h.01M304.32 230.1h.01M308.96 239.08h.01M304.14 226.78h.01M302.13 234.21h.01M304.26 240.86h.01M303.83 236.48h.01M302.9 239.61h.01M308.81 239.19h.01M310.58 236.68h.01M308.53 238.71h.01M305.1 230.63h.01M309.47 238.78h.01M304.72 235.57h.01M305.46 239.94h.01M303.15 240.47h.01M309.26 231.56h.01M305.13 236.89h.01M305.56 241.79h.01M306.53 236.65h.01M306.99 240.69h.01M308.79 242.71h.01M306.61 236.38h.01M307.55 230.1h.01M302.23 239.75h.01" stroke="#e49ac4" stroke-width="1" stroke-linecap="round" opacity="0.55"/>
<clipPath id="c5"><rect x="292" y="243.3" width="28" height="28.7"/></clipPath>
<g clip-path="url(#c5)">
<ellipse cx="307.3" cy="250.8" rx="6.8" ry="7.4" fill="#8a8a8a" opacity="1" transform="rotate(0 307.3 250.8)" filter="url(#b0_5)"/>
</g>
<path d="M375.96 197.49h.01M339.68 240.83h.01M355.76 237.06h.01M349.34 233.87h.01M378.43 197.03h.01M334.97 239.58h.01M380.16 201.07h.01M364.21 223.82h.01M347.28 233.27h.01M349.73 234.98h.01M373.71 211.08h.01M349.32 233.28h.01M342.13 231.6h.01M368.84 214.52h.01M372.69 214.22h.01M337.87 234.65h.01M358.58 217.36h.01M338.47 239.17h.01M362.63 201.29h.01M336.4 239.68h.01M378.08 211.51h.01M363.5 229.3h.01M344.11 231.07h.01M345.82 240.31h.01M349.98 242.05h.01M377.14 209.14h.01M357.81 227.6h.01M340.92 239.09h.01M358.07 232.59h.01M343.33 239.42h.01M378.1 209.88h.01M351.31 228.42h.01M341.66 239.37h.01M364.56 223.87h.01M354.41 220.8h.01M376.7 204.53h.01M346.33 230.2h.01M367.9 227.95h.01M380.89 210.15h.01M351.99 230.43h.01M359.53 233.67h.01M347.73 237.85h.01M354.84 240.75h.01M367.89 203.35h.01M371.93 222.15h.01M345.59 234.27h.01M372.28 217.6h.01M344.87 235.05h.01M342.41 241.46h.01M342.52 228.74h.01M344.87 229.88h.01M340.64 241.32h.01M362.83 220.9h.01M336.44 233.54h.01M355.24 219.29h.01M353.33 228.79h.01M358.45 224.55h.01M376.09 207.72h.01M359.22 217.05h.01M350.43 218.75h.01M362.37 222.43h.01M352.24 230.23h.01M385.2 203.91h.01M367.4 211.39h.01M336.96 238.85h.01M349.96 235.55h.01M377.28 203.9h.01M334.98 237.92h.01M382.37 197.31h.01M363.26 215.17h.01M355.24 228.44h.01M345.19 239.16h.01M374.77 208.75h.01M355.41 235.68h.01M352.85 231.83h.01M361.49 228.77h.01M351.15 230.2h.01M366.99 221.51h.01M358.26 212.56h.01M376.49 204.21h.01M351.03 231h.01M331.55 235.96h.01M375.3 199.67h.01M335.08 240.5h.01M338.19 239.8h.01M363.15 224.35h.01M367.29 204.68h.01M379.8 206.38h.01M359.11 225.24h.01M347.43 239.89h.01M363.42 218.77h.01M358.68 223.14h.01M367.42 219.51h.01M384.21 211.11h.01M339.32 238.44h.01M363.08 234.84h.01M349.96 232.67h.01M356.62 224.03h.01M339.28 242.22h.01M379.26 209.71h.01M342.61 240.75h.01M360.31 225.29h.01M381.11 201.99h.01M379.31 202.13h.01M369.13 207.51h.01M359.58 228.85h.01M355.07 228.28h.01M369.54 219.28h.01M360.75 221.06h.01M356.97 228.57h.01M373.42 216.37h.01M347.63 229.11h.01M348.67 237.83h.01M360.72 215.46h.01M351.01 235.24h.01M361.34 235.33h.01M341.46 237.39h.01M343.15 241.54h.01M369.35 214.29h.01M374.06 198.59h.01M349.61 225.97h.01M367.61 214.27h.01M333.43 238.23h.01M371.73 195.61h.01M340.1 237.32h.01M335.33 235.92h.01M349.37 231.88h.01M367.55 217.99h.01M382.27 202.59h.01M360.4 228.16h.01M361.98 205.38h.01M372.54 213.13h.01M368.46 197.21h.01M357.76 220.9h.01M369.23 208.7h.01M345.83 233.51h.01M356.12 227.45h.01M352.63 227.91h.01M355.42 241.32h.01M353.96 235.43h.01M365.18 223.44h.01M374.25 214.72h.01M362.66 219.81h.01M342.24 233.49h.01M370.6 210.01h.01M349.06 234.89h.01M366.54 210.98h.01M349.44 235.37h.01M380.68 197.3h.01M352.23 238.21h.01M384.9 202.01h.01M347.27 239.61h.01M352.25 238.79h.01M337.4 239.76h.01M360.45 208.24h.01M338.15 242.7h.01M361.23 214.24h.01M362.5 240.69h.01M371.91 207.68h.01M362.83 228.65h.01M379.82 205.58h.01M361.48 235.86h.01M375.6 208.51h.01M371.07 205.53h.01M367.59 206.19h.01M352.08 221.93h.01M340.89 236.53h.01M372.09 212h.01M356.55 221.28h.01M347.7 234.28h.01M349.19 229.5h.01M365.29 211.85h.01M342.03 241.14h.01M375.65 193.95h.01M345.26 241.6h.01M386.95 206.58h.01M339.21 242.03h.01M361.27 220.99h.01M353.84 229.8h.01M358.46 238.09h.01M357.07 227.95h.01M359.16 226.96h.01M371.11 216.7h.01M369.84 215.42h.01M375.91 218.88h.01M369.02 204.82h.01M351.68 229.29h.01M370.5 207.97h.01M373.58 205.66h.01M349.84 236.64h.01M358.78 238.53h.01M361.9 227.71h.01M384.53 208.57h.01M336.17 242.65h.01M355.61 224.13h.01M351.79 237.2h.01M341.49 241.47h.01M364.15 227.42h.01M362.18 218.72h.01M340.86 242.96h.01M356.5 236.71h.01M374.45 195.17h.01M370.05 209.35h.01M360 222.94h.01M351.99 239.1h.01M378.72 204.19h.01M343.8 229.72h.01M355.13 224.39h.01M373.68 207.94h.01M357.35 234.98h.01M366.72 219.51h.01M372.87 210.89h.01M368.58 214.52h.01M375.35 218.15h.01M368.57 217.26h.01M342.76 229.8h.01M340.41 241.34h.01M340.79 239.42h.01M360.86 224.19h.01M345.81 241.26h.01M377.64 195.48h.01M348.36 240.82h.01M361.84 218.19h.01M336.22 241.86h.01M351.14 235.89h.01M364.34 209.64h.01M372.94 203.13h.01M373.62 217.17h.01M375.82 199.99h.01M372.09 216.38h.01M337.96 239.38h.01M369.37 226.45h.01M378 198.04h.01M357.14 211.46h.01M353.88 224.82h.01M347.63 241h.01M349.53 222.33h.01M369.94 221.84h.01M331.51 234.13h.01M351.15 237.84h.01M329.39 232.75h.01M360.72 214.21h.01M361.48 222.16h.01M356.34 221.67h.01M362.99 225.23h.01M345.5 235.75h.01M344.81 242.91h.01M342.94 242.99h.01M360.52 231.76h.01M350.06 226.21h.01M353.54 239.27h.01M349.94 230.05h.01M363.49 215.06h.01M345.77 238.5h.01M352.42 235.08h.01M348.88 241.13h.01M365.18 225.45h.01M337.4 242.69h.01M374.43 203.17h.01M380.24 205.97h.01M353.92 233.43h.01M345.53 238.41h.01M351.28 241.07h.01M344.22 242.49h.01M348.42 225.06h.01M369.81 214.88h.01M344.43 241.97h.01M371.43 215.13h.01M359.82 215.51h.01M355.49 223.13h.01M372.23 207.64h.01M356.26 227.76h.01M364.85 212.27h.01M380.81 207.43h.01M373.64 212.14h.01M361.94 234.48h.01M345.2 242.43h.01M362.05 233.49h.01M366.77 223.07h.01M370.26 226.57h.01M348.75 234.29h.01M366.08 217.63h.01M379.2 200.99h.01M377.86 207.03h.01M351.98 237.34h.01M350.03 227.07h.01M376.53 203.12h.01M342.91 238.07h.01M359.18 225.46h.01M340.57 241.37h.01M355.35 229.49h.01M361.44 221.51h.01M379.66 201.41h.01M366.2 225.85h.01M359.24 228.84h.01M362.44 233.09h.01M343.9 239.51h.01M349.11 236.51h.01M365.96 231.88h.01M342.06 242.03h.01M347.06 230.2h.01M349.65 239.56h.01M353.15 225.1h.01M345.34 232.28h.01M333.49 239.16h.01M372.5 214.34h.01M371.29 217.43h.01M345.81 237.71h.01M381.54 205.75h.01M344.55 240.09h.01M340.01 227.61h.01M363.42 223.83h.01M380.11 202.64h.01M376.35 203.79h.01M355.44 239.55h.01M359.37 214.02h.01M330.56 234.79h.01M360.67 233.72h.01M364.2 224.24h.01M338.42 235.47h.01M358.49 222.85h.01M347.78 241.44h.01M362.67 210.37h.01M360.31 239.97h.01M383.62 207.18h.01M361.2 227.92h.01M381.45 205.3h.01M375.68 199.22h.01M367.09 216.73h.01M367.23 210.23h.01M362.35 214.87h.01M347.28 224.38h.01M375.08 223.32h.01M367.45 215.96h.01M367.94 204.5h.01M356.03 239.13h.01M361.18 218.47h.01M349.99 236.11h.01M350.41 238.13h.01M353.01 222.12h.01M376.52 199.77h.01M359.57 228.11h.01M341.2 241.18h.01M353.88 222.73h.01M346.52 235.51h.01M353.41 239.42h.01M361.11 219.93h.01M367.49 208.02h.01M359.78 209.4h.01M349.61 239.5h.01M344.33 236.52h.01M345.06 227.31h.01M341.55 239.79h.01M364.69 220.19h.01M374.67 207.84h.01M335.99 234.01h.01M376.57 198.12h.01M356.54 218.41h.01M371.81 200.91h.01M347.63 233.04h.01M368.38 216.78h.01M365.99 222.34h.01M371.14 216.81h.01M362.24 240.99h.01M343.3 239.84h.01M349.78 236.88h.01M336.79 237.26h.01M347.16 235.71h.01M373.05 213.82h.01M340.84 238h.01M359.63 229.6h.01M376.61 215.61h.01M335.22 240.86h.01M339.78 227.69h.01M345.34 236.95h.01M360.89 214.12h.01M375.95 207.57h.01M357.33 233.05h.01M347.8 241.34h.01M348.43 234.72h.01M339.93 234.3h.01M341.09 227.24h.01M339.15 229.87h.01M350.64 229.73h.01M345.06 242.76h.01M346.72 231.14h.01M339.44 240.29h.01M346.01 230.93h.01M356.63 212.95h.01M336.61 241.71h.01M383.59 200.35h.01M334.02 240.28h.01M369.95 218.27h.01M343.07 238.29h.01M369.12 217.29h.01M355.74 229.36h.01M345.02 231.07h.01M368.78 207.18h.01M358.35 217.72h.01M342.25 238.58h.01M357.57 225.87h.01M367.78 212.45h.01M368.33 223.42h.01M332.74 238.26h.01M350.64 234.66h.01M350.58 239.12h.01M358.82 214.07h.01M348 230.61h.01M369.31 211.65h.01M331.28 235.2h.01M354.99 222.05h.01M349.12 238.61h.01M354.94 221.3h.01M377.61 213.68h.01M346.53 238.26h.01M364.78 223.3h.01M361.42 213.09h.01M349.98 232.82h.01M352.33 229.52h.01M342.75 241.66h.01M349.58 225.99h.01M353.34 229.9h.01M373.89 206.14h.01M351.84 238.58h.01M333.07 236.22h.01M344.24 229.52h.01M365.54 211.69h.01M336.26 241.96h.01M384.11 198.73h.01M363.13 235.62h.01M364.25 220.71h.01M353.15 235.24h.01M338.7 241.55h.01M361.63 225.5h.01M352.77 233.76h.01M344.44 242.04h.01M378.09 208.76h.01M354.93 240.17h.01M357.12 217.93h.01M332.38 230.85h.01M359.47 228.71h.01M349.88 241.25h.01M338.1 239.28h.01M341.34 238h.01M356.89 225.02h.01M347.73 224.19h.01M369.46 209.34h.01M348.22 232.88h.01M380.4 199.63h.01M347.73 239.96h.01M338.59 239.32h.01M368.19 214.47h.01M340.6 242.77h.01M358.06 214.38h.01M352.16 232.32h.01M367.26 206.05h.01M356.03 232.32h.01M356.33 216.94h.01M344.01 240.91h.01M370.99 193.25h.01M341.66 239.72h.01M366.63 204.27h.01M368.27 226.4h.01M350.42 233.51h.01M346.8 237.77h.01M332.73 237.82h.01M364.76 212.89h.01M341.81 242.01h.01M367.25 206.4h.01M377.17 212.47h.01M340.92 242.12h.01M344.7 237.5h.01M361.5 219.58h.01M364.43 213.36h.01M369.36 210.19h.01M370.24 213.88h.01M361.46 227.89h.01M376.82 206.63h.01M380.32 197.07h.01M377.75 203.53h.01M375.53 211.95h.01M357.44 224h.01M333.9 237.81h.01M380.45 203.12h.01M363.52 217.11h.01M350.31 239.3h.01M345.93 237.34h.01M384.38 208.6h.01M337.12 238.47h.01M365.34 210.14h.01M351.54 236.63h.01M352.85 217.06h.01M371.84 212.07h.01M336.23 233.21h.01M353.06 241.3h.01M342.27 241.32h.01M368.77 200.07h.01M370.28 218.58h.01M352.13 225.2h.01M341.65 241.12h.01M353.25 224.89h.01M367.19 200.43h.01M376.96 202.62h.01M378.47 205.04h.01M343.58 235.85h.01M358.57 218.14h.01M354.67 234.57h.01M353.33 228.75h.01M359.54 219.58h.01M341.43 237.6h.01M345.1 234.39h.01M341.09 240.1h.01M365.79 203.84h.01M344.65 236.23h.01M339.53 240.27h.01M356.6 225.29h.01M383.06 204.99h.01M358.46 230.9h.01M345.1 240.54h.01M374.94 204.71h.01M357.25 223.57h.01M358.84 224.61h.01M347.45 230.59h.01M366.32 214.1h.01M359.51 218.4h.01M352.37 230.12h.01M345.06 240.18h.01M374.97 217.9h.01M377.05 206.53h.01M337.64 242.89h.01M340.06 241.29h.01M374.94 212.39h.01M360.67 229.93h.01M375.21 196.86h.01M378.34 203.28h.01M349.41 233.74h.01M349.4 237.5h.01M357.31 230.31h.01M350.61 220.76h.01M369.41 208.05h.01M375.07 210.81h.01M366.27 203.62h.01M336.09 238.53h.01M350 238.04h.01M341.53 235.79h.01M369.73 215.15h.01M361.34 224.64h.01M343.7 237.04h.01M352.44 229.71h.01M351.6 241.62h.01M368.89 211.18h.01M342.53 239.12h.01M342.75 240.21h.01M365.94 213.1h.01M364.53 217.71h.01M362.7 221.1h.01M379.44 203.77h.01M381.04 201.25h.01M347.5 229.71h.01M351.05 232.67h.01M343.72 240.3h.01M337.9 242.51h.01M342.57 241.16h.01M378.8 201.39h.01M346.89 230.47h.01M341.36 241.04h.01M361.13 222.76h.01M372.83 212.93h.01M368.45 220.32h.01M340.72 242.45h.01M355.49 224.65h.01M350.95 232.98h.01M356.12 239.76h.01M338.72 239.8h.01M374.27 217.43h.01M364.17 215.21h.01M363.85 212.29h.01M365.77 224.09h.01M360.03 217.35h.01M363.02 236.83h.01M359.98 225.75h.01M363.49 214.36h.01M342.7 239.15h.01M374.12 204.57h.01M350.1 232.82h.01M346.13 242.45h.01M347.22 224.93h.01M377.01 200.03h.01M360.22 216.31h.01M337.96 240.97h.01M342.97 238.86h.01M357.11 218.36h.01M379.76 205.03h.01M358.71 229.27h.01M351.39 229.83h.01M333.03 236.45h.01M341.8 240.87h.01M369.46 215.64h.01M344.46 240.24h.01M355.85 229.74h.01M359.5 223.01h.01M351.96 222.1h.01M357.73 208.6h.01M360.02 227.73h.01M343.99 237.06h.01M358.45 229.59h.01M359.66 219.06h.01M384.7 206.83h.01M352.36 220.48h.01M377.51 198.56h.01M367.7 204.06h.01M376.08 211.88h.01M339.62 240.77h.01M371.3 202.1h.01M379.85 202.41h.01M368.57 220.97h.01M360.03 227.18h.01M357.83 241.74h.01M377.19 208.93h.01M353.41 219.92h.01M336.75 242.24h.01M363.17 217.69h.01M350.97 241.17h.01M335.28 240.06h.01M350.57 237.3h.01M374.58 210.57h.01M358.5 213.75h.01M350.98 238.49h.01M366.8 208.7h.01M357.89 228.91h.01M347.35 235.62h.01M356.62 218.64h.01M343.66 242.84h.01M342.62 224.27h.01M342.84 239.53h.01M355.89 224.17h.01M345.72 240.97h.01M357.23 222.16h.01M369.03 206.49h.01M363.8 221.29h.01M341.88 236.16h.01M355.81 240.94h.01M345.36 222.71h.01M375.12 204.93h.01M331.49 232.59h.01M371.6 217.83h.01M338.14 238.73h.01M377.93 215.29h.01M354.01 240.03h.01M346.43 237.04h.01M365.18 226.32h.01M344.91 239.14h.01M359.43 203.79h.01M378.54 195.95h.01M358.91 212.51h.01M367.51 215.46h.01M349.48 235.68h.01M352.52 233.29h.01M367.42 209.95h.01M371.24 225.55h.01M354.42 233.77h.01M345.64 237.14h.01M333.77 238.81h.01M335.69 240.19h.01M347.12 234.52h.01M377.52 200.11h.01M342.07 242.86h.01M350.49 229.33h.01M359.74 222.78h.01M373.24 196.71h.01M378.68 195.09h.01M355.85 220.01h.01M359.69 231.61h.01M363.39 222.62h.01M348.4 235.12h.01M363.63 211.85h.01M369.31 213.63h.01M346.59 242.41h.01M356.54 232.25h.01M341.68 233.95h.01M339.92 242.21h.01M348.87 234.78h.01M357 225.84h.01M351.19 228.54h.01M347.74 237.98h.01M351.51 222.85h.01M355.53 235.38h.01M336.9 239.01h.01" stroke="#3a74bc" stroke-width="1" stroke-linecap="round" opacity="0.55"/>
<clipPath id="c6"><rect x="321" y="243" width="66" height="29"/></clipPath>
<g clip-path="url(#c6)">
<ellipse cx="345" cy="251.5" rx="10.5" ry="9" fill="#c4b0e2" opacity="0.7" transform="rotate(-20 345 251.5)" filter="url(#b1_6)"/>
</g>
<path d="M355.18 253.25h.01M348.89 254.03h.01M356.75 247.13h.01M341.55 253.53h.01M345.66 253.14h.01M342.68 251.2h.01M347.03 257.68h.01M344.35 255.95h.01M343.73 252.37h.01M329.43 249.82h.01M345.47 259.35h.01M348.74 248.72h.01M330.57 252.49h.01M344.84 259.17h.01M349.56 253.41h.01M341.72 245.23h.01M347.33 249.65h.01M353.22 248.75h.01M346.35 265.4h.01M345.95 267.41h.01M351.59 249.92h.01M347.77 255.62h.01M342.92 257.84h.01M343.3 252.54h.01M344.65 245.12h.01M345.46 257.86h.01M343.05 252.34h.01M344.21 255.15h.01M336.43 259.28h.01M355.02 244.76h.01M355.75 257.25h.01M355.02 249.28h.01M344.5 253.87h.01M345.12 250.29h.01M349.94 254.38h.01M352.03 255.16h.01M332.15 254.37h.01M348.28 254.34h.01M337.77 252.95h.01M342.52 247.16h.01M340.14 252.63h.01M357.14 251.25h.01M349.43 253.76h.01M346.6 257.49h.01M353.01 246.19h.01M344.05 251.35h.01M340.4 254.6h.01M344.82 255.79h.01M342.43 252.89h.01M343.76 248.14h.01M347.95 243.55h.01M346.18 258.16h.01M346.35 257.54h.01M350.53 247.14h.01M349.33 258.56h.01M351.1 250.01h.01M346.64 254.29h.01M338.59 261.36h.01M336.91 253.05h.01M332.91 252.99h.01M348.23 252.95h.01M342.66 255.73h.01M339.98 258.82h.01M348.37 254.44h.01M344.33 253.35h.01M349 257h.01M337.83 249.93h.01M338.43 256.96h.01M356.11 251.16h.01M338.61 254.28h.01M347.72 260.44h.01M354.47 251.38h.01M335.28 263.02h.01M351.07 254.97h.01M345.18 251.6h.01M347.27 261.67h.01M348.61 256.96h.01M337.32 255.47h.01M330.33 257.31h.01M355.63 243.4h.01M342.91 252.57h.01M350.44 249.39h.01M352.59 250.89h.01M346.21 249.98h.01M348.94 254.08h.01M349.53 250.51h.01M347.4 249.11h.01M351.77 245.51h.01M341.03 247.49h.01M341.86 252.43h.01M347.09 256.51h.01M345.8 246.56h.01M357.45 247.23h.01M355.43 264.12h.01M344.48 249.75h.01M358.43 249.1h.01M346.5 249.93h.01M348.79 255.62h.01M350.62 257.94h.01M342.62 252.65h.01M339.89 260.52h.01M344.12 247.36h.01M343.37 254.26h.01M337.33 248.88h.01M346.13 253.15h.01M342.74 250.28h.01M341.59 255.07h.01M331.63 251.72h.01M344.33 254.03h.01M356.68 248.94h.01M349.89 247.9h.01M350.76 246.39h.01M342.96 247.27h.01M351.27 248.3h.01M341.33 256h.01M341.86 253.07h.01M348.68 252.07h.01M337.86 261.71h.01M344.89 251h.01M347.49 253.21h.01M357.4 252.35h.01M341.35 256.59h.01M348.43 253.35h.01M340.95 254.5h.01M344.69 262.62h.01M327.38 258.65h.01M338.31 253.07h.01M353.52 252.55h.01M351.13 258.78h.01M348.42 258.64h.01M361.15 246.92h.01M349.95 255.09h.01M337.84 257.8h.01M343.87 253.42h.01M345.77 255.7h.01M356.53 251.61h.01M339.45 255.37h.01M350.66 259.41h.01M350.8 248.58h.01M342.1 260.84h.01M349.1 261.9h.01M335.48 266.94h.01M346.17 253.61h.01M330.44 256.99h.01M339.93 246.29h.01M356.17 248.27h.01M351.76 262.69h.01M342.82 245.39h.01M343.51 245.25h.01M360.48 251.29h.01M349.69 254.09h.01M342.14 253.38h.01M342.82 255.17h.01M335.79 248.22h.01M345.52 257.37h.01M338.35 248.26h.01M353.36 255.39h.01M349.59 252h.01M343.16 249.73h.01M338.89 246.61h.01M325.7 257.9h.01M341.07 253.57h.01M346.84 251.29h.01M348.39 248.35h.01M324.67 258.95h.01M330.9 262.23h.01M344.6 248.11h.01M338.02 254.1h.01M344.42 255.19h.01M341.96 253.62h.01M350.32 255.12h.01M335.55 264.03h.01M340.78 252.34h.01M351.56 251.34h.01M339.11 252.98h.01M349.13 254.55h.01M345.08 246.85h.01M341.48 260.71h.01M351.68 257.1h.01M343.36 250.56h.01M349.51 245.74h.01M336.65 253.16h.01M349.61 249.57h.01M342.14 248.44h.01M336.7 248.55h.01M340.33 251.62h.01M354.22 254.1h.01M342.13 255.73h.01M345.02 259.47h.01M339.8 251.36h.01M339.33 252.84h.01M350.77 248.78h.01M359.7 247.98h.01M354.53 251.49h.01M351.26 259.32h.01M351.14 253.96h.01M343.09 254.13h.01M344.07 259.87h.01M336.15 251.8h.01M343.96 256.38h.01M340.68 255.01h.01M341.12 254.61h.01M347.84 256.32h.01M340.95 252.34h.01M345 252h.01M346.77 253.88h.01M354.83 252.33h.01M338.62 259.94h.01M347.19 252.38h.01M340.98 255.39h.01M357.61 254.25h.01M346.55 243.97h.01M342.48 253.26h.01M352.44 262.85h.01M344.4 251.11h.01M344.56 260.99h.01M347.33 248.87h.01M343.46 252.29h.01M344.87 251.76h.01M345.29 256.22h.01M342.32 257.52h.01M345.56 251.72h.01M353.27 255.24h.01M339.65 249.88h.01M343.67 256.5h.01M346.44 248.84h.01M341.33 257.47h.01M349.62 247.45h.01M348.94 248.87h.01M332.59 264.62h.01M338.98 248.99h.01M336.13 249.77h.01M351.39 253.16h.01M350.72 249.08h.01M336.59 253.41h.01M340.38 253.49h.01M348.04 262.29h.01M340.97 248.71h.01M349.3 249.59h.01M351.7 250.95h.01M347.37 246.86h.01M352.1 249.77h.01M351.95 252.49h.01M343.12 248.56h.01M344.09 258.58h.01M338.41 249.08h.01M350.15 249.92h.01M351.41 251.92h.01M356.9 264.47h.01M340.08 245.37h.01M343.01 254.69h.01M350.95 263.26h.01M352.23 246.84h.01M349.19 256.57h.01M346.89 252.93h.01M337.38 247.99h.01M348.61 253.22h.01M347.11 247.2h.01M339.07 255.12h.01M340.33 257.95h.01M343.49 252.2h.01M348.25 257.92h.01M340.84 256.67h.01M340.86 252.24h.01M349.25 249.77h.01M343.13 251.02h.01M347.34 265.55h.01M350.76 250.14h.01M349.69 250.73h.01M344.96 248.77h.01M345.82 249.79h.01M357.25 251.17h.01M343 250.12h.01M346.29 247.92h.01M346.95 248.98h.01M335.44 254.18h.01M332.85 257.81h.01M345.12 249.98h.01M350.4 249.56h.01M345.17 248.61h.01M343.67 259.31h.01M341 254.42h.01M349.84 249.14h.01M343.64 254.48h.01M334.6 256.06h.01M346.93 243.79h.01M346.35 251.09h.01M350.28 259.02h.01M352.67 252.29h.01M355.6 254.66h.01M347.62 248.12h.01M341.53 246.17h.01M330.24 254.31h.01M349.23 257.87h.01M342.49 248.31h.01M352.33 245.78h.01M355.18 254.44h.01M347.76 250.22h.01M353.64 248.34h.01M345.23 254.36h.01M344.95 252.96h.01M339.11 253.09h.01M343.49 254.34h.01M345.29 248.75h.01M351.87 249.78h.01M341.41 257.16h.01M348.53 245.79h.01M359.89 245.99h.01M334.5 250.48h.01M344.64 256.44h.01M346.23 255.19h.01M353.14 254.35h.01M359.66 252.44h.01M354.76 254.18h.01M346.03 255.79h.01M338.31 250.96h.01M346.26 256.82h.01M343.34 248.44h.01M350.49 262.41h.01M339.77 255.88h.01M355.94 251.55h.01M338.38 248.61h.01M351.26 255.7h.01M348.4 257.26h.01M335.41 247.97h.01M344.6 249.8h.01M344.44 250.31h.01M342.8 249.99h.01M352.58 256.8h.01M345.56 263.35h.01M354.12 254.54h.01M338.71 253.45h.01M331.18 264.53h.01M345.99 249.92h.01M347.6 257.76h.01M337.49 251.34h.01M337.68 261.24h.01M332.13 254.56h.01M363.59 251.54h.01M356.44 251.31h.01M340.79 251.88h.01M355.99 244.59h.01M332.75 256.08h.01M351.5 256.05h.01M349.63 250.77h.01M338.38 251.5h.01M347.55 268.53h.01M335.68 247.82h.01M344.95 251.35h.01M354.48 251.8h.01M349.8 245.4h.01M347.74 251.43h.01M351.62 247.92h.01M330.99 250.01h.01M358.94 249.74h.01M342.84 247.45h.01M335.23 252.19h.01M344.57 258.94h.01M338.96 248.96h.01M346.64 254.97h.01M349.01 257.07h.01M331.44 262.49h.01M354.02 251.59h.01M355.91 247.31h.01M335.96 248.59h.01M354.89 249.61h.01M353.96 251.48h.01M350.8 247.75h.01M354.05 244.13h.01M337.37 259.68h.01M348.02 245.97h.01M339.13 256.86h.01M359.7 244.65h.01M335.9 247.15h.01M339.66 262.65h.01M353.35 252.54h.01M349.96 253.42h.01M342.87 245.99h.01M345.69 251.54h.01M349.48 252.24h.01M355.08 244.95h.01M343.05 261.58h.01M338.01 244.64h.01M342.37 256.98h.01M341.4 244.05h.01M342.49 245.31h.01M334.45 249.69h.01M347.91 254.25h.01M335.52 252.18h.01M341.83 250.09h.01M341.85 248.87h.01M340.94 246.26h.01M353.21 244.76h.01M354.08 243.99h.01M351.5 248.31h.01M354.72 246.83h.01M353.12 246.02h.01M346.59 257.9h.01M345.65 249.6h.01M346.6 251.28h.01M334.96 252.19h.01M339.78 250.6h.01M343.74 252.27h.01M345.09 245.24h.01M343.8 251.75h.01M336.56 246.7h.01M337.84 256.45h.01M342.36 245.03h.01M338.19 257.93h.01M338.81 259.54h.01M341.53 245.06h.01M347.15 254.75h.01M338.75 252.26h.01M335.07 261.62h.01M345.87 249.02h.01M349.77 248.86h.01M341.69 251.75h.01M344.45 258.66h.01M326.4 248.9h.01M352.04 253.37h.01M337.8 255.11h.01M348.77 248.14h.01M340.58 252.4h.01M345.44 256.61h.01M344.96 256.23h.01M335.8 264.01h.01M331.45 247.25h.01M344.65 249.29h.01M339.17 253.11h.01M342.56 250.63h.01M355.9 254.26h.01M336.32 266.78h.01M344.52 254.09h.01M347.33 256.44h.01M346.38 248.17h.01M339.97 254.02h.01M335.42 259.75h.01M336.81 256.83h.01M342.03 252.7h.01M350.18 251.55h.01M346.6 255.26h.01M356.41 251.02h.01M348.89 261.13h.01M344.86 248.01h.01M332.48 253.53h.01M349.97 254.36h.01M337.88 255.68h.01M343.73 256.77h.01M336.33 253.99h.01M346.66 254.64h.01M346.66 251.09h.01M345.02 249.91h.01M345.3 253.24h.01M343.86 260.79h.01M334.23 263.98h.01M338.53 255.73h.01M353.18 244.6h.01M349.52 253.67h.01M339.86 254.03h.01M340.9 259.62h.01M341.86 248.98h.01M363.77 250.06h.01M346.58 246.74h.01M338.56 255.92h.01M347.53 254.58h.01M340.57 253.15h.01M355.73 251.32h.01M345.78 248.62h.01M354.86 253.79h.01M345.06 249.36h.01M357.08 243.96h.01M347.34 250.51h.01M346.59 251.11h.01M336.74 250.68h.01M343.36 256.62h.01M347.19 250.53h.01M342.55 255.94h.01M342.59 246.11h.01M339.38 252.64h.01M349.69 245.18h.01M341.12 252.69h.01M348.42 253.57h.01M346.04 257.27h.01M342.5 260.37h.01M355.25 252.24h.01M344.27 248.61h.01M352.89 251.9h.01M341.74 250.47h.01M336.33 257.88h.01M334.92 250.24h.01M343.62 259.33h.01M344.3 254.33h.01M344.72 250.6h.01M345.97 244.66h.01M337.11 256.27h.01M345.47 249.1h.01M337.23 256.08h.01M339.16 250.45h.01M360.81 243.44h.01M354.23 251.78h.01M344.87 259.57h.01M353.84 247.76h.01M351.32 251.66h.01M354.23 247.83h.01M342.48 250.65h.01M347.56 262.1h.01M337.8 250.3h.01M349.26 252.27h.01M335.78 252.84h.01M341.36 252.81h.01M342.97 257.25h.01M346.77 250.26h.01M355.25 243.31h.01M341.08 261.9h.01M353.61 247.43h.01M339.33 250.91h.01M337.3 250.46h.01M348.07 256.31h.01M351.65 249.71h.01M339.63 252.36h.01M337.87 247.81h.01M340.46 249.02h.01M340.66 255.32h.01M346.04 251.5h.01M336.84 244.67h.01M341.73 248.71h.01M347.54 252.22h.01M346.49 265.15h.01M351.19 245.88h.01M336.73 243.64h.01M341.02 257.35h.01M357.45 245h.01M346.23 254.41h.01M349.91 249.01h.01M345.49 246.88h.01M339.32 247.35h.01M349.08 249.87h.01M346.98 251.71h.01M334.33 260.9h.01M348.06 244.39h.01M348.23 257.96h.01M340.86 255.19h.01M341.71 252.23h.01M342.72 254.53h.01M335.16 252.54h.01M340.95 253.12h.01M352.69 257.6h.01M333.92 253.1h.01M343.7 256.63h.01M327.8 253.66h.01M341.02 253.34h.01M348.99 255.46h.01M342.53 246.75h.01M345.68 253.45h.01M333.95 245.02h.01M346.7 245.51h.01M338.21 252.32h.01M352.26 253.85h.01M347.41 254.77h.01M340.81 248.84h.01M354.39 247.9h.01M342.54 253.83h.01M346.22 253.7h.01M347.06 258.14h.01M353.46 255.26h.01M346.75 248.33h.01M344.12 250.22h.01M342.52 248.11h.01M345.42 249.3h.01M344.99 250.71h.01M343.81 255.9h.01M338.16 254.9h.01M326.27 254.06h.01M345.45 256.01h.01M344.69 256.6h.01M351.82 246.39h.01M347.39 249.86h.01M352.18 248.85h.01M344.36 252.91h.01M340.41 257.09h.01M353.41 258.87h.01M341.24 254.34h.01M342.7 251.37h.01M354.07 247.94h.01M349.48 253.48h.01M353.37 253.02h.01M334.56 251.41h.01M345.4 252.84h.01M353.28 252.32h.01M333.13 246.06h.01M348.41 257.77h.01M347.16 250.12h.01M331.12 261.51h.01M355.28 248.03h.01M339.76 252.66h.01M343.82 252.05h.01M356.37 249.34h.01M334.51 260.27h.01M347.48 249.76h.01M340.08 248.08h.01M344 248.81h.01M337.87 249.62h.01M355.08 252.23h.01M335.92 250.43h.01M349.74 258.06h.01M348.64 251.36h.01M344.12 251.9h.01M345.21 258.62h.01M342.52 251.06h.01M351.12 248.3h.01M349.13 254.51h.01M345.55 255.62h.01M336.06 250.2h.01M349.96 262.79h.01M349.32 253.37h.01M342.6 246.51h.01M354.05 247.86h.01M333.83 260.84h.01M361.64 247.12h.01M345.08 256.4h.01M341.27 265.5h.01M334.93 260.48h.01" stroke="#9068c4" stroke-width="1" stroke-linecap="round" opacity="0.45"/>
<line x1="320.5" y1="175.8" x2="320.5" y2="272.2" stroke="#3a3a3a" stroke-width="1"/>
<line x1="291" y1="243" x2="320.5" y2="243" stroke="#3a3a3a" stroke-width="1"/>
<line x1="320.5" y1="243" x2="387.2" y2="243" stroke="#3a3a3a" stroke-width="1"/>
<rect x="419.3" y="175.8" width="95.7" height="96.4" fill="none" stroke="#555" stroke-width="1"/>
<text x="514.6" y="171.4" font-size="13.2" text-anchor="end" fill="#000" stroke="#000" stroke-width="0.29">PLTs</text>
<text x="425.8" y="188.4" font-size="8.6" font-weight="bold" text-anchor="start" fill="#000" stroke="#000" stroke-width="0.19">Q1</text>
<text x="509.5" y="188.4" font-size="8.6" font-weight="bold" text-anchor="end" fill="#000" stroke="#000" stroke-width="0.19">Q2</text>
<text x="424.9" y="267.4" font-size="8.8" font-weight="bold" text-anchor="start" fill="#000" stroke="#000" stroke-width="0.19">Q3</text>
<text x="509.5" y="267.4" font-size="8.8" font-weight="bold" text-anchor="end" fill="#000" stroke="#000" stroke-width="0.19">Q4</text>
<path d="M417.1 184.3h2.2M417.1 206.5h2.2M417.1 230.8h2.2M417.1 257.5h2.2M418 223.48h1.3M418 219.21h1.3M418 216.17h1.3M418 213.82h1.3M418 211.89h1.3M418 210.26h1.3M418 208.85h1.3M418 207.61h1.3M418 199.82h1.3M418 195.91h1.3M418 193.13h1.3M418 190.98h1.3M418 189.23h1.3M418 187.74h1.3M418 186.45h1.3M418 185.32h1.3M418 249.46h1.3M418 241.42h1.3M418 236.72h1.3M418 233.39h1.3M418 230.8h1.3" stroke="#111" stroke-width="0.8"/>
<text x="414.8" y="185.9" font-size="4.6" fill="#4a4a4a" text-anchor="end">10<tspan dy="-2.6" font-size="4.05">5</tspan></text>
<text x="414.8" y="208.1" font-size="4.6" fill="#4a4a4a" text-anchor="end">10<tspan dy="-2.6" font-size="4.05">4</tspan></text>
<text x="414.8" y="232.4" font-size="4.6" fill="#4a4a4a" text-anchor="end">10<tspan dy="-2.6" font-size="4.05">3</tspan></text>
<text x="412.7" y="259.6" font-size="4.6" fill="#4a4a4a" text-anchor="end">0</text>
<path d="M432.1 272.2v2.2M462.6 272.2v2.2M486.3 272.2v2.2M507.6 272.2v2.2M469.73 272.2v1.3M473.91 272.2v1.3M476.87 272.2v1.3M479.17 272.2v1.3M481.04 272.2v1.3M482.63 272.2v1.3M484 272.2v1.3M485.22 272.2v1.3M492.71 272.2v1.3M496.46 272.2v1.3M499.12 272.2v1.3M501.19 272.2v1.3M502.87 272.2v1.3M504.3 272.2v1.3M505.54 272.2v1.3M506.63 272.2v1.3M441.28 272.2v1.3M446.65 272.2v1.3M450.46 272.2v1.3M453.42 272.2v1.3M455.83 272.2v1.3M457.88 272.2v1.3M459.64 272.2v1.3M461.2 272.2v1.3" stroke="#111" stroke-width="0.8"/>
<text x="432.1" y="282.8" font-size="4.6" fill="#4a4a4a" text-anchor="middle">0</text>
<text x="462.6" y="282.8" font-size="4.6" fill="#4a4a4a" text-anchor="middle">10<tspan dy="-2.6" font-size="4.05">3</tspan></text>
<text x="486.3" y="282.8" font-size="4.6" fill="#4a4a4a" text-anchor="middle">10<tspan dy="-2.6" font-size="4.05">4</tspan></text>
<text x="507.6" y="282.8" font-size="4.6" fill="#4a4a4a" text-anchor="middle">10<tspan dy="-2.6" font-size="4.05">5</tspan></text>
<text x="405.3" y="220.6" font-size="11.5" text-anchor="middle" fill="#000" stroke="#000" stroke-width="0.25" transform="rotate(-90 405.3 220.6)">CD31 PECy7</text>
<text x="472" y="296.4" font-size="11.8" text-anchor="middle" fill="#000" stroke="#000" stroke-width="0.26">CD9 APC</text>
<path d="M417.3 249.6h2M417.3 251.4h2M417.3 253.2h2M417.3 255.6h2M417.3 257.5h2M417.3 259.4h2M417.3 261.2h2M429.1 272.2v2M430.9 272.2v2M432.7 272.2v2M434.3 272.2v2M436.1 272.2v2M437.9 272.2v2M439.6 272.2v2" stroke="#111" stroke-width="0.9"/>
<ellipse cx="433.8" cy="240" rx="3.2" ry="9" fill="#e0a0cc" opacity="0.6" transform="rotate(0 433.8 240)" filter="url(#b1_4)"/>
<path d="M436.22 226.54h.01M436.44 235.82h.01M432.24 245.24h.01M437.98 229.99h.01M432.51 245.47h.01M432.52 233.86h.01M432.9 235.97h.01M436.53 246.46h.01M434.6 245.46h.01M435.54 241.75h.01M429.78 237.7h.01M433.77 231.17h.01M433.66 239.95h.01M435.15 227.16h.01M433.01 234.33h.01M436.07 244.92h.01M432.61 244.75h.01M431.31 239.81h.01M430.86 244.04h.01M436.2 241.01h.01M435.27 234.94h.01M432.44 238.53h.01M435.91 233.52h.01M433.56 245.16h.01M433.66 246.37h.01M431.19 250.12h.01M434.08 243.44h.01M434.26 239.82h.01M432.85 241.69h.01M435.71 240.24h.01M436.53 225.97h.01M432.4 247.9h.01M434.62 242.15h.01M431.08 243.67h.01M434.65 246.61h.01M432.11 230.78h.01M433.6 240.46h.01M434.2 231.47h.01M433.44 248.12h.01M435.81 227.09h.01M432.46 224.36h.01M433.03 246.31h.01M434.49 240.28h.01M433.83 241.11h.01M434.36 236.29h.01M433.51 249.3h.01M432.41 236.92h.01M435.11 235.1h.01M434.04 244.39h.01M436.34 244.94h.01M433.25 242.94h.01M432.54 234.82h.01M433.06 244.51h.01M432.71 248.22h.01M430.25 235.85h.01M436.91 237.57h.01M434.65 235.02h.01M438.18 239.83h.01M432.87 232.76h.01M434.99 236.57h.01M433.77 238.76h.01M435.7 234.73h.01M433.91 239.89h.01M433.76 229.91h.01M434.2 243.33h.01M429.81 235.25h.01M432.59 248.74h.01M432.56 240.13h.01M436.93 243.98h.01M434.98 247.14h.01M435.34 249.28h.01M435.06 238.56h.01M433.55 237.13h.01M436.93 244.57h.01M433.53 248.79h.01M431.32 246.26h.01M435.06 234.8h.01M436.07 248.54h.01M434.1 232.16h.01M434.58 251.81h.01M435.67 238.16h.01M436.71 235.45h.01M434.98 231.57h.01M436.99 243.12h.01M434.44 245.47h.01M437.75 250.07h.01M431.4 233.74h.01M435.64 241.01h.01M434.44 243.32h.01M434.13 243.04h.01M431.57 238.33h.01M435.88 239.87h.01M433.56 231.84h.01M432.76 234.19h.01M433.49 243.82h.01M434.1 240.64h.01M432.26 242.29h.01M432.23 240.68h.01M434.68 234.8h.01M433.79 238.53h.01M437.51 250.18h.01M433.15 240.55h.01M435.28 240.76h.01M437.1 237.48h.01M433.55 239.79h.01M435.72 240.63h.01M434.47 232.89h.01M434.01 247.69h.01M436.85 224.81h.01M432.1 244.01h.01M432.81 247.31h.01M430.68 234.57h.01M433.7 232.53h.01M435.72 231.3h.01M433.45 229.84h.01M435.42 236.7h.01M432.53 239.59h.01M436 237.4h.01M433.71 240.06h.01M433.04 243.83h.01M436.91 228.8h.01M433.9 227.31h.01M434.96 239.97h.01M434.14 241.63h.01M435.2 243.46h.01M434.14 251.8h.01M431.72 244.76h.01M434.43 243.63h.01M434.79 240.15h.01M434.62 247.02h.01M437.22 235.44h.01M432.59 227.95h.01M434.3 240.96h.01M431.94 234h.01M431.74 248.16h.01M435.13 250.05h.01M435.15 239.76h.01M434.17 241.62h.01M430.99 244.45h.01M433.38 228.48h.01M434.35 229.49h.01M435.05 235.38h.01M436.08 240.43h.01M434.74 242.24h.01M435.67 233.76h.01M436.94 241.58h.01M429.65 229.51h.01M435.72 231.19h.01M433.12 244.14h.01M434.79 234.57h.01M434.29 228.91h.01M432.05 235.29h.01M432.26 246.48h.01M434.7 241.73h.01M433.58 242.22h.01M435.24 238.98h.01M433.21 239.6h.01M437.82 242.27h.01M433.44 233.78h.01M437.69 230.31h.01M432.52 243.71h.01M434.93 250.08h.01M435.96 237.14h.01M431.52 239.69h.01M432.14 236.77h.01M434.65 244.49h.01M436 237.65h.01M436.39 246.06h.01M434.91 232.04h.01M435.81 227.89h.01M431.78 246.16h.01M436.53 243.05h.01M432.9 243.3h.01M433.46 238.23h.01M430.74 239.45h.01M433.56 236.12h.01M431 220.57h.01M434.56 243.47h.01M436.58 242.17h.01M434.47 236.52h.01M433.17 234.03h.01M434.9 243.89h.01M431.88 249.58h.01M433.06 245.44h.01M437.83 235.99h.01M431.52 233.61h.01M432.87 230.76h.01M431.35 236.42h.01M436.13 244.54h.01M433.46 235.57h.01M431.58 240.02h.01M431.61 223.08h.01M435.11 228.16h.01M435.34 234.04h.01M433.77 236.56h.01M435.52 240.06h.01M436.27 243.34h.01M435.09 246.15h.01M430.96 250.3h.01M430.29 225.11h.01M431.21 232.81h.01M434.36 234.65h.01M431.15 236.82h.01M433.93 241.3h.01M432.26 238.48h.01M431.53 231.22h.01M435.61 246.35h.01M434.75 237.42h.01M435.29 240.98h.01M435.53 239.1h.01M436.48 244.77h.01M433.77 236.77h.01M433.5 238.73h.01M433.4 230.78h.01M432.74 223.89h.01M435.74 245.42h.01M435.06 231.21h.01M436.52 246.12h.01M435.82 242.96h.01M435.99 226.92h.01M434.79 237.84h.01M434.08 228.62h.01M433.13 237.17h.01M433.79 232.13h.01M432.08 240.37h.01M434.53 229.16h.01M433.66 226.67h.01M430.11 234.43h.01M428.88 243.13h.01M432.48 241.74h.01M432.96 245.77h.01M433.26 234.91h.01M436.17 235.5h.01M432.66 244.03h.01M431.49 232.71h.01M434.5 243.17h.01M435.63 226.39h.01M436.8 233.34h.01M431.95 227.98h.01M433.34 244.09h.01M433.02 246.07h.01M436.55 251.87h.01M435.07 234.56h.01M433.84 246.95h.01M435.11 229.67h.01M433.14 238.06h.01M433.42 233.71h.01M433.73 248.03h.01M432.88 243.2h.01M433.33 237.76h.01M434.43 233.88h.01M434.23 248.04h.01M436.49 236.64h.01M435.36 244.82h.01M433.65 233.36h.01M429.79 240.62h.01M431.09 241.11h.01M432.87 235.97h.01M433.08 230.94h.01M431.39 240.71h.01M433.09 230.46h.01M433.98 245.99h.01M432.62 237.04h.01M433.51 246.84h.01M433.6 237.53h.01M432.49 245.39h.01M432.2 238.78h.01M433.53 234.68h.01M434.25 245.77h.01M431.87 251.27h.01M430.05 240.25h.01M432.02 235.39h.01M434.67 237.42h.01M430.83 245.38h.01M435.43 233.21h.01M432.69 241.06h.01M433.98 233.7h.01M432.35 245.21h.01M434.8 235.98h.01M433.84 230.85h.01M434.42 243.68h.01M430.22 241.09h.01M435.05 234.73h.01M430.7 235.42h.01M433.14 236.59h.01M434.68 239.93h.01M433.39 249.98h.01M434.64 239.12h.01M434.04 248.09h.01M433.9 238.51h.01M435.56 229.1h.01M435.77 225.87h.01M432.77 236.02h.01M432.12 245.01h.01M434.11 241.23h.01M432.37 232.94h.01M433.99 234.54h.01M435.21 243.98h.01M434.93 230.78h.01M436.4 234.09h.01M434.57 235.41h.01M431.86 241.58h.01M432.19 239.15h.01M434.7 244.08h.01M437.17 237.83h.01M433.09 243.73h.01M432.08 231h.01M436.25 238.87h.01M433.51 237.68h.01M434.98 236.86h.01M435.67 236.92h.01M431.96 249.04h.01M433.09 230.26h.01M432.73 238.48h.01M434.68 242.97h.01M434.91 245.89h.01M432.84 243.9h.01M434.73 243.41h.01M430.52 239.08h.01M434.36 245.14h.01M434.35 238.41h.01M433.73 238.16h.01M431.13 243.98h.01M433.55 223.85h.01M431.81 240.01h.01M436.33 236.86h.01M433.21 238.43h.01M433.36 240.31h.01M433.53 234.53h.01M434.7 229.65h.01M433.87 239.73h.01M434.69 245.18h.01M432.07 235.44h.01M432.85 238.16h.01M435.08 240.56h.01M434.15 237.01h.01M435.65 249.74h.01M433.6 242.31h.01M431.09 246.41h.01M431.67 243.04h.01M433.32 235.24h.01M436.2 240.7h.01M432.98 243.48h.01M433.83 231.15h.01M435.97 239.28h.01M434.28 246.62h.01M434.23 236.57h.01M432.66 236.4h.01M434.14 237.91h.01M435.6 237.65h.01M435.6 245.69h.01M433.13 240.14h.01M438.93 247.72h.01M434.35 245.31h.01M433.23 245.84h.01M432.44 245.36h.01M431.97 241.93h.01M435.19 241.16h.01M428.58 245.14h.01M433.45 232.16h.01M431.28 242.78h.01M433.42 229.04h.01M433.67 232.75h.01M431.39 248.06h.01M431.97 233.57h.01M435.99 249.37h.01M432.74 229.74h.01M433.72 237.48h.01M433.16 246.62h.01M435.9 242.56h.01M435.36 249.15h.01M434.71 232.27h.01M434.73 248.44h.01M431.61 241.45h.01M436.06 236.5h.01M432.73 239.82h.01M432.14 238.11h.01M433.06 241.63h.01M432.31 234.95h.01M434.46 246.37h.01M435.02 236.02h.01M436.01 248.26h.01M433.56 238.74h.01M432.67 247.83h.01M433.23 241.38h.01M431.64 235.93h.01M432.41 231.46h.01M432.35 245.3h.01M432.91 246.73h.01M434.85 231.65h.01M434.18 246h.01M435.09 235.16h.01M432.18 243.58h.01M431.82 249.98h.01M436.08 239.27h.01M432.52 247.9h.01M433.55 235h.01M434.11 234.33h.01M430.43 230.86h.01M433.38 247.05h.01M432.57 229.19h.01M434.66 233.39h.01M429.71 224.77h.01M435.13 228.44h.01M429.17 247.24h.01M432.99 237.8h.01M432.49 249.34h.01M432.63 241h.01M433.7 238.79h.01M435.42 235.8h.01M432.17 245.77h.01M432.63 240.26h.01M435.05 246.51h.01M434.63 237.44h.01M435 235.49h.01M434.32 239.58h.01M433.29 232.14h.01M432.85 234.86h.01M432.88 237.51h.01M435.34 232.05h.01M436.39 248.67h.01M437.26 240.34h.01M433.3 240.21h.01M433.73 243.34h.01M433.43 234.37h.01M431.71 243.14h.01M437.62 244.51h.01M436.43 240.74h.01M433.43 241h.01M432.92 236.52h.01M433.71 246.13h.01M431.57 250.46h.01M433.12 251.09h.01M435.11 232.12h.01M436.69 248.81h.01M435.32 243.29h.01M436.05 247.73h.01M431.84 233.99h.01M427.93 243.99h.01M436.2 231.58h.01M434.06 244.96h.01M433.58 238.02h.01M436.72 234.83h.01M432.01 233.38h.01M432.02 248.33h.01M432.4 242.62h.01M436.63 240.63h.01M430.53 235.14h.01M436.7 237.36h.01M433.76 236.53h.01M434.5 249.71h.01M432.34 238.79h.01M437.11 237.04h.01M434.52 232.93h.01M436.1 243.67h.01M431.94 235.36h.01M434.99 226.45h.01M433.89 243.06h.01M433.33 242.9h.01M432.27 242.29h.01M432.47 250.37h.01M431.63 242.56h.01M432.54 228.79h.01M433.68 246.47h.01M434.78 241.38h.01M430.92 231.75h.01M431.86 236.12h.01M432.63 238.45h.01M430.78 242.35h.01M433.21 240.82h.01M433.25 239.95h.01M433.38 235.26h.01M434.47 239.48h.01M435.43 233.51h.01M434.23 234.34h.01M434.8 243.68h.01M432.29 239.93h.01M432.03 242.94h.01M434.9 235.57h.01M434.75 240.83h.01M437.69 235.68h.01M433.32 245.57h.01M431.95 238.69h.01M434.26 231.51h.01M432.92 232.29h.01M432.12 242.47h.01M436.19 239.01h.01M437.21 242.55h.01M434.4 240.82h.01M432.55 239.88h.01M434.19 231.62h.01M433.63 235.96h.01M431.22 229.91h.01M435.24 229.37h.01M434.35 248.74h.01M436 237.85h.01M432.73 243.07h.01M433.7 251.15h.01M433.52 247.44h.01M430.62 243.46h.01M438.28 228.43h.01M429.95 239.38h.01M431.66 241.26h.01M433.09 240.18h.01M430.91 245.15h.01M434.5 238.78h.01M432.9 240.61h.01M433.87 251.22h.01M434.16 243.64h.01M433.88 216.81h.01M433.92 235.62h.01M433.47 240.64h.01M434.52 235.38h.01M435.21 246.67h.01M433.29 239.34h.01M432.94 233.92h.01M433.03 251.02h.01M434.31 245.02h.01M433.09 242.71h.01M433.06 241.9h.01M431.02 243.48h.01M437.26 238.09h.01M431.52 232.95h.01M436.81 237.59h.01M435.21 232.91h.01M435.63 232.77h.01M434.24 244.05h.01M434.66 238.08h.01M434.3 242.53h.01M434.85 235.43h.01M435.3 242.35h.01M436.55 241.22h.01M431.97 228.29h.01M434.67 241.17h.01M436.72 250.65h.01M436.32 239.12h.01M431.92 237.91h.01M434.36 243.41h.01M434.3 239.46h.01M434.24 232.94h.01M429.68 243.49h.01M435.37 241.22h.01M430.86 244.79h.01M437.79 237.67h.01M435 240.79h.01M433.62 246.26h.01M434.96 240.99h.01M434.07 227.4h.01M432.83 251.6h.01M433.64 249.4h.01M434.45 237.61h.01M432.34 249.41h.01M435.12 226.56h.01M435.86 250.12h.01M435.78 248.85h.01M435.98 243.43h.01M436.2 232.53h.01M435.11 234.43h.01M436.22 236.01h.01M433.94 237.88h.01M434.57 231.02h.01M437.39 238.02h.01M433.18 230.13h.01M431.16 247.21h.01M437.77 237.72h.01M435.96 231.54h.01M437.19 231.35h.01M435.49 240.83h.01M434.28 227.18h.01M432.66 236.45h.01M432.07 232.58h.01M436.51 247.22h.01M435.65 245.06h.01M434.42 245.1h.01M431.79 227.84h.01M433.28 234.45h.01M428.52 238.9h.01M436.72 242.6h.01M432.83 241.99h.01M433.89 231.64h.01M432 243.52h.01M434.63 232.63h.01M432.34 234.69h.01M433.03 246.16h.01M434.31 241.85h.01M433.74 249.96h.01M434.02 230.59h.01M432.14 242.81h.01M435.18 231.21h.01M431.83 234.43h.01M435.4 245.91h.01M432.95 240.87h.01M431.65 235.46h.01M433.68 236.86h.01M431.88 229.48h.01M432.86 232.26h.01M433.56 237.65h.01M435.29 235.16h.01M435.31 244.69h.01M434.73 243.91h.01M433.32 235.75h.01M431.02 237.56h.01M433.43 247.37h.01M433.25 240.38h.01M433.6 245.27h.01M432.86 243.61h.01M432.87 231.05h.01M435.33 246.25h.01M431.37 244.28h.01M433.86 235.98h.01M436.17 239.31h.01M432.41 238.68h.01M432.01 249.62h.01M433.42 239.99h.01M433.2 242.33h.01M434.33 245.3h.01M436.35 243.62h.01M433.61 241.8h.01M434.87 234.1h.01M432.76 227.04h.01M432.93 239.04h.01M434.38 229.73h.01M432.6 239.01h.01M436.06 249.84h.01M433.09 239.38h.01" stroke="#d070b0" stroke-width="1" stroke-linecap="round" opacity="0.6"/>
<clipPath id="c7"><rect x="420" y="252.5" width="27" height="19.5"/></clipPath>
<g clip-path="url(#c7)">
<ellipse cx="434" cy="255.5" rx="5" ry="2" fill="#a0a0a0" opacity="0.9" transform="rotate(0 434 255.5)" filter="url(#b0_7)"/>
</g>
<path d="M499.26 200.19h.01M483.46 228.65h.01M488.85 230.27h.01M485.76 221.37h.01M500.1 207.92h.01M513.27 204.46h.01M474.46 239.51h.01M499.64 208.4h.01M478.72 228.98h.01M474.41 242.19h.01M509.82 200.36h.01M503.6 215.46h.01M478.9 235.02h.01M491.02 225.58h.01M496.54 221.68h.01M474.09 235.56h.01M485.95 226.18h.01M483.55 241.24h.01M501.09 214.64h.01M482.21 237.5h.01M482.65 224.68h.01M464.03 239.3h.01M475.18 236.85h.01M500.03 221.81h.01M486.05 230.43h.01M480.9 239.6h.01M483.07 232.81h.01M468.8 236.61h.01M503.55 203.85h.01M469.54 241.37h.01M492.98 212.07h.01M498.36 221.4h.01M484.23 220.12h.01M499.28 218.31h.01M469.7 232.97h.01M474.96 235.46h.01M474.59 237.65h.01M505.61 198h.01M473.26 230.98h.01M495.24 213.94h.01M495.13 221.46h.01M496.34 219.83h.01M482.84 230.57h.01M480.85 233.14h.01M474.19 241.95h.01M495.05 201.69h.01M470.77 232.22h.01M491.87 219.53h.01M505.94 212.58h.01M487.82 233.07h.01M472 234.01h.01M501.61 207.3h.01M490.53 215.49h.01M474.6 239.31h.01M490.48 220.25h.01M466.31 238.26h.01M498.34 203.36h.01M476.91 228.18h.01M468.12 240.63h.01M499.51 213.52h.01M477.66 240.7h.01M496.43 208.24h.01M478.76 242.36h.01M473.72 232.11h.01M504.99 197.44h.01M468.05 236.68h.01M513.09 199.02h.01M469.88 235.08h.01M468.82 230.12h.01M492.38 212.94h.01M502.7 216.16h.01M468.39 238.86h.01M491.88 221.31h.01M481.11 235.48h.01M469.06 241.96h.01M508.19 196.59h.01M473.38 230.66h.01M498.2 226.02h.01M491.45 217.7h.01M469.61 235.85h.01M479.32 238.39h.01M495.87 204.36h.01M494.95 206.4h.01M490.53 224.86h.01M482.23 239.7h.01M475.61 236.24h.01M483.65 233.33h.01M475.36 233.72h.01M473.75 236.19h.01M496.96 218.99h.01M500.13 205.6h.01M505.7 210.49h.01M464.05 236.18h.01M489.11 232.81h.01M468.4 239.18h.01M507.38 214.47h.01M483.13 234.53h.01M498.74 213.24h.01M493.23 221.79h.01M465.41 239.93h.01M495.95 207.58h.01M508.2 210.5h.01M512.56 201.63h.01M477.59 230.24h.01M488.59 228.76h.01M483.24 240.3h.01M482.64 236.95h.01M496.1 210.77h.01M493.7 209.6h.01M480.67 232.29h.01M500.55 213.56h.01M478.03 239.91h.01M497.27 212.04h.01M472.65 234.46h.01M504.44 217.49h.01M469.44 240.39h.01M490.98 233.91h.01M470.34 238.58h.01M476.42 232.38h.01M473.99 238.15h.01M486.8 210.22h.01M482.45 239.26h.01M471.14 231.63h.01M473.18 232.28h.01M475.24 242.47h.01M473.49 237.67h.01M481.55 233.02h.01M483.91 230.97h.01M482.23 224.49h.01M505.8 200.67h.01M511.86 206.43h.01M492.34 221.57h.01M473.88 235.85h.01M471.79 226.83h.01M486.58 226.81h.01M468.46 238.28h.01M487.47 225.76h.01M463.54 236.35h.01M478.41 228.12h.01M470.81 241.91h.01M475.25 240.91h.01M490.82 216.7h.01M480.05 235.42h.01M481.96 215h.01M495.05 224.12h.01M487.52 227.39h.01M482.73 227.25h.01M498.2 209.54h.01M465.7 240.8h.01M476.02 238.57h.01M466.89 241.76h.01M478.48 234.07h.01M508.89 210.67h.01M472.93 223.78h.01M495.79 208.69h.01M485.14 221h.01M471.01 241.65h.01M485.77 220.89h.01M506.61 202.16h.01M469.86 242.5h.01M512.74 209.18h.01M488.81 222.01h.01M467.65 239.75h.01M473.81 240.56h.01M494.76 207.41h.01M503.12 213.78h.01M493.39 223.28h.01M505.2 201.76h.01M493.57 213.62h.01M509.14 208h.01M478.11 236.71h.01M479.47 237.14h.01M472.17 234.64h.01M470.63 237.83h.01M467.55 232h.01M466.47 236.96h.01M508.45 200.46h.01M492.18 229.14h.01M507.01 199.16h.01M467.26 237.85h.01M488.04 224.98h.01M482.22 236.63h.01M500.65 204.98h.01M487.38 226.95h.01M476.53 228.1h.01M464.45 241.08h.01M478.63 231.76h.01M477.81 240.06h.01M497.75 213.14h.01M503.15 205.39h.01M502.16 208.77h.01M509.31 203.2h.01M487.91 237.65h.01M507.72 212.66h.01M470.81 240.59h.01M491.37 215.3h.01M485.06 223.37h.01M501.01 210.46h.01M485.91 231.38h.01M510.69 197.71h.01M481.33 235.73h.01M478.57 239.16h.01M496.18 218.25h.01M510.96 197.12h.01M467.76 230.25h.01M497.04 208.79h.01M477.17 241.8h.01M481.36 229.5h.01M485.02 223.12h.01M475.53 232.71h.01M466.82 239.71h.01M471.39 233.16h.01M480.26 239.18h.01M469 241.03h.01M489.81 218.01h.01M478.69 232.15h.01M477.78 239.97h.01M501.21 203.11h.01M468.27 240.08h.01M472.87 237.48h.01M509.25 202.41h.01M484.92 232.98h.01M501.7 208.14h.01M465.11 236.32h.01M493.19 208.35h.01M484.86 215.37h.01M502.56 195.3h.01M467.72 241.39h.01M501.93 197.12h.01M504.79 202.86h.01M483.05 228.68h.01M497.72 200.27h.01M501.35 214.85h.01M485.92 230.35h.01M479.59 230.46h.01M481.11 216.3h.01M491.78 213.8h.01M485.37 226.55h.01M493.5 216.2h.01M482.43 233.17h.01M470 240.72h.01M502.46 200.16h.01M475.86 239.48h.01M484.87 225.07h.01M482.2 234.64h.01M482.25 224.63h.01M480.51 233.88h.01M484.97 225.05h.01M469.23 241.05h.01M479.57 240.24h.01M478.59 228.36h.01M484.83 227.24h.01M482.84 235.94h.01M498.54 221.05h.01M478.38 228.95h.01M512.06 204.34h.01M470.56 234.38h.01M484.64 219.29h.01M494.23 225.97h.01M481.67 223.16h.01M484.24 224.35h.01M490.02 219.27h.01M471.89 226.77h.01M481.53 234.26h.01M470.31 240.14h.01M498.71 214.24h.01M507.5 200.13h.01M473.26 236.41h.01M483.06 229.62h.01M474 242.05h.01M473.51 238.41h.01M507.89 223.84h.01M498.04 210.65h.01M483.56 220.84h.01M501.83 207.99h.01M505.26 207.38h.01M473.04 242.04h.01M466.6 242.48h.01M467.38 240.01h.01M469.13 237.81h.01M481.02 228.88h.01M502.78 205.8h.01M486.33 238.64h.01M512.72 200.51h.01M489.15 217.67h.01M471.42 238.12h.01M489.96 208.82h.01M485.61 225.91h.01M466.91 240.87h.01M487.08 227.7h.01M500.24 207.21h.01M503.69 203.4h.01M495.94 211.78h.01M464.54 239.62h.01M461.2 228.21h.01M474.96 235.1h.01M512.86 202.71h.01M509.84 198.18h.01M490.58 225.44h.01M480.24 235.25h.01M472.76 228.76h.01M493.68 226.36h.01M481.22 241.52h.01M477.6 240.99h.01M499.28 216.3h.01M474.5 237.13h.01M497.39 210.33h.01M477.08 237.7h.01M495.98 223.9h.01M467.6 242.3h.01M484.59 231.06h.01M475.82 230.77h.01M496.96 214.95h.01M486.73 225.28h.01M492.39 224.93h.01M502.87 210.01h.01M498.93 210.95h.01M479.14 231.68h.01M492.58 227.14h.01M475.43 236.77h.01M476.56 242.1h.01M483.9 226.73h.01M483.1 233.76h.01M469.26 238.4h.01M497.18 206.64h.01M489.05 216.63h.01M475.92 240.81h.01M503.74 200.72h.01M485.97 229.02h.01M470.12 224.7h.01M496.64 209.24h.01M470.33 239.88h.01M462.62 236.69h.01M504.82 199.15h.01M466.46 238.7h.01M478.76 229.96h.01M506.85 200.3h.01M478.05 238.93h.01M503.97 201.09h.01M465.99 234.61h.01M501.11 207.16h.01M484.39 232.5h.01M504.23 204.17h.01M498.36 216.68h.01M487.98 221.46h.01M482.8 233.1h.01M494.48 211.17h.01M488.09 218.69h.01M494.15 218.56h.01M487.9 204.75h.01M495.5 223.72h.01M464.92 235.16h.01M473.39 236.34h.01M479.15 237.45h.01M477.69 239.15h.01M497.42 217.14h.01M494.13 220.14h.01M464.34 239.92h.01M499.27 213.02h.01M486.8 221.1h.01M467.74 231.55h.01M483.59 226.19h.01M473.41 240.23h.01M500.18 219.82h.01M474.31 242.17h.01M475.12 242.08h.01M485.45 233.01h.01M483.4 240.82h.01M470.26 240.71h.01M487.45 233.66h.01M481.2 226.04h.01M502.36 211.64h.01M492.89 208.12h.01M484.66 234.57h.01M475.87 233.41h.01M493.16 208.04h.01M491.08 218.33h.01M487.67 223.03h.01M505.22 206.03h.01M487.81 236.57h.01M491.01 225.17h.01M484.62 217.07h.01M501.75 214.68h.01M491.96 223.14h.01M473 238.71h.01M495.56 220.29h.01M474.54 223.8h.01M485.11 229.33h.01M486 237.79h.01M502.59 212.24h.01M500.11 214.66h.01M474.21 242.13h.01M469.32 236.69h.01M501.2 209h.01M501.24 211.09h.01M505.54 212.09h.01M480.68 238.76h.01M485.18 230.63h.01M506 203.8h.01M489.61 228.51h.01M489.06 219.35h.01M466.28 241.64h.01M473.27 229.59h.01M474.19 236.46h.01M488.21 236.88h.01M491.53 231.65h.01M481.79 225.97h.01M478.32 237.94h.01M479.4 233.44h.01M507.66 208.33h.01M502.35 206.13h.01M501.1 205.12h.01M504.79 212.39h.01M484.98 225.45h.01M482.96 232.4h.01M472.71 240.22h.01M490.41 214.73h.01M488.68 231.49h.01M476.18 231.47h.01M469.4 241.17h.01M491.43 222.66h.01M478.81 226.54h.01M500 216.77h.01M493.49 223.94h.01M500.42 207.04h.01M502.59 197.66h.01M490.01 213.37h.01M487.76 229.46h.01M473.48 237.56h.01M477.18 241.26h.01M500.54 219.42h.01M505.16 197.9h.01M507.83 203.41h.01M495.07 208.97h.01M482.55 222.37h.01M499.69 213.88h.01M473.36 232.01h.01M472.97 229.23h.01M501.43 219.32h.01M468.58 241.91h.01M481.54 240.31h.01M500.91 210.41h.01M490.82 209h.01M505.9 206.3h.01M504.98 210.12h.01M508.04 211.71h.01M473.83 240.81h.01M483.62 227.47h.01M487.82 227.05h.01M485.91 218.54h.01M488.33 228.26h.01M500.59 212.73h.01M468.5 239.31h.01M495.83 219.15h.01M468.03 242.04h.01M507.87 211.59h.01M501.09 208.57h.01M472.77 241.7h.01M480.98 227.1h.01M478.38 228.32h.01M500.56 202.42h.01M473.97 238.12h.01M461.57 236.83h.01M487.55 240.6h.01M476.17 241.09h.01M474.63 237.89h.01M491.8 213.43h.01M479.21 237.65h.01M471.98 240.94h.01M496.98 205.22h.01M482.82 233.32h.01M467.77 234.02h.01M482.15 231.91h.01M466.77 239.11h.01M478.38 228.41h.01M472.17 237.42h.01M477.8 238.5h.01M512.31 207h.01M478.91 229h.01M489.87 214.88h.01M479.04 240.53h.01M467.14 238.13h.01M475.22 235.89h.01M472.51 239.41h.01M477.96 225.99h.01M493.68 225.04h.01M476.6 239.31h.01M495.19 223.16h.01M481.16 229.03h.01M501.11 220.73h.01M490.3 212.97h.01M505.82 202.3h.01M493.36 222.97h.01M479.04 241.28h.01M475.78 233.39h.01M497.25 205.05h.01M502.59 204.02h.01M461.76 232.01h.01M500.9 207.24h.01M475.01 233.18h.01M492.12 222.6h.01M476.4 212.09h.01M482.77 237.59h.01M481.03 225.85h.01M473.54 225.15h.01M492.39 223.16h.01M499.46 212.58h.01M485.19 231.31h.01M511.77 215.42h.01M482.97 227.75h.01M484.92 228.46h.01M474.25 233.92h.01M494.24 220.95h.01M486.44 222.73h.01M490.17 224.06h.01M486.81 227.57h.01M485.13 211.99h.01M481.24 230.99h.01M499.05 223.36h.01M478.42 233.08h.01M488.44 214h.01M489.82 222h.01M474.11 232.34h.01M505.12 217.16h.01M495.94 225.34h.01M505.11 195.53h.01M491.67 224.94h.01M507.04 202.48h.01M486.79 214.73h.01M475.04 229.41h.01M495 222.41h.01M473.45 237.63h.01M502.23 213.05h.01M503.4 209.25h.01M499 212.02h.01M479.44 225.85h.01M487.03 225.2h.01M490.17 224.36h.01M472.58 230.54h.01M514.39 204.31h.01M507.73 215.27h.01M469.12 238.34h.01M467.9 241.2h.01M492.92 211.72h.01M494.86 229.29h.01M473.54 241.78h.01M500.64 207.45h.01M485.66 229.32h.01M485.5 228.78h.01M490.76 217.59h.01M499.09 210.56h.01M502.84 206.27h.01M501.36 218.79h.01M474.75 240.66h.01M486.55 226.15h.01M485.66 230.22h.01M492.44 232h.01M471.19 240.75h.01M510.13 207.47h.01M492.82 225.9h.01M484.54 230.14h.01M506.08 202.19h.01M477.4 238.33h.01M487.26 231.19h.01M486.86 225.27h.01M486.91 225.54h.01M473.61 234.69h.01M481.72 221.91h.01M476.59 230.04h.01M491.78 220.18h.01M476.23 235.96h.01M477.62 231.53h.01M485.36 230.72h.01M466.72 239.2h.01M482.74 228.99h.01M504.76 210.35h.01M495.27 227.77h.01M480.05 230.76h.01M489.75 232.85h.01M475.02 234.11h.01M479.11 238.55h.01M487.59 215.82h.01M508.89 198.19h.01M484.83 231.11h.01M469.44 236.66h.01M490.62 225.61h.01M479.89 232.16h.01M500.63 206.17h.01M493.5 219.22h.01M474.58 235.5h.01M492.56 205.4h.01M484.39 230.62h.01M489.04 215.58h.01M469.33 235.68h.01M496.02 207.4h.01M467.31 241.22h.01M486.71 215.9h.01M499.86 203.36h.01M498.27 207.61h.01M473.54 232.87h.01M466.24 238.62h.01M489.51 229.53h.01M485.66 220.61h.01M486.72 217.46h.01M496.42 210.07h.01M474.25 239.14h.01M496.51 209.95h.01M487.95 219.48h.01M482.59 225.86h.01M498.24 200.07h.01M499.33 212.88h.01M503.16 205.83h.01M511.14 209.94h.01M510.39 205h.01M469.56 234.96h.01M464.68 238.33h.01M498.95 203.81h.01M476.36 241.52h.01M481.6 225.6h.01M503.62 215.05h.01M469.45 235.47h.01M498.29 207.95h.01M506.97 201.9h.01M489.59 235.67h.01M473.61 242.25h.01M475.51 237.32h.01M466.45 236.06h.01M479.89 233.12h.01M478.68 235.5h.01M476.07 233.32h.01M472.29 239.19h.01M496.03 209.5h.01M501 202.61h.01M482.86 235.91h.01M466.33 240.55h.01M488.3 220.05h.01M508.22 198.8h.01M493.54 211.57h.01M464.41 238.41h.01M469.94 229.62h.01M487.23 228.76h.01M475.58 230.53h.01M478.53 231.88h.01M470.75 241.34h.01M497.27 215.09h.01M478.22 241.9h.01M469.08 241.05h.01M472.31 239.54h.01M502.4 209.13h.01M463.45 237.6h.01M506.08 203.46h.01M511.3 203.2h.01M467.68 239.08h.01M496.94 217.93h.01M469.51 236h.01M479.88 211.3h.01M501.33 194.93h.01M478.98 233.53h.01M473.68 241.47h.01M486.41 222.42h.01M479.88 218.75h.01M474.89 241.14h.01M488.51 232.9h.01M481.1 227.73h.01M472.68 230.62h.01M480.79 234.86h.01M503.29 205.17h.01M487.53 219.58h.01M476.91 234.9h.01M488.41 229.27h.01M486.95 221.67h.01M497.43 202.98h.01M478.35 233.56h.01M496.66 212.48h.01M486.92 214.3h.01M489.75 223.75h.01M464.22 241.26h.01M487.35 227.02h.01M467.47 242.21h.01M491.57 196.07h.01M484.99 232.19h.01M467.84 239.09h.01M488.46 213.67h.01M464.38 237.11h.01" stroke="#3a74bc" stroke-width="1" stroke-linecap="round" opacity="0.55"/>
<clipPath id="c8"><rect x="448" y="242.5" width="67" height="29.5"/></clipPath>
<g clip-path="url(#c8)">
<ellipse cx="471" cy="252" rx="8.5" ry="8" fill="#c4b0e2" opacity="0.7" transform="rotate(-20 471 252)" filter="url(#b1_6)"/>
</g>
<path d="M469.64 252.25h.01M464.13 252.56h.01M474.13 253.22h.01M466.96 255.26h.01M470.24 249.47h.01M475.48 246.81h.01M479.66 255.73h.01M480.17 248.59h.01M478.91 255.58h.01M475.39 254.19h.01M473.89 251.79h.01M472.37 251.6h.01M473.28 259.49h.01M482.05 246.3h.01M470.24 251.71h.01M478.71 246.72h.01M470.37 252.7h.01M476.17 247.14h.01M456.63 258.89h.01M470.24 247.9h.01M468.73 256.27h.01M479.88 251.4h.01M479.34 251.04h.01M467.16 251.89h.01M472.68 258.17h.01M478.92 259.09h.01M472.68 251.95h.01M470.72 249.84h.01M477.29 253.68h.01M464.24 254.67h.01M479.91 250.52h.01M474.6 254.67h.01M454.5 253.16h.01M467.67 257.54h.01M469.5 249.07h.01M481.42 243.84h.01M470.83 251.49h.01M465.69 261.49h.01M477.63 247.93h.01M474.19 254.01h.01M470.13 249.34h.01M477.81 253.4h.01M469.94 254.91h.01M472.56 257.64h.01M476.98 251.73h.01M473.84 252.11h.01M473.94 243.81h.01M470.1 254.83h.01M481.42 252.8h.01M464.49 256.36h.01M464.72 256.2h.01M475 254.14h.01M471.24 256.86h.01M471.39 249.02h.01M471.72 252.53h.01M471.43 254.85h.01M466.49 255.88h.01M471.87 248.58h.01M467.76 255.7h.01M482.47 252.1h.01M482.16 256.42h.01M467.89 256.1h.01M474.61 247.96h.01M466.62 256.65h.01M470.87 252.65h.01M465.05 252.28h.01M466.87 248.28h.01M459.49 249.26h.01M469.88 250.43h.01M465.66 253.2h.01M467.14 254.77h.01M461.5 256.63h.01M472.21 253.66h.01M484.23 256.69h.01M469.7 253.28h.01M472.83 258.47h.01M464.68 251.96h.01M468.21 250.91h.01M466.5 252.41h.01M461.05 248.79h.01M469.39 260.97h.01M469.34 254.8h.01M474.29 255.07h.01M472.34 260.21h.01M473.73 254.08h.01M480.64 256.76h.01M471.25 258.6h.01M462.89 257.36h.01M469.84 251.06h.01M473.56 256.93h.01M476.79 251.1h.01M471.32 249.87h.01M472.43 260.42h.01M466.94 254.87h.01M468.63 260.99h.01M470.94 255.99h.01M471.71 250.05h.01M474.73 250.53h.01M454.38 256.41h.01M477.71 251.73h.01M479.16 249.76h.01M476.69 245.29h.01M473.82 245.53h.01M472.5 257.57h.01M472.58 246.84h.01M476.56 246.01h.01M469.78 263.8h.01M473.77 248.32h.01M472.22 246.74h.01M469.37 249.31h.01M481.84 252.48h.01M466.8 251.23h.01M466.19 254.14h.01M467.92 243.87h.01M467.31 251.6h.01M478.42 250.45h.01M462.91 256.15h.01M466.74 261.06h.01M473.75 254.23h.01M462.94 248.66h.01M476.85 246.87h.01M461.04 255.26h.01M476.78 251.07h.01M467.67 256.94h.01M466.5 247.07h.01M472.16 256.03h.01M466.57 250.06h.01M469.2 243.07h.01M479.72 245.48h.01M471.03 250.9h.01M465.59 249.46h.01M470.69 247.75h.01M466.34 259.09h.01M466.15 249.71h.01M468.78 255.04h.01M474.93 252.4h.01M468.24 252.28h.01M477.14 261.17h.01M475.27 245.28h.01M483.12 259.98h.01M461.16 252.18h.01M470.59 251.82h.01M465.74 256.14h.01M476.15 255.95h.01M473.55 255.07h.01M470.69 251.43h.01M468 252.41h.01M467.95 259.25h.01M464.71 262.03h.01M475.47 248.88h.01M471.97 258.01h.01M472.22 254.99h.01M473.26 253.22h.01M473.75 246.99h.01M479.17 244.31h.01M470.94 254.86h.01M462.09 253.93h.01M469.83 255.25h.01M465.19 247.58h.01M470.35 260.45h.01M479.6 257.22h.01M470.28 248.45h.01M471.42 252.28h.01M471.47 252.2h.01M469.31 251.12h.01M469.41 251.33h.01M468.61 255.97h.01M470.88 260.43h.01M469.16 254h.01M470.46 253.62h.01M461.8 256.9h.01M470.6 250.02h.01M471.96 255.41h.01M472.68 250.14h.01M464.09 251.08h.01M467.38 257.2h.01M472.68 244.02h.01M466.82 252.23h.01M473.14 250.43h.01M467.58 253.61h.01M462.87 249.05h.01M462.39 251.87h.01M467.9 253.45h.01M469.68 256.14h.01M464.78 254.73h.01M478.23 249.42h.01M470.15 249.55h.01M466.71 254.63h.01M476.4 253.89h.01M468.74 258.11h.01M465.96 254.73h.01M468.9 249.41h.01M476.88 256.78h.01M463.08 252.84h.01M479.07 256.04h.01M468.89 252.54h.01M474.44 248.34h.01M470.23 252.31h.01M472.77 249.29h.01M474.31 251.04h.01M478.59 252.44h.01M467.25 253.2h.01M480.31 247.56h.01M464.72 255.18h.01M473.44 253.84h.01M474.75 251.64h.01M472.19 254.97h.01M476.65 253.52h.01M463.43 257.03h.01M472.09 255.78h.01M476.42 251.09h.01M472.99 257.33h.01M466.23 256.53h.01M473.31 255.87h.01M472 251.78h.01M464.23 249.17h.01M477.44 248.68h.01M468.63 254.04h.01M466.59 256.24h.01M471.82 252.55h.01M470.08 259.85h.01M468.5 248.17h.01M470.01 245.55h.01M468.94 252.95h.01M473.38 249.13h.01M472.88 252.46h.01M478.46 253.2h.01M470.08 265.3h.01M469.81 247.64h.01M471.13 248.23h.01M472.72 252.13h.01M458.53 251.04h.01M464.83 251.9h.01M474.82 257.27h.01M474.18 251.58h.01M471.47 252.71h.01M473.85 256.84h.01M475.17 243.96h.01M469.73 254h.01M467.39 254.1h.01M479.35 251.14h.01M473.07 247.87h.01M469.91 251.51h.01M467.57 253.8h.01M480.58 252.75h.01M468.93 250.57h.01M468.09 256.76h.01M464.46 257.25h.01M471.69 256.15h.01M473.28 248.19h.01M469.5 252.26h.01M468.73 253.82h.01M474 253.18h.01M466.87 259.77h.01M470.54 254h.01M474.71 250.66h.01M465.51 254.14h.01M478.8 251.35h.01M471.39 256.27h.01M471.34 254h.01M468.17 251.63h.01M473.83 250.5h.01M467.84 250.7h.01M471.3 249.09h.01M477.08 248.66h.01M476.93 248.34h.01M464.71 258.64h.01M476.55 245.79h.01M468.96 254.06h.01M471.26 247.8h.01M473 255.73h.01M473.21 253.52h.01M470.07 258.84h.01M475.1 253.89h.01M475.08 247.06h.01M468.47 254.09h.01M470.4 250.49h.01M474.77 249.36h.01M475.4 246.96h.01M472.63 251.07h.01M472.85 252.73h.01M474.11 252.79h.01M473.1 263.01h.01M472.83 251.63h.01M470.07 253.72h.01M469.48 253.16h.01M459.04 256.26h.01M461.79 255.05h.01M473.3 252.41h.01M474.84 250.75h.01M474.63 254.86h.01M472.45 254.33h.01M468.57 250.08h.01M474.2 251.85h.01M469.71 254.81h.01M470.91 251.86h.01M478.62 249.24h.01M464.13 255.1h.01M469.11 256.33h.01M470.31 254.02h.01M460.81 254.39h.01M465.19 254.92h.01M478.4 255.64h.01M472.59 248.32h.01M471.49 255.65h.01M477.59 249.55h.01M471.41 268.83h.01M481.88 251.76h.01M471.02 253.23h.01M468.06 253.62h.01M474.7 245.14h.01M473.23 250h.01M475.06 260.16h.01M471.16 254.5h.01M461.66 255.18h.01M460.67 256.74h.01M471.31 253.1h.01M474.83 247.55h.01M467.36 254.8h.01M472.4 254.69h.01M461.24 250.24h.01M463.3 254.8h.01M472.45 245.27h.01M476.14 254.72h.01M479.02 255.36h.01M469.72 261.44h.01M468.59 248.37h.01M475.08 251.17h.01M465.54 253.57h.01M471.11 257.54h.01M471.63 254.17h.01M471.21 253.3h.01M476.49 253.6h.01M472.73 250.45h.01M470.28 257.44h.01M458.9 255.98h.01M476.73 255.64h.01M476.5 251.81h.01M474.09 252.89h.01M471.43 248.02h.01M471.33 246.34h.01M475.19 244.81h.01M469.25 255.76h.01M467.89 245h.01M467.97 259.95h.01M469.61 252.15h.01M465.14 249.43h.01M467.46 255.79h.01M459.35 251.98h.01M470.71 253.3h.01M475.93 250.09h.01M457.48 263.05h.01M478.84 254h.01M472.22 256.57h.01M467.02 252.51h.01M474.37 257.11h.01M469.74 253.18h.01M470.86 253.57h.01M478.93 252.02h.01M472.33 253.7h.01M471.12 247.29h.01M470.61 255.91h.01M468.02 247.35h.01M467.09 256.44h.01M470.36 252.96h.01M467.21 254.72h.01M475.39 246.77h.01M471.25 257.17h.01M474.61 251.07h.01M478.8 253.78h.01M475.25 248.36h.01M466.61 251.57h.01M479.66 250.16h.01M462.81 260.36h.01M476.51 245.41h.01M457.42 255.5h.01M465.76 252.79h.01M470.3 252.12h.01M466.8 252.6h.01M461.76 260.95h.01M464.4 258.43h.01M472.35 252.62h.01M463.47 259.34h.01M475.66 255.7h.01M476.03 248.57h.01M476.89 247.78h.01M473.25 255.14h.01M473.69 261.06h.01M465.75 244.85h.01M484.17 245.58h.01M478.23 253.71h.01M473.15 248.81h.01M473.92 255.65h.01M476.89 251.83h.01M459.57 251.85h.01M474.77 249.68h.01M468.61 255.47h.01M458.03 253.93h.01M477.44 253.17h.01M467.56 255.59h.01M472.83 251.06h.01M467.8 255.85h.01M468.49 252.4h.01M479.52 250.85h.01M471.35 248.65h.01M474.96 257.59h.01M462.67 254.92h.01M477.21 255.7h.01M470.67 262.26h.01M475.58 258.07h.01M465.82 254.83h.01M473.11 252.92h.01M473.77 251.83h.01M464.01 256.89h.01M471.52 249.32h.01M464.01 247.85h.01M477.83 251.91h.01M472.98 252.5h.01M473.41 258.68h.01M489.03 254.17h.01M473.42 246.31h.01M467.83 250.22h.01M476.56 254.3h.01M474.11 256.91h.01M478.11 250.97h.01M466.04 255.08h.01M471.61 262.56h.01M468.18 251.07h.01M468.1 256.49h.01M470 254.85h.01M479.59 246.07h.01M473.17 255.88h.01M467.61 260.49h.01M470.23 253.1h.01M472.53 253.09h.01M476.86 253.71h.01M470.78 257.3h.01M473.24 255.9h.01M484.85 244.19h.01M469.11 249.73h.01M470.91 250.7h.01M461.28 245.06h.01M474.13 246.24h.01M468.44 253.13h.01M479.59 247.05h.01M476.1 247.58h.01M476.42 254.83h.01M468.97 255.2h.01M470.48 256.72h.01M468.9 253.07h.01M470.95 251.26h.01M468.11 250.38h.01M468.67 254.92h.01M469.11 245.99h.01M469.76 249.75h.01M469.96 255.91h.01M476.9 254.5h.01M476.32 250.81h.01M466.66 249.68h.01M482.81 251.15h.01M472.02 249.51h.01M477.17 250.24h.01M479.35 245.85h.01M466.34 262.48h.01M475.71 257.67h.01M474.61 248.1h.01M475.63 246.35h.01M475.06 251.32h.01M477.11 253.47h.01M465.12 260.5h.01M466.13 254.54h.01M472.32 247.24h.01M461.08 257.88h.01M468.65 255h.01M467.96 247.33h.01M472.65 251.3h.01M475.3 250.18h.01M470.98 248.84h.01M467.15 255.36h.01M467.64 258.73h.01M474.58 256.02h.01M472.86 248.53h.01M472.22 250.06h.01M472.76 255.32h.01M471.2 251.52h.01M463.49 254.25h.01M473.98 261.33h.01M464.43 252.61h.01M472.14 249.02h.01M474.58 251.48h.01M485.38 255.06h.01M470.57 252.55h.01M469.44 252.36h.01M465.14 255.82h.01M465.09 253.86h.01M463.33 257.41h.01M465.43 265.88h.01M473.74 249.07h.01M470.77 252.21h.01M472.56 252.13h.01M460.07 248.01h.01M461.56 259.02h.01M461.94 256.04h.01M476.49 249.85h.01M464.46 256.09h.01M470.39 249.41h.01M473.46 256.75h.01M465.26 252.55h.01M465.76 248.54h.01M477.08 254.21h.01M474.57 251.12h.01M475.91 251.81h.01M470.58 246.28h.01M469.84 247.52h.01M472.31 248.21h.01M470.13 252.66h.01M479.61 249.28h.01M474.19 257.72h.01M476.02 257.74h.01M470.9 253.6h.01M467.61 253.82h.01M473.51 260.19h.01M469.57 253.77h.01M468.46 258.24h.01M474.66 249.59h.01M481.25 248.83h.01M472.27 251.36h.01M469.7 250.51h.01M468.03 255.68h.01M462.55 252.55h.01M474.16 251.38h.01M474.69 253.41h.01M470.02 262.36h.01M469.01 245.6h.01M466.95 254.79h.01M479.36 252.76h.01M471.33 251.4h.01M474.67 255.38h.01M480.67 251.74h.01M460.51 258.9h.01M472.75 250.57h.01M472.3 251.61h.01M469.44 252.6h.01M469.99 249.15h.01M477.86 251.27h.01M466.44 250.15h.01M466.67 250.6h.01M478.19 244.47h.01M477.99 255.15h.01M472.99 249.87h.01M474.21 248.05h.01M472.85 255.71h.01M469.23 251.86h.01M471.03 254.41h.01M472.68 251.62h.01M469.46 255.09h.01M463.46 256.55h.01M467.54 245.03h.01M474.79 257.88h.01M472.04 256.9h.01M472.77 246.14h.01M474.06 255.68h.01M475.96 250.22h.01M472.16 253.07h.01M472.24 258.01h.01M475.65 255.54h.01M477.2 254.9h.01M471.87 261.23h.01M468.49 258.55h.01M477.35 248.12h.01M466.95 249.02h.01M474.41 255.32h.01M466.65 247.3h.01M472.01 251.14h.01M477.96 248.93h.01M478.97 247.1h.01M466.58 260.37h.01M464.47 256.74h.01M454.03 258.22h.01M475.6 255.14h.01M478.73 248.44h.01M474.33 256.9h.01M472.67 261.09h.01M475.38 250.85h.01M466.38 253.98h.01M476.28 255.98h.01M475.53 243.01h.01M475.93 245.87h.01M473.55 247.7h.01M466.58 247.73h.01M469.68 253.46h.01M467.12 255.67h.01M480.75 249.32h.01M477.64 250.46h.01M472.3 256.42h.01M472.46 257.03h.01M474.25 257.1h.01M467.8 253.55h.01M474 251.98h.01M475.88 257.48h.01M474.1 253.61h.01M473.4 257.73h.01M457.96 255.72h.01M470.28 253.06h.01M463.31 253.06h.01M462.76 255.9h.01M483.28 250.33h.01M468.18 252.11h.01M473.02 260.6h.01M467.73 247.86h.01M468.15 257.71h.01M478 245.81h.01M462.32 257.41h.01M472.65 249.11h.01M468.38 254.25h.01M477.81 250.82h.01M474.46 248.33h.01M469.99 248.17h.01M462.67 252.99h.01M475.26 251.52h.01M477.31 254.14h.01M476.78 257.71h.01M467.4 246.97h.01M475.07 253.44h.01M466.66 252.57h.01M472.5 252.48h.01M473.53 253.42h.01M471.13 256.3h.01M466.75 256.25h.01M470.05 253.23h.01M468.88 260.39h.01M465.52 256.17h.01M476.53 250.94h.01M471.98 257.46h.01M467.02 249.57h.01M467.28 250.34h.01M475.38 257.56h.01" stroke="#9068c4" stroke-width="1" stroke-linecap="round" opacity="0.45"/>
<line x1="447.5" y1="175.8" x2="447.5" y2="272.2" stroke="#3a3a3a" stroke-width="1"/>
<line x1="419.3" y1="252.5" x2="447.5" y2="252.5" stroke="#3a3a3a" stroke-width="1"/>
<line x1="447.5" y1="242.5" x2="515" y2="242.5" stroke="#3a3a3a" stroke-width="1"/>
<rect x="3.8" y="305.5" width="9.2" height="8.3" fill="#e7a8cc" stroke="none" stroke-width="1"/>
<text x="16.8" y="313.1" font-size="9.55" text-anchor="start" fill="#111" stroke="#111" stroke-width="0.21">Q1: CD31-PECy7 labeled PLTs</text>
<rect x="3.8" y="320.4" width="9.2" height="8.3" fill="#3f72b8" stroke="none" stroke-width="1"/>
<text x="16.8" y="328" font-size="9.55" text-anchor="start" fill="#111" stroke="#111" stroke-width="0.21">Q2: Aggregates (double-color)</text>
<rect x="161.6" y="305.5" width="9.2" height="8.3" fill="#8c8c8c" stroke="none" stroke-width="1"/>
<text x="174.6" y="313.1" font-size="9.55" text-anchor="start" fill="#111" stroke="#111" stroke-width="0.21">Q3: Plasma/RBCs (unstained)</text>
<rect x="161.6" y="320.4" width="9.2" height="8.3" fill="#9b7cc4" stroke="none" stroke-width="1"/>
<text x="174.6" y="328" font-size="9.55" text-anchor="start" fill="#111" stroke="#111" stroke-width="0.21">Q4: CD9-APC labeled PLTs</text>
<rect x="311.5" y="305.5" width="9.2" height="8.3" fill="#f4b982" stroke="none" stroke-width="1"/>
<text x="324.5" y="313.1" font-size="9.55" text-anchor="start" fill="#111" stroke="#111" stroke-width="0.21">Ter119-PerCPCy5.5 labeled RBCs</text>
<rect x="311.5" y="320.4" width="9.2" height="8.3" fill="#000" stroke="none" stroke-width="1"/>
<text x="324.5" y="328" font-size="9.55" text-anchor="start" fill="#111" stroke="#111" stroke-width="0.21">PLTs</text>
<text x="2" y="353.2" font-size="14.5" font-weight="bold" text-anchor="start" fill="#000" stroke="#000" stroke-width="0.32">B</text>
<text x="29.6" y="361.7" font-size="12.4" text-anchor="middle" fill="#111" stroke="#111" stroke-width="0.27">30</text>
<text x="29.6" y="400.12" font-size="12.4" text-anchor="middle" fill="#111" stroke="#111" stroke-width="0.27">25</text>
<text x="29.6" y="437.75" font-size="12.4" text-anchor="middle" fill="#111" stroke="#111" stroke-width="0.27">20</text>
<text x="29.6" y="475.38" font-size="12.4" text-anchor="middle" fill="#111" stroke="#111" stroke-width="0.27">15</text>
<text x="29.6" y="513" font-size="12.4" text-anchor="middle" fill="#111" stroke="#111" stroke-width="0.27">10</text>
<text x="30" y="550.62" font-size="12.4" text-anchor="middle" fill="#111" stroke="#111" stroke-width="0.27">5</text>
<text x="30" y="588.25" font-size="12.4" text-anchor="middle" fill="#111" stroke="#111" stroke-width="0.27">0</text>
<line x1="47.5" y1="360.2" x2="47.5" y2="585.5" stroke="#000" stroke-width="1.35"/>
<line x1="47" y1="585" x2="394" y2="585" stroke="#000" stroke-width="1.3"/>
<text x="47.1" y="602" font-size="12.5" text-anchor="middle" fill="#111" stroke="#111" stroke-width="0.27">0</text>
<text x="128.8" y="602" font-size="12.5" text-anchor="middle" fill="#111" stroke="#111" stroke-width="0.27">2.5</text>
<text x="210.5" y="602" font-size="12.5" text-anchor="middle" fill="#111" stroke="#111" stroke-width="0.27">5</text>
<text x="292.3" y="602" font-size="12.5" text-anchor="middle" fill="#111" stroke="#111" stroke-width="0.27">7.5</text>
<text x="374" y="602" font-size="12.5" text-anchor="middle" fill="#111" stroke="#111" stroke-width="0.27">10</text>
<text x="218.7" y="626.5" font-size="14.3" font-weight="bold" text-anchor="middle" fill="#000" stroke="#000" stroke-width="0.31">time (min)</text>
<text x="12.3" y="478.5" font-size="13.9" font-weight="bold" text-anchor="middle" fill="#000" stroke="#000" stroke-width="0.31" transform="rotate(-90 12.3 478.5)">% double-colored events</text>
<path d="M62.3 378.8L62.3 375.4M62.3 378.8L65.53 377.75M62.3 378.8L64.3 381.55M62.3 378.8L60.3 381.55M62.3 378.8L59.07 377.75" stroke="#e8a646" stroke-width="1.5" stroke-linecap="butt"/>
<path d="M62.3 393.8L62.3 390.4M62.3 393.8L65.53 392.75M62.3 393.8L64.3 396.55M62.3 393.8L60.3 396.55M62.3 393.8L59.07 392.75" stroke="#b03a52" stroke-width="1.5" stroke-linecap="butt"/>
<path d="M78.4 378.8L78.4 375.4M78.4 378.8L81.63 377.75M78.4 378.8L80.4 381.55M78.4 378.8L76.4 381.55M78.4 378.8L75.17 377.75" stroke="#e8a646" stroke-width="1.5" stroke-linecap="butt"/>
<path d="M78.4 393.8L78.4 390.4M78.4 393.8L81.63 392.75M78.4 393.8L80.4 396.55M78.4 393.8L76.4 396.55M78.4 393.8L75.17 392.75" stroke="#b03a52" stroke-width="1.5" stroke-linecap="butt"/>
<path d="M96.2 378.8L96.2 375.4M96.2 378.8L99.43 377.75M96.2 378.8L98.2 381.55M96.2 378.8L94.2 381.55M96.2 378.8L92.97 377.75" stroke="#e8a646" stroke-width="1.5" stroke-linecap="butt"/>
<path d="M96.2 393.8L96.2 390.4M96.2 393.8L99.43 392.75M96.2 393.8L98.2 396.55M96.2 393.8L94.2 396.55M96.2 393.8L92.97 392.75" stroke="#b03a52" stroke-width="1.5" stroke-linecap="butt"/>
<path d="M111.9 378.8L111.9 375.4M111.9 378.8L115.13 377.75M111.9 378.8L113.9 381.55M111.9 378.8L109.9 381.55M111.9 378.8L108.67 377.75" stroke="#e8a646" stroke-width="1.5" stroke-linecap="butt"/>
<path d="M111.9 393.8L111.9 390.4M111.9 393.8L115.13 392.75M111.9 393.8L113.9 396.55M111.9 393.8L109.9 396.55M111.9 393.8L108.67 392.75" stroke="#b03a52" stroke-width="1.5" stroke-linecap="butt"/>
<path d="M96.2 371.8L96.2 368.4M96.2 371.8L99.43 370.75M96.2 371.8L98.2 374.55M96.2 371.8L94.2 374.55M96.2 371.8L92.97 370.75" stroke="#1c1c34" stroke-width="1.5" stroke-linecap="butt"/>
<path d="M211.8 371.8L211.8 368.4M211.8 371.8L215.03 370.75M211.8 371.8L213.8 374.55M211.8 371.8L209.8 374.55M211.8 371.8L208.57 370.75" stroke="#1c1c34" stroke-width="1.5" stroke-linecap="butt"/>
<path d="M211.8 379.3L211.8 375.9M211.8 379.3L215.03 378.25M211.8 379.3L213.8 382.05M211.8 379.3L209.8 382.05M211.8 379.3L208.57 378.25" stroke="#e8a646" stroke-width="1.5" stroke-linecap="butt"/>
<path d="M211.8 386.6L211.8 383.2M211.8 386.6L215.03 385.55M211.8 386.6L213.8 389.35M211.8 386.6L209.8 389.35M211.8 386.6L208.57 385.55" stroke="#e8b48c" stroke-width="1.5" stroke-linecap="butt"/>
<path d="M211.8 394.3L211.8 390.9M211.8 394.3L215.03 393.25M211.8 394.3L213.8 397.05M211.8 394.3L209.8 397.05M211.8 394.3L208.57 393.25" stroke="#b03a52" stroke-width="1.5" stroke-linecap="butt"/>
<path d="M292.4 371.8L292.4 368.4M292.4 371.8L295.63 370.75M292.4 371.8L294.4 374.55M292.4 371.8L290.4 374.55M292.4 371.8L289.17 370.75" stroke="#1c1c34" stroke-width="1.5" stroke-linecap="butt"/>
<path d="M292.4 379.3L292.4 375.9M292.4 379.3L295.63 378.25M292.4 379.3L294.4 382.05M292.4 379.3L290.4 382.05M292.4 379.3L289.17 378.25" stroke="#e8a646" stroke-width="1.5" stroke-linecap="butt"/>
<path d="M292.4 386.6L292.4 383.2M292.4 386.6L295.63 385.55M292.4 386.6L294.4 389.35M292.4 386.6L290.4 389.35M292.4 386.6L289.17 385.55" stroke="#e8b48c" stroke-width="1.5" stroke-linecap="butt"/>
<path d="M292.4 394.3L292.4 390.9M292.4 394.3L295.63 393.25M292.4 394.3L294.4 397.05M292.4 394.3L290.4 397.05M292.4 394.3L289.17 393.25" stroke="#b03a52" stroke-width="1.5" stroke-linecap="butt"/>
<path d="M373.4 371.8L373.4 368.4M373.4 371.8L376.63 370.75M373.4 371.8L375.4 374.55M373.4 371.8L371.4 374.55M373.4 371.8L370.17 370.75" stroke="#1c1c34" stroke-width="1.5" stroke-linecap="butt"/>
<path d="M373.4 379.3L373.4 375.9M373.4 379.3L376.63 378.25M373.4 379.3L375.4 382.05M373.4 379.3L371.4 382.05M373.4 379.3L370.17 378.25" stroke="#e8a646" stroke-width="1.5" stroke-linecap="butt"/>
<path d="M373.4 386.6L373.4 383.2M373.4 386.6L376.63 385.55M373.4 386.6L375.4 389.35M373.4 386.6L371.4 389.35M373.4 386.6L370.17 385.55" stroke="#e8b48c" stroke-width="1.5" stroke-linecap="butt"/>
<path d="M373.4 394.3L373.4 390.9M373.4 394.3L376.63 393.25M373.4 394.3L375.4 397.05M373.4 394.3L371.4 397.05M373.4 394.3L370.17 393.25" stroke="#b03a52" stroke-width="1.5" stroke-linecap="butt"/>
<path d="M46.3 581.2L62.5 581.2L78.8 581.2L96.2 581.2L112.5 581.2L209.8 579.3L291.3 581.3L372.9 580.3" fill="none" stroke="#2a2a2a" stroke-width="1.15"/>
<path d="M46.3 580.8L66.3 580.6L82.5 580.6L98.8 573.5L115.5 554.3L213.3 465L294.7 444.4L375.5 418.7" fill="none" stroke="#2a2a2a" stroke-width="1.15"/>
<path d="M46.3 581L62.5 580.8L79.5 575.5L95.8 563.8L112 558.3L210 498L291.2 457.7L373.2 435.2" fill="none" stroke="#2a2a2a" stroke-width="1.15"/>
<path d="M46.3 566.3L60 525.8L76.3 499.3L92.5 490.8L108.3 483L207 495.8L288.1 483L369.7 483.7" fill="none" stroke="#2a2a2a" stroke-width="1.15"/>
<path d="M46.3 568.8L57 522L73 458.6L89.3 442.5L105.5 457.6L203.3 491.8L284.6 509.5L366.2 524" fill="none" stroke="#2a2a2a" stroke-width="1.15"/>
<line x1="210" y1="498" x2="210" y2="490" stroke="#2a2a2a" stroke-width="1.1"/>
<line x1="207" y1="490" x2="213" y2="490" stroke="#2a2a2a" stroke-width="1.1"/>
<line x1="291.2" y1="457.7" x2="291.2" y2="450.5" stroke="#2a2a2a" stroke-width="1.1"/>
<line x1="288.2" y1="450.5" x2="294.2" y2="450.5" stroke="#2a2a2a" stroke-width="1.1"/>
<rect x="42.3" y="577" width="8" height="8" fill="#000" stroke="#333" stroke-width="0.8"/>
<rect x="58.5" y="576.8" width="8" height="8" fill="#000" stroke="#333" stroke-width="0.8"/>
<rect x="75.5" y="571.5" width="8" height="8" fill="#000" stroke="#333" stroke-width="0.8"/>
<rect x="91.8" y="559.8" width="8" height="8" fill="#000" stroke="#333" stroke-width="0.8"/>
<rect x="108" y="554.3" width="8" height="8" fill="#000" stroke="#333" stroke-width="0.8"/>
<rect x="206" y="494" width="8" height="8" fill="#000" stroke="#333" stroke-width="0.8"/>
<rect x="287.2" y="453.7" width="8" height="8" fill="#000" stroke="#333" stroke-width="0.8"/>
<rect x="369.2" y="431.2" width="8" height="8" fill="#000" stroke="#333" stroke-width="0.8"/>
<line x1="115.5" y1="554.3" x2="115.5" y2="540.8" stroke="#2a2a2a" stroke-width="1.1"/>
<line x1="112.5" y1="540.8" x2="118.5" y2="540.8" stroke="#2a2a2a" stroke-width="1.1"/>
<line x1="213.3" y1="465" x2="213.3" y2="448.8" stroke="#2a2a2a" stroke-width="1.1"/>
<line x1="210.3" y1="448.8" x2="216.3" y2="448.8" stroke="#2a2a2a" stroke-width="1.1"/>
<line x1="294.7" y1="444.4" x2="294.7" y2="420.2" stroke="#2a2a2a" stroke-width="1.1"/>
<line x1="291.7" y1="420.2" x2="297.7" y2="420.2" stroke="#2a2a2a" stroke-width="1.1"/>
<line x1="375.5" y1="418.7" x2="375.5" y2="402.9" stroke="#2a2a2a" stroke-width="1.1"/>
<line x1="372.5" y1="402.9" x2="378.5" y2="402.9" stroke="#2a2a2a" stroke-width="1.1"/>
<rect x="42.3" y="576.8" width="8" height="8" fill="#dfae84" stroke="#333" stroke-width="0.8"/>
<rect x="62.3" y="576.6" width="8" height="8" fill="#dfae84" stroke="#333" stroke-width="0.8"/>
<rect x="78.5" y="576.6" width="8" height="8" fill="#dfae84" stroke="#333" stroke-width="0.8"/>
<rect x="94.8" y="569.5" width="8" height="8" fill="#dfae84" stroke="#333" stroke-width="0.8"/>
<rect x="111.5" y="550.3" width="8" height="8" fill="#dfae84" stroke="#333" stroke-width="0.8"/>
<rect x="209.3" y="461" width="8" height="8" fill="#dfae84" stroke="#333" stroke-width="0.8"/>
<rect x="290.7" y="440.4" width="8" height="8" fill="#dfae84" stroke="#333" stroke-width="0.8"/>
<rect x="371.5" y="414.7" width="8" height="8" fill="#dfae84" stroke="#333" stroke-width="0.8"/>
<line x1="46.3" y1="566.3" x2="46.3" y2="560.5" stroke="#2a2a2a" stroke-width="1.1"/>
<line x1="43.3" y1="560.5" x2="49.3" y2="560.5" stroke="#2a2a2a" stroke-width="1.1"/>
<line x1="60" y1="525.8" x2="60" y2="513.8" stroke="#2a2a2a" stroke-width="1.1"/>
<line x1="57" y1="513.8" x2="63" y2="513.8" stroke="#2a2a2a" stroke-width="1.1"/>
<line x1="76.3" y1="499.3" x2="76.3" y2="489.3" stroke="#2a2a2a" stroke-width="1.1"/>
<line x1="73.3" y1="489.3" x2="79.3" y2="489.3" stroke="#2a2a2a" stroke-width="1.1"/>
<line x1="92.5" y1="490.8" x2="92.5" y2="483.3" stroke="#2a2a2a" stroke-width="1.1"/>
<line x1="89.5" y1="483.3" x2="95.5" y2="483.3" stroke="#2a2a2a" stroke-width="1.1"/>
<line x1="108.3" y1="483" x2="108.3" y2="469.5" stroke="#2a2a2a" stroke-width="1.1"/>
<line x1="105.3" y1="469.5" x2="111.3" y2="469.5" stroke="#2a2a2a" stroke-width="1.1"/>
<line x1="207" y1="495.8" x2="207" y2="479.3" stroke="#2a2a2a" stroke-width="1.1"/>
<line x1="204" y1="479.3" x2="210" y2="479.3" stroke="#2a2a2a" stroke-width="1.1"/>
<line x1="369.7" y1="483.7" x2="369.7" y2="451.6" stroke="#2a2a2a" stroke-width="1.1"/>
<line x1="366.7" y1="451.6" x2="372.7" y2="451.6" stroke="#2a2a2a" stroke-width="1.1"/>
<circle cx="46.3" cy="566.3" r="4.3" fill="#c22a3c" stroke="#333" stroke-width="0.8"/>
<circle cx="60" cy="525.8" r="4.3" fill="#c22a3c" stroke="#333" stroke-width="0.8"/>
<circle cx="76.3" cy="499.3" r="4.3" fill="#c22a3c" stroke="#333" stroke-width="0.8"/>
<circle cx="92.5" cy="490.8" r="4.3" fill="#c22a3c" stroke="#333" stroke-width="0.8"/>
<circle cx="108.3" cy="483" r="4.3" fill="#c22a3c" stroke="#333" stroke-width="0.8"/>
<circle cx="207" cy="495.8" r="4.3" fill="#c22a3c" stroke="#333" stroke-width="0.8"/>
<circle cx="288.1" cy="483" r="4.3" fill="#c22a3c" stroke="#333" stroke-width="0.8"/>
<circle cx="369.7" cy="483.7" r="4.3" fill="#c22a3c" stroke="#333" stroke-width="0.8"/>
<line x1="57" y1="522" x2="57" y2="505.8" stroke="#2a2a2a" stroke-width="1.1"/>
<line x1="54" y1="505.8" x2="60" y2="505.8" stroke="#2a2a2a" stroke-width="1.1"/>
<line x1="73" y1="458.6" x2="73" y2="447.5" stroke="#2a2a2a" stroke-width="1.1"/>
<line x1="70" y1="447.5" x2="76" y2="447.5" stroke="#2a2a2a" stroke-width="1.1"/>
<line x1="89.3" y1="442.5" x2="89.3" y2="431.3" stroke="#2a2a2a" stroke-width="1.1"/>
<line x1="86.3" y1="431.3" x2="92.3" y2="431.3" stroke="#2a2a2a" stroke-width="1.1"/>
<line x1="105.5" y1="457.6" x2="105.5" y2="452" stroke="#2a2a2a" stroke-width="1.1"/>
<line x1="102.5" y1="452" x2="108.5" y2="452" stroke="#2a2a2a" stroke-width="1.1"/>
<line x1="203.3" y1="491.8" x2="203.3" y2="483" stroke="#2a2a2a" stroke-width="1.1"/>
<line x1="200.3" y1="483" x2="206.3" y2="483" stroke="#2a2a2a" stroke-width="1.1"/>
<line x1="284.6" y1="509.5" x2="284.6" y2="504" stroke="#2a2a2a" stroke-width="1.1"/>
<line x1="281.6" y1="504" x2="287.6" y2="504" stroke="#2a2a2a" stroke-width="1.1"/>
<line x1="366.2" y1="524" x2="366.2" y2="511.8" stroke="#2a2a2a" stroke-width="1.1"/>
<line x1="363.2" y1="511.8" x2="369.2" y2="511.8" stroke="#2a2a2a" stroke-width="1.1"/>
<circle cx="46.3" cy="568.8" r="4.3" fill="#f4a031" stroke="#333" stroke-width="0.8"/>
<circle cx="57" cy="522" r="4.3" fill="#f4a031" stroke="#333" stroke-width="0.8"/>
<circle cx="73" cy="458.6" r="4.3" fill="#f4a031" stroke="#333" stroke-width="0.8"/>
<circle cx="89.3" cy="442.5" r="4.3" fill="#f4a031" stroke="#333" stroke-width="0.8"/>
<circle cx="105.5" cy="457.6" r="4.3" fill="#f4a031" stroke="#333" stroke-width="0.8"/>
<circle cx="203.3" cy="491.8" r="4.3" fill="#f4a031" stroke="#333" stroke-width="0.8"/>
<circle cx="284.6" cy="509.5" r="4.3" fill="#f4a031" stroke="#333" stroke-width="0.8"/>
<circle cx="366.2" cy="524" r="4.3" fill="#f4a031" stroke="#333" stroke-width="0.8"/>
<circle cx="46.3" cy="581.2" r="4.3" fill="#c6c6c6" stroke="#333" stroke-width="0.8"/>
<circle cx="62.5" cy="581.2" r="4.3" fill="#c6c6c6" stroke="#333" stroke-width="0.8"/>
<circle cx="78.8" cy="581.2" r="4.3" fill="#c6c6c6" stroke="#333" stroke-width="0.8"/>
<circle cx="96.2" cy="581.2" r="4.3" fill="#c6c6c6" stroke="#333" stroke-width="0.8"/>
<circle cx="112.5" cy="581.2" r="4.3" fill="#c6c6c6" stroke="#333" stroke-width="0.8"/>
<circle cx="209.8" cy="579.3" r="4.3" fill="#c6c6c6" stroke="#333" stroke-width="0.8"/>
<circle cx="291.3" cy="581.3" r="4.3" fill="#c6c6c6" stroke="#333" stroke-width="0.8"/>
<circle cx="372.9" cy="580.3" r="4.3" fill="#c6c6c6" stroke="#333" stroke-width="0.8"/>
<rect x="416.1" y="421.1" width="7" height="7" fill="#000" stroke="#333" stroke-width="0.8"/>
<text x="432.3" y="429" font-size="11.2" text-anchor="start" fill="#111" stroke="#111" stroke-width="0.25">PMA</text>
<circle cx="419.6" cy="446.5" r="3.6" fill="#f4a031" stroke="#333" stroke-width="0.8"/>
<text x="432.3" y="450.9" font-size="11.2" text-anchor="start" fill="#111" stroke="#111" stroke-width="0.25">Collagen</text>
<rect x="416.1" y="464.8" width="7" height="7" fill="#dfae84" stroke="#333" stroke-width="0.8"/>
<text x="432.3" y="472.7" font-size="11.2" text-anchor="start" fill="#111" stroke="#111" stroke-width="0.25">Aggretin A</text>
<circle cx="419.6" cy="489.9" r="3.6" fill="#c22a3c" stroke="#333" stroke-width="0.8"/>
<text x="432.3" y="494.3" font-size="11.2" text-anchor="start" fill="#111" stroke="#111" stroke-width="0.25">Botrocetin</text>
<circle cx="419.6" cy="511.6" r="3.6" fill="#c6c6c6" stroke="#333" stroke-width="0.8"/>
<text x="432.3" y="516" font-size="11.2" text-anchor="start" fill="#111" stroke="#111" stroke-width="0.25">No stimulus</text>
</svg></body></html>
